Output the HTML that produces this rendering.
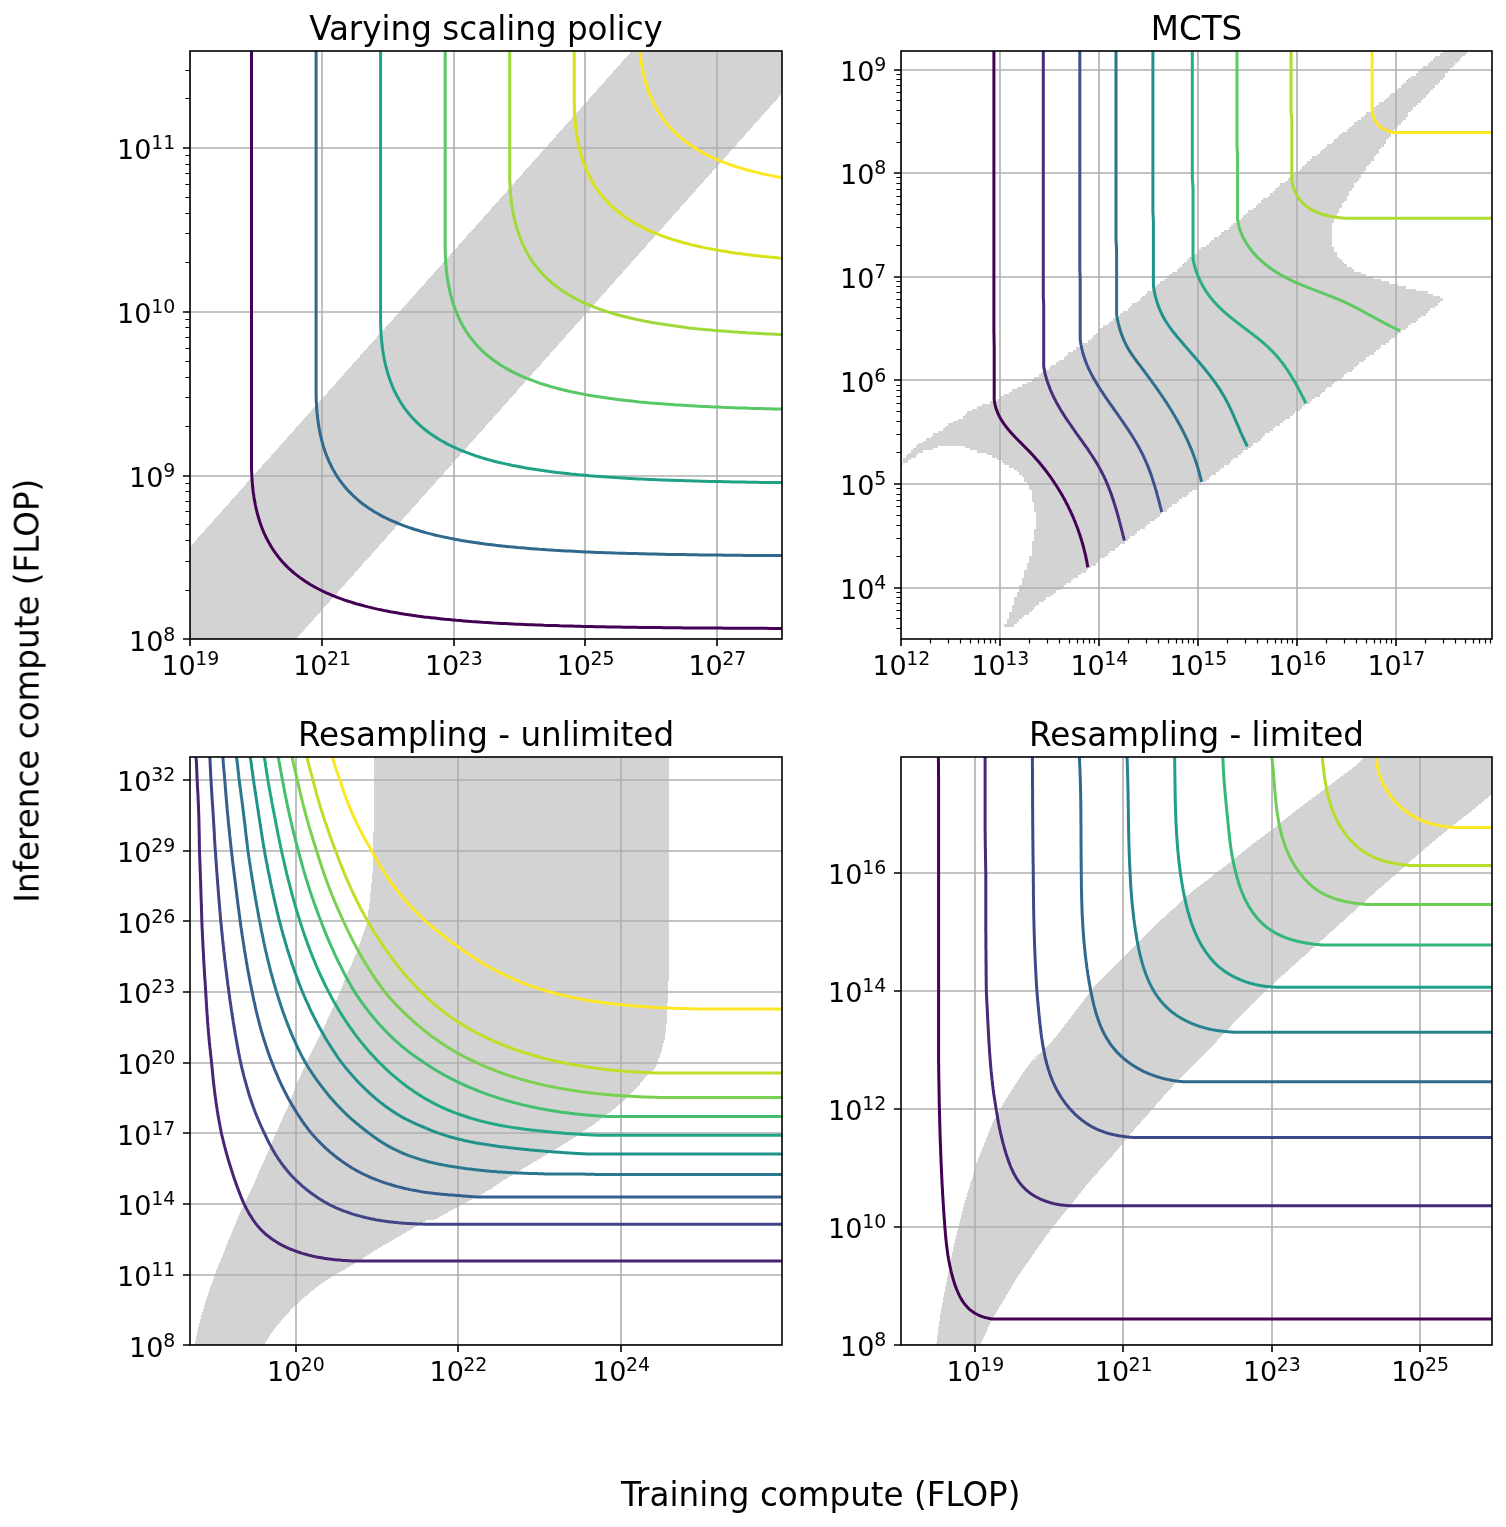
<!DOCTYPE html><html><head><meta charset="utf-8"><title>Compute tradeoff</title><style>html,body{margin:0;padding:0;background:#fff}svg{display:block}</style></head><body><svg width="1506" height="1527" viewBox="0 0 1506 1527" font-family="DejaVu Sans, Liberation Sans, sans-serif" fill="#000"><rect width="1506" height="1527" fill="#fff"/><clipPath id="c1"><rect x="190.00" y="51.00" width="592.00" height="588.00"/></clipPath>
<g clip-path="url(#c1)">
<path d="M185 552.5 L637.1 45 L790 45 L790 84.5 L290.8 645 L185 645 Z" fill="#d3d3d3" stroke="none" shape-rendering="crispEdges"/>
<path d="M190.00 51.00 V639.00 M322.00 51.00 V639.00 M454.00 51.00 V639.00 M585.00 51.00 V639.00 M717.00 51.00 V639.00 M190.00 639.00 H782.00 M190.00 476.00 H782.00 M190.00 312.00 H782.00 M190.00 148.00 H782.00" stroke="#b0b0b0" stroke-width="1.6" fill="none"/>
<path d="M251.5 46L251.5 467.6L251.6 470.2L251.7 472.7L251.8 475.3L251.9 477.8L252.1 480.3L252.3 482.8L252.5 485.3L252.8 487.8L253 490.2L253.3 492.7L253.7 495.1L254 497.5L254.4 499.9L254.9 502.3L255.3 504.7L255.8 507L256.3 509.4L256.9 511.7L257.5 514L258.1 516.3L258.8 518.5L259.5 520.8L260.2 523L261 525.2L261.8 527.4L262.6 529.5L263.5 531.7L264.4 533.8L265.4 535.9L266.4 538L267.5 540L268.5 542L269.7 544.1L270.8 546L272 548L273.3 549.9L274.6 551.8L275.9 553.7L277.3 555.5L278.7 557.4L280.2 559.2L281.7 560.9L283.3 562.7L284.9 564.4L286.5 566.1L288.2 567.8L290 569.4L291.7 571L293.6 572.6L295.4 574.1L297.4 575.6L299.3 577.1L301.3 578.6L303.4 580L305.5 581.4L307.6 582.8L309.8 584.2L312 585.5L314.3 586.8L316.6 588L319 589.3L321.3 590.5L323.8 591.6L326.3 592.8L328.8 593.9L331.3 595L334 596.1L336.6 597.1L339.3 598.1L342 599.1L344.7 600.1L347.5 601L350.4 601.9L353.2 602.8L356.1 603.7L359.1 604.5L362 605.3L365 606.1L368.1 606.9L371.2 607.6L374.3 608.4L377.4 609.1L380.5 609.7L383.7 610.4L387 611L390.2 611.7L393.5 612.3L396.8 612.8L400.1 613.4L403.5 614L406.8 614.5L410.2 615L413.7 615.5L417.1 616L420.6 616.4L424.1 616.9L427.6 617.3L431.1 617.7L434.7 618.1L438.2 618.5L441.8 618.9L445.4 619.3L449.1 619.6L452.7 619.9L456.4 620.3L460.1 620.6L463.7 620.9L467.5 621.2L471.2 621.5L474.9 621.7L478.7 622L482.4 622.3L486.2 622.5L490 622.7L493.8 623L497.6 623.2L501.4 623.4L505.2 623.6L509.1 623.8L512.9 624L516.8 624.2L520.7 624.3L524.5 624.5L528.4 624.7L532.3 624.8L536.2 625L540.1 625.1L544.1 625.3L548 625.4L551.9 625.5L555.9 625.6L559.8 625.8L563.8 625.9L567.7 626L571.7 626.1L575.7 626.2L579.6 626.3L583.6 626.4L587.6 626.5L591.6 626.6L595.6 626.7L599.6 626.7L603.6 626.8L607.6 626.9L611.6 627L615.6 627L619.7 627.1L623.7 627.2L627.7 627.2L631.7 627.3L635.8 627.3L639.8 627.4L643.8 627.4L647.9 627.5L651.9 627.5L656 627.6L660 627.6L664.1 627.7L668.1 627.7L672.2 627.8L680.3 627.8L684.4 627.9L692.5 627.9L696.6 628L704.7 628L708.8 628.1L721 628.1L725.1 628.2L741.4 628.2L745.5 628.3L765.9 628.3L770 628.4L794.6 628.4L798.7 628.5L839.6 628.5L843.7 628.6L913.5 628.6L917.6 628.7L1645.1 628.7" stroke="#440154" stroke-width="3" fill="none" stroke-linejoin="round"/>
<path d="M316.1 46L316.1 395.2L316.2 397.7L316.2 400.3L316.4 402.8L316.5 405.3L316.7 407.8L316.8 410.3L317.1 412.8L317.3 415.3L317.6 417.8L317.9 420.2L318.2 422.6L318.6 425L319 427.4L319.4 429.8L319.9 432.2L320.4 434.6L320.9 436.9L321.4 439.2L322 441.5L322.7 443.8L323.3 446.1L324 448.3L324.7 450.5L325.5 452.7L326.3 454.9L327.2 457.1L328.1 459.2L329 461.3L330 463.4L331 465.5L332 467.6L333.1 469.6L334.2 471.6L335.4 473.6L336.6 475.5L337.8 477.5L339.1 479.4L340.5 481.2L341.9 483.1L343.3 484.9L344.8 486.7L346.3 488.5L347.8 490.2L349.4 491.9L351.1 493.6L352.8 495.3L354.5 496.9L356.3 498.5L358.1 500.1L360 501.7L361.9 503.2L363.9 504.7L365.9 506.1L367.9 507.6L370 509L372.2 510.3L374.3 511.7L376.6 513L378.8 514.3L381.1 515.6L383.5 516.8L385.9 518L388.3 519.2L390.8 520.3L393.3 521.4L395.9 522.5L398.5 523.6L401.1 524.6L403.8 525.7L406.5 526.6L409.3 527.6L412.1 528.5L414.9 529.5L417.8 530.3L420.7 531.2L423.6 532L426.6 532.9L429.6 533.6L432.6 534.4L435.7 535.2L438.8 535.9L441.9 536.6L445.1 537.3L448.3 537.9L451.5 538.6L454.8 539.2L458 539.8L461.3 540.4L464.7 540.9L468 541.5L471.4 542L474.8 542.5L478.2 543L481.7 543.5L485.1 544L488.6 544.4L492.1 544.8L495.7 545.3L499.2 545.7L502.8 546.1L506.4 546.4L510 546.8L513.6 547.1L517.3 547.5L520.9 547.8L524.6 548.1L528.3 548.4L532 548.7L535.7 549L539.5 549.3L543.2 549.5L547 549.8L550.7 550L554.5 550.3L558.3 550.5L562.1 550.7L566 550.9L569.8 551.1L573.6 551.3L577.5 551.5L581.3 551.7L585.2 551.9L589.1 552L593 552.2L596.9 552.4L600.8 552.5L604.7 552.7L608.6 552.8L612.5 552.9L616.5 553.1L620.4 553.2L624.4 553.3L628.3 553.4L632.3 553.5L636.2 553.6L640.2 553.7L644.2 553.8L648.2 553.9L652.2 554L656.1 554.1L660.1 554.2L664.1 554.3L668.1 554.4L672.2 554.4L676.2 554.5L680.2 554.6L684.2 554.6L688.2 554.7L692.3 554.8L696.3 554.8L700.3 554.9L704.4 554.9L708.4 555L712.4 555L716.5 555.1L720.5 555.1L724.6 555.2L728.6 555.2L732.7 555.3L740.8 555.3L744.9 555.4L753 555.4L757 555.5L765.2 555.5L769.3 555.6L781.5 555.6L785.6 555.7L797.8 555.7L801.9 555.8L818.2 555.8L822.3 555.9L846.8 555.9L850.9 556L883.7 556L887.8 556.1L945.2 556.1L949.3 556.2L1109.5 556.2L1113.6 556.3L1709.6 556.3" stroke="#31688e" stroke-width="3" fill="none" stroke-linejoin="round"/>
<path d="M380.6 46L380.6 322.7L380.7 325.2L380.8 327.8L380.9 330.3L381 332.9L381.2 335.4L381.4 337.9L381.6 340.4L381.9 342.8L382.1 345.3L382.4 347.7L382.8 350.2L383.1 352.6L383.5 355L384 357.4L384.4 359.7L384.9 362.1L385.4 364.4L386 366.7L386.6 369L387.2 371.3L387.9 373.6L388.6 375.8L389.3 378.1L390.1 380.3L390.9 382.4L391.7 384.6L392.6 386.8L393.5 388.9L394.5 391L395.5 393L396.6 395.1L397.6 397.1L398.8 399.1L399.9 401.1L401.1 403.1L402.4 405L403.7 406.9L405 408.8L406.4 410.6L407.8 412.4L409.3 414.2L410.8 416L412.4 417.8L414 419.5L415.6 421.2L417.3 422.8L419.1 424.5L420.8 426.1L422.7 427.6L424.5 429.2L426.5 430.7L428.4 432.2L430.4 433.7L432.5 435.1L434.6 436.5L436.7 437.9L438.9 439.2L441.1 440.5L443.4 441.8L445.7 443.1L448.1 444.3L450.4 445.5L452.9 446.7L455.4 447.9L457.9 449L460.4 450.1L463.1 451.1L465.7 452.2L468.4 453.2L471.1 454.2L473.8 455.1L476.6 456.1L479.5 457L482.3 457.9L485.2 458.7L488.2 459.6L491.1 460.4L494.1 461.2L497.2 462L500.3 462.7L503.4 463.4L506.5 464.1L509.6 464.8L512.8 465.5L516.1 466.1L519.3 466.7L522.6 467.3L525.9 467.9L529.2 468.5L532.6 469L535.9 469.6L539.3 470.1L542.8 470.6L546.2 471L549.7 471.5L553.2 471.9L556.7 472.4L560.2 472.8L563.8 473.2L567.3 473.6L570.9 474L574.5 474.3L578.2 474.7L581.8 475L585.5 475.3L589.2 475.7L592.8 476L596.6 476.3L600.3 476.5L604 476.8L607.8 477.1L611.5 477.3L615.3 477.6L619.1 477.8L622.9 478L626.7 478.3L630.5 478.5L634.3 478.7L638.2 478.9L642 479.1L645.9 479.2L649.8 479.4L653.6 479.6L657.5 479.7L661.4 479.9L665.3 480L669.2 480.2L673.2 480.3L677.1 480.5L681 480.6L685 480.7L688.9 480.8L692.9 481L696.8 481.1L700.8 481.2L704.8 481.3L708.7 481.4L712.7 481.5L716.7 481.6L720.7 481.6L724.7 481.7L728.7 481.8L732.7 481.9L736.7 482L740.7 482L744.7 482.1L748.8 482.2L752.8 482.2L756.8 482.3L760.8 482.4L764.9 482.4L768.9 482.5L772.9 482.5L777 482.6L781 482.6L785.1 482.7L789.1 482.7L793.2 482.8L801.3 482.8L805.3 482.9L813.5 482.9L817.5 483L825.7 483L829.7 483.1L837.9 483.1L842 483.2L854.2 483.2L858.3 483.3L874.6 483.3L878.7 483.4L899.1 483.4L903.2 483.5L931.9 483.5L936 483.6L985.1 483.6L989.2 483.7L1083.7 483.7L1087.8 483.8L1774.2 483.8" stroke="#1fa187" stroke-width="3" fill="none" stroke-linejoin="round"/>
<path d="M445.2 46L445.2 250.2L445.3 252.8L445.3 255.3L445.5 257.9L445.6 260.4L445.8 262.9L445.9 265.4L446.2 267.9L446.4 270.4L446.7 272.8L447 275.3L447.3 277.7L447.7 280.1L448.1 282.5L448.5 284.9L449 287.3L449.5 289.6L450 292L450.5 294.3L451.1 296.6L451.8 298.9L452.4 301.1L453.1 303.4L453.8 305.6L454.6 307.8L455.4 310L456.3 312.1L457.2 314.3L458.1 316.4L459.1 318.5L460.1 320.6L461.1 322.6L462.2 324.7L463.3 326.7L464.5 328.6L465.7 330.6L466.9 332.5L468.2 334.4L469.6 336.3L471 338.2L472.4 340L473.9 341.8L475.4 343.6L476.9 345.3L478.5 347L480.2 348.7L481.9 350.4L483.6 352L485.4 353.6L487.2 355.2L489.1 356.7L491 358.2L493 359.7L495 361.2L497 362.6L499.1 364L501.3 365.4L503.4 366.8L505.7 368.1L507.9 369.4L510.2 370.6L512.6 371.9L515 373.1L517.4 374.2L519.9 375.4L522.4 376.5L525 377.6L527.6 378.7L530.2 379.7L532.9 380.7L535.6 381.7L538.4 382.7L541.2 383.6L544 384.5L546.9 385.4L549.8 386.3L552.7 387.1L555.7 387.9L558.7 388.7L561.7 389.5L564.8 390.2L567.9 391L571 391.7L574.2 392.3L577.4 393L580.6 393.6L583.9 394.3L587.1 394.9L590.4 395.4L593.8 396L597.1 396.6L600.5 397.1L603.9 397.6L607.3 398.1L610.8 398.6L614.2 399L617.7 399.5L621.2 399.9L624.8 400.3L628.3 400.7L631.9 401.1L635.5 401.5L639.1 401.9L642.7 402.2L646.4 402.6L650 402.9L653.7 403.2L657.4 403.5L661.1 403.8L664.8 404.1L668.6 404.3L672.3 404.6L676.1 404.9L679.8 405.1L683.6 405.3L687.4 405.6L691.2 405.8L695.1 406L698.9 406.2L702.7 406.4L706.6 406.6L710.4 406.8L714.3 406.9L718.2 407.1L722.1 407.3L726 407.4L729.9 407.6L733.8 407.7L737.7 407.9L741.6 408L745.6 408.1L749.5 408.3L753.5 408.4L757.4 408.5L761.4 408.6L765.3 408.7L769.3 408.8L773.3 408.9L777.3 409L781.3 409.1L785.2 409.2L789.2 409.3L793.2 409.3L797.2 409.4L801.3 409.5L805.3 409.6L809.3 409.6L813.3 409.7L817.3 409.8L821.4 409.8L825.4 409.9L829.4 409.9L833.5 410L837.5 410.1L841.5 410.1L845.6 410.2L853.7 410.2L857.7 410.3L861.8 410.3L865.8 410.4L874 410.4L878 410.5L886.1 410.5L890.2 410.6L898.4 410.6L902.4 410.7L914.7 410.7L918.7 410.8L931 410.8L935.1 410.9L955.5 410.9L959.6 411L984.1 411L988.2 411.1L1029.2 411.1L1033.3 411.2L1098.9 411.2L1103 411.3L1838.7 411.3" stroke="#58c765" stroke-width="3" fill="none" stroke-linejoin="round"/>
<path d="M509.7 46L509.7 177.8L509.8 180.3L509.9 182.9L510 185.4L510.1 187.9L510.3 190.4L510.5 192.9L510.7 195.4L511 197.9L511.2 200.4L511.5 202.8L511.9 205.2L512.2 207.7L512.6 210.1L513.1 212.4L513.5 214.8L514 217.2L514.5 219.5L515.1 221.8L515.7 224.1L516.3 226.4L517 228.7L517.7 230.9L518.4 233.1L519.2 235.3L520 237.5L520.8 239.7L521.7 241.8L522.6 243.9L523.6 246L524.6 248.1L525.7 250.2L526.7 252.2L527.9 254.2L529 256.2L530.2 258.1L531.5 260.1L532.8 262L534.1 263.8L535.5 265.7L536.9 267.5L538.4 269.3L539.9 271.1L541.5 272.8L543.1 274.6L544.7 276.2L546.4 277.9L548.2 279.5L549.9 281.1L551.8 282.7L553.6 284.3L555.6 285.8L557.5 287.3L559.5 288.7L561.6 290.2L563.7 291.6L565.8 292.9L568 294.3L570.2 295.6L572.5 296.9L574.8 298.2L577.2 299.4L579.5 300.6L582 301.8L584.5 302.9L587 304.1L589.5 305.1L592.2 306.2L594.8 307.3L597.5 308.3L600.2 309.3L602.9 310.2L605.7 311.2L608.6 312.1L611.4 313L614.3 313.8L617.3 314.7L620.2 315.5L623.2 316.3L626.3 317L629.4 317.8L632.5 318.5L635.6 319.2L638.7 319.9L641.9 320.5L645.2 321.2L648.4 321.8L651.7 322.4L655 323L658.3 323.5L661.7 324.1L665 324.6L668.4 325.1L671.9 325.6L675.3 326.1L678.8 326.6L682.3 327L685.8 327.4L689.3 327.9L692.9 328.3L696.4 328.7L700 329L703.6 329.4L707.3 329.8L710.9 330.1L714.6 330.4L718.3 330.7L721.9 331L725.7 331.3L729.4 331.6L733.1 331.9L736.9 332.1L740.6 332.4L744.4 332.6L748.2 332.9L752 333.1L755.8 333.3L759.6 333.5L763.4 333.7L767.3 333.9L771.1 334.1L775 334.3L778.9 334.5L782.7 334.7L786.6 334.8L790.5 335L794.4 335.1L798.3 335.3L802.3 335.4L806.2 335.5L810.1 335.7L814.1 335.8L818 335.9L822 336L825.9 336.1L829.9 336.2L833.9 336.3L837.8 336.4L841.8 336.5L845.8 336.6L849.8 336.7L853.8 336.8L857.8 336.9L861.8 337L865.8 337L869.8 337.1L873.8 337.2L877.9 337.2L881.9 337.3L885.9 337.4L889.9 337.4L894 337.5L898 337.5L902 337.6L906.1 337.6L910.1 337.7L914.2 337.7L918.2 337.8L922.3 337.8L926.3 337.9L934.4 337.9L938.5 338L946.6 338L950.7 338.1L958.8 338.1L962.9 338.2L971.1 338.2L975.1 338.3L991.4 338.3L995.5 338.4L1011.9 338.4L1015.9 338.5L1036.4 338.5L1040.5 338.6L1073.3 338.6L1077.3 338.7L1130.7 338.7L1134.8 338.8L1278.5 338.8L1282.6 338.9L1903.3 338.9" stroke="#a0da39" stroke-width="3" fill="none" stroke-linejoin="round"/>
<path d="M574.2 46L574.2 100.1L574.3 102.7L574.3 105.3L574.4 107.9L574.4 110.4L574.6 112.9L574.7 115.5L574.9 118L575 120.5L575.3 123L575.5 125.4L575.8 127.9L576.1 130.3L576.4 132.8L576.8 135.2L577.2 137.6L577.6 140L578.1 142.3L578.6 144.7L579.1 147L579.6 149.4L580.2 151.7L580.9 153.9L581.5 156.2L582.2 158.4L582.9 160.7L583.7 162.9L584.5 165.1L585.4 167.2L586.3 169.4L587.2 171.5L588.2 173.6L589.2 175.6L590.2 177.7L591.3 179.7L592.4 181.7L593.6 183.7L594.8 185.7L596 187.6L597.3 189.5L598.7 191.4L600.1 193.2L601.5 195.1L603 196.9L604.5 198.6L606 200.4L607.6 202.1L609.3 203.8L611 205.4L612.7 207.1L614.5 208.7L616.3 210.3L618.2 211.8L620.1 213.3L622.1 214.8L624.1 216.3L626.1 217.7L628.2 219.1L630.4 220.5L632.5 221.8L634.8 223.1L637 224.4L639.3 225.7L641.7 226.9L644.1 228.1L646.5 229.3L649 230.5L651.5 231.6L654.1 232.7L656.7 233.7L659.3 234.8L662 235.8L664.7 236.8L667.5 237.8L670.3 238.7L673.1 239.6L676 240.5L678.9 241.3L681.8 242.2L684.8 243L687.8 243.8L690.8 244.6L693.9 245.3L697 246L700.1 246.7L703.3 247.4L706.5 248.1L709.7 248.7L713 249.3L716.2 249.9L719.5 250.5L722.9 251.1L726.2 251.6L729.6 252.2L733 252.7L736.4 253.2L739.9 253.6L743.3 254.1L746.8 254.6L750.3 255L753.9 255.4L757.4 255.8L761 256.2L764.6 256.6L768.2 256.9L771.8 257.3L775.5 257.6L779.1 258L782.8 258.3L786.5 258.6L790.2 258.9L793.9 259.1L797.7 259.4L801.4 259.7L805.2 259.9L808.9 260.2L812.7 260.4L816.5 260.6L820.3 260.9L824.2 261.1L828 261.3L831.8 261.5L835.7 261.7L839.5 261.8L843.4 262L847.3 262.2L851.2 262.4L855.1 262.5L859 262.7L862.9 262.8L866.8 262.9L870.7 263.1L874.7 263.2L878.6 263.3L882.6 263.4L886.5 263.6L890.5 263.7L894.4 263.8L898.4 263.9L902.4 264L906.4 264.1L910.4 264.2L914.3 264.3L918.3 264.3L922.3 264.4L926.3 264.5L930.4 264.6L934.4 264.6L938.4 264.7L942.4 264.8L946.4 264.8L950.5 264.9L954.5 265L958.5 265L962.6 265.1L966.6 265.1L970.6 265.2L974.7 265.2L978.7 265.3L982.8 265.3L986.8 265.4L994.9 265.4L999 265.5L1003.1 265.5L1007.1 265.6L1019.3 265.6L1023.4 265.7L1031.5 265.7L1035.6 265.8L1047.8 265.8L1051.9 265.9L1068.2 265.9L1072.3 266L1092.8 266L1096.9 266.1L1125.5 266.1L1129.6 266.2L1170.6 266.2L1174.7 266.3L1265 266.3L1269.1 266.4L1967.8 266.4" stroke="#d8e219" stroke-width="3" fill="none" stroke-linejoin="round"/>
<path d="M638.8 46L638.8 32.8L638.9 35.4L639 37.9L639.1 40.5L639.2 43L639.4 45.5L639.6 48L639.8 50.5L640.1 53L640.3 55.4L640.6 57.9L641 60.3L641.3 62.7L641.7 65.1L642.2 67.5L642.6 69.9L643.1 72.2L643.6 74.6L644.2 76.9L644.8 79.2L645.4 81.5L646.1 83.7L646.8 86L647.5 88.2L648.3 90.4L649.1 92.6L649.9 94.8L650.8 96.9L651.7 99L652.7 101.1L653.7 103.2L654.8 105.2L655.8 107.3L657 109.3L658.1 111.2L659.3 113.2L660.6 115.1L661.9 117L663.2 118.9L664.6 120.8L666 122.6L667.5 124.4L669 126.2L670.6 127.9L672.2 129.6L673.8 131.3L675.5 133L677.3 134.6L679 136.2L680.9 137.8L682.7 139.3L684.7 140.9L686.6 142.3L688.6 143.8L690.7 145.2L692.8 146.6L694.9 148L697.1 149.4L699.3 150.7L701.6 152L703.9 153.2L706.3 154.5L708.6 155.7L711.1 156.9L713.6 158L716.1 159.1L718.6 160.2L721.3 161.3L723.9 162.3L726.6 163.3L729.3 164.3L732 165.3L734.8 166.2L737.7 167.1L740.5 168L743.4 168.9L746.4 169.7L749.3 170.5L752.3 171.3L755.4 172.1L758.5 172.8L761.6 173.6L764.7 174.3L767.8 174.9L771 175.6L774.3 176.3L777.5 176.9L780.8 177.5L784.1 178.1L787.4 178.6L790.8 179.2L794.1 179.7L797.5 180.2L801 180.7L804.4 181.2L807.9 181.6L811.4 182.1L814.9 182.5L818.4 182.9L822 183.3L825.5 183.7L829.1 184.1L832.7 184.5L836.4 184.8L840 185.2L843.7 185.5L847.4 185.8L851 186.1L854.8 186.4L858.5 186.7L862.2 187L866 187.2L869.7 187.5L873.5 187.7L877.3 188L881.1 188.2L884.9 188.4L888.7 188.6L892.5 188.8L896.4 189L900.2 189.2L904.1 189.4L908 189.6L911.8 189.7L915.7 189.9L919.6 190L923.5 190.2L927.4 190.3L931.4 190.5L935.3 190.6L939.2 190.7L943.2 190.9L947.1 191L951.1 191.1L955 191.2L959 191.3L963 191.4L966.9 191.5L970.9 191.6L974.9 191.7L978.9 191.8L982.9 191.9L986.9 192L990.9 192L994.9 192.1L998.9 192.2L1002.9 192.2L1007 192.3L1011 192.4L1015 192.4L1019 192.5L1023.1 192.6L1027.1 192.6L1031.1 192.7L1035.2 192.7L1039.2 192.8L1043.3 192.8L1047.3 192.9L1055.4 192.9L1059.5 193L1063.5 193L1067.6 193.1L1075.7 193.1L1079.8 193.2L1092 193.2L1096.1 193.3L1108.3 193.3L1112.4 193.4L1124.6 193.4L1128.7 193.5L1149.1 193.5L1153.2 193.6L1177.8 193.6L1181.9 193.7L1218.7 193.7L1222.8 193.8L1284.4 193.8L1288.5 193.9L1625.4 193.9L1629.5 194L2032.4 194" stroke="#fde725" stroke-width="3" fill="none" stroke-linejoin="round"/>
</g>
<path d="M190.00 639.00 v7 M322.00 639.00 v7 M454.00 639.00 v7 M585.00 639.00 v7 M717.00 639.00 v7 M190.00 639.00 h-7 M190.00 476.00 h-7 M190.00 312.00 h-7 M190.00 148.00 h-7" stroke="#000" stroke-width="1.6" fill="none"/>
<path d="M190.00 590.50 h-4.6 M190.00 561.50 h-4.6 M190.00 540.50 h-4.6 M190.00 524.50 h-4.6 M190.00 511.50 h-4.6 M190.00 501.50 h-4.6 M190.00 491.50 h-4.6 M190.00 483.50 h-4.6 M190.00 426.50 h-4.6 M190.00 397.50 h-4.6 M190.00 377.50 h-4.6 M190.00 361.50 h-4.6 M190.00 348.50 h-4.6 M190.00 337.50 h-4.6 M190.00 327.50 h-4.6 M190.00 319.50 h-4.6 M190.00 262.50 h-4.6 M190.00 233.50 h-4.6 M190.00 213.50 h-4.6 M190.00 197.50 h-4.6 M190.00 184.50 h-4.6 M190.00 173.50 h-4.6 M190.00 164.50 h-4.6 M190.00 155.50 h-4.6 M190.00 98.50 h-4.6 M190.00 70.50 h-4.6" stroke="#000" stroke-width="1.2" fill="none"/>
<rect x="190.00" y="51.00" width="592.00" height="588.00" fill="none" stroke="#000" stroke-width="1.6"/>
<clipPath id="c2"><rect x="901.00" y="51.00" width="591.00" height="588.00"/></clipPath>
<g clip-path="url(#c2)">
<path d="M1442.75 51.00H1467.38V53.50H1442.75ZM1440.29 53.45H1464.91V55.95H1440.29ZM1435.36 55.90H1462.45V58.40H1435.36ZM1432.90 58.35H1459.99V60.85H1432.90ZM1430.44 60.80H1457.53V63.30H1430.44ZM1427.97 63.25H1455.06V65.75H1427.97ZM1423.05 65.70H1452.60V68.20H1423.05ZM1420.59 68.15H1450.14V70.65H1420.59ZM1418.12 70.60H1447.67V73.10H1418.12ZM1415.66 73.05H1445.21V75.55H1415.66ZM1410.74 75.50H1445.21V78.00H1410.74ZM1408.28 77.95H1442.75V80.45H1408.28ZM1405.81 80.40H1440.29V82.90H1405.81ZM1403.35 82.85H1437.82V85.35H1403.35ZM1400.89 85.30H1435.36V87.80H1400.89ZM1398.42 87.75H1432.90V90.25H1398.42ZM1395.96 90.20H1430.44V92.70H1395.96ZM1391.04 92.65H1427.97V95.15H1391.04ZM1388.58 95.10H1425.51V97.60H1388.58ZM1386.11 97.55H1423.05V100.05H1386.11ZM1383.65 100.00H1420.59V102.50H1383.65ZM1378.72 102.45H1418.12V104.95H1378.72ZM1376.26 104.90H1415.66V107.40H1376.26ZM1373.80 107.35H1413.20V109.85H1373.80ZM1371.34 109.80H1410.74V112.30H1371.34ZM1366.41 112.25H1408.28V114.75H1366.41ZM1363.95 114.70H1408.28V117.20H1363.95ZM1361.49 117.15H1405.81V119.65H1361.49ZM1356.56 119.60H1403.35V122.10H1356.56ZM1354.10 122.05H1400.89V124.55H1354.10ZM1351.64 124.50H1398.42V127.00H1351.64ZM1349.17 126.95H1395.96V129.45H1349.17ZM1346.71 129.40H1393.50V131.90H1346.71ZM1341.79 131.85H1391.04V134.35H1341.79ZM1339.33 134.30H1391.04V136.80H1339.33ZM1336.86 136.75H1388.58V139.25H1336.86ZM1334.40 139.20H1386.11V141.70H1334.40ZM1331.94 141.65H1386.11V144.15H1331.94ZM1327.01 144.10H1383.65V146.60H1327.01ZM1324.55 146.55H1381.19V149.05H1324.55ZM1322.09 149.00H1378.72V151.50H1322.09ZM1319.62 151.45H1378.72V153.95H1319.62ZM1317.16 153.90H1376.26V156.40H1317.16ZM1312.24 156.35H1373.80V158.85H1312.24ZM1309.78 158.80H1373.80V161.30H1309.78ZM1307.31 161.25H1371.34V163.75H1307.31ZM1304.85 163.70H1368.88V166.20H1304.85ZM1302.39 166.15H1366.41V168.65H1302.39ZM1299.92 168.60H1366.41V171.10H1299.92ZM1297.46 171.05H1363.95V173.55H1297.46ZM1292.54 173.50H1361.49V176.00H1292.54ZM1290.08 175.95H1361.49V178.45H1290.08ZM1287.61 178.40H1359.03V180.90H1287.61ZM1285.15 180.85H1356.56V183.35H1285.15ZM1280.22 183.30H1354.10V185.80H1280.22ZM1277.76 185.75H1354.10V188.25H1277.76ZM1275.30 188.20H1351.64V190.70H1275.30ZM1272.84 190.65H1349.17V193.15H1272.84ZM1270.38 193.10H1349.17V195.60H1270.38ZM1267.91 195.55H1346.71V198.05H1267.91ZM1262.99 198.00H1346.71V200.50H1262.99ZM1260.53 200.45H1344.25V202.95H1260.53ZM1258.06 202.90H1341.79V205.40H1258.06ZM1255.60 205.35H1341.79V207.85H1255.60ZM1253.14 207.80H1339.33V210.30H1253.14ZM1248.21 210.25H1339.33V212.75H1248.21ZM1245.75 212.70H1336.86V215.20H1245.75ZM1243.29 215.15H1336.86V217.65H1243.29ZM1240.83 217.60H1334.40V220.10H1240.83ZM1238.36 220.05H1334.40V222.55H1238.36ZM1233.44 222.50H1331.94V225.00H1233.44ZM1230.97 224.95H1331.94V227.45H1230.97ZM1228.51 227.40H1331.94V229.90H1228.51ZM1223.59 229.85H1331.94V232.35H1223.59ZM1221.12 232.30H1331.94V234.80H1221.12ZM1218.66 234.75H1331.94V237.25H1218.66ZM1213.74 237.20H1331.94V239.70H1213.74ZM1211.28 239.65H1331.94V242.15H1211.28ZM1208.81 242.10H1331.94V244.60H1208.81ZM1206.35 244.55H1331.94V247.05H1206.35ZM1201.42 247.00H1334.40V249.50H1201.42ZM1198.96 249.45H1334.40V251.95H1198.96ZM1196.50 251.90H1336.86V254.40H1196.50ZM1194.04 254.35H1336.86V256.85H1194.04ZM1189.11 256.80H1339.33V259.30H1189.11ZM1186.65 259.25H1341.79V261.75H1186.65ZM1184.19 261.70H1344.25V264.20H1184.19ZM1181.72 264.15H1346.71V266.65H1181.72ZM1179.26 266.60H1351.64V269.10H1179.26ZM1176.80 269.05H1354.10V271.55H1176.80ZM1171.88 271.50H1361.49V274.00H1171.88ZM1169.41 273.95H1366.41V276.45H1169.41ZM1166.95 276.40H1373.80V278.90H1166.95ZM1164.49 278.85H1381.19V281.35H1164.49ZM1159.56 281.30H1388.58V283.80H1159.56ZM1157.10 283.75H1398.42V286.25H1157.10ZM1154.64 286.20H1405.81V288.70H1154.64ZM1152.17 288.65H1415.66V291.15H1152.17ZM1147.25 291.10H1427.97V293.60H1147.25ZM1144.79 293.55H1432.90V296.05H1144.79ZM1142.33 296.00H1440.29V298.50H1142.33ZM1139.86 298.45H1442.75V300.95H1139.86ZM1137.40 300.90H1440.29V303.40H1137.40ZM1132.47 303.35H1437.82V305.85H1132.47ZM1130.01 305.80H1435.36V308.30H1130.01ZM1127.55 308.25H1430.44V310.75H1127.55ZM1122.62 310.70H1427.97V313.20H1122.62ZM1120.16 313.15H1425.51V315.65H1120.16ZM1117.70 315.60H1420.59V318.10H1117.70ZM1112.78 318.05H1418.12V320.55H1112.78ZM1110.31 320.50H1415.66V323.00H1110.31ZM1107.85 322.95H1410.74V325.45H1107.85ZM1102.92 325.40H1408.28V327.90H1102.92ZM1100.46 327.85H1405.81V330.35H1100.46ZM1098.00 330.30H1400.89V332.80H1098.00ZM1095.54 332.75H1398.42V335.25H1095.54ZM1093.08 335.20H1395.96V337.70H1093.08ZM1090.61 337.65H1391.04V340.15H1090.61ZM1088.15 340.10H1388.58V342.60H1088.15ZM1083.22 342.55H1386.11V345.05H1083.22ZM1080.76 345.00H1381.19V347.50H1080.76ZM1075.84 347.45H1378.72V349.95H1075.84ZM1073.38 349.90H1376.26V352.40H1073.38ZM1068.45 352.35H1373.80V354.85H1068.45ZM1065.99 354.80H1368.88V357.30H1065.99ZM1063.53 357.25H1366.41V359.75H1063.53ZM1058.60 359.70H1363.95V362.20H1058.60ZM1056.14 362.15H1359.03V364.65H1056.14ZM1051.21 364.60H1356.56V367.10H1051.21ZM1048.75 367.05H1354.10V369.55H1048.75ZM1046.29 369.50H1351.64V372.00H1046.29ZM1041.36 371.95H1346.71V374.45H1041.36ZM1038.90 374.40H1344.25V376.90H1038.90ZM1033.97 376.85H1341.79V379.35H1033.97ZM1031.51 379.30H1336.86V381.80H1031.51ZM1026.59 381.75H1334.40V384.25H1026.59ZM1021.66 384.20H1331.94V386.70H1021.66ZM1016.74 386.65H1327.01V389.15H1016.74ZM1011.81 389.10H1324.55V391.60H1011.81ZM1009.35 391.55H1322.09V394.05H1009.35ZM1004.42 394.00H1319.62V396.50H1004.42ZM999.50 396.45H1314.70V398.95H999.50ZM997.04 398.90H1312.24V401.40H997.04ZM989.65 401.35H1309.78V403.85H989.65ZM982.26 403.80H1304.85V406.30H982.26ZM977.34 406.25H1302.39V408.75H977.34ZM972.41 408.70H1299.92V411.20H972.41ZM967.49 411.15H1295.00V413.65H967.49ZM965.02 413.60H1292.54V416.10H965.02ZM962.56 416.05H1290.08V418.55H962.56ZM957.64 418.50H1285.15V421.00H957.64ZM952.71 420.95H1282.69V423.45H952.71ZM947.79 423.40H1280.22V425.90H947.79ZM945.33 425.85H1275.30V428.35H945.33ZM942.86 428.30H1272.84V430.80H942.86ZM937.94 430.75H1270.38V433.25H937.94ZM933.01 433.20H1265.45V435.70H933.01ZM930.55 435.65H1262.99V438.15H930.55ZM925.62 438.10H1260.53V440.60H925.62ZM923.16 440.55H1258.06V443.05H923.16ZM918.24 443.00H1253.14V445.50H918.24ZM915.77 445.45H937.94V447.95H915.77ZM965.02 445.45H1250.67V447.95H965.02ZM913.31 447.90H933.01V450.40H913.31ZM969.95 447.90H1248.21V450.40H969.95ZM910.85 450.35H923.16V452.85H910.85ZM977.34 450.35H1243.29V452.85H977.34ZM908.39 452.80H918.24V455.30H908.39ZM987.19 452.80H1240.83V455.30H987.19ZM905.92 455.25H915.77V457.75H905.92ZM992.11 455.25H1238.36V457.75H992.11ZM903.46 457.70H910.85V460.20H903.46ZM997.04 457.70H1233.44V460.20H997.04ZM903.46 460.15H908.39V462.65H903.46ZM1001.96 460.15H1230.97V462.65H1001.96ZM901.00 462.60H903.46V465.10H901.00ZM1004.42 462.60H1228.51V465.10H1004.42ZM1009.35 465.05H1223.59V467.55H1009.35ZM1014.27 467.50H1221.12V470.00H1014.27ZM1016.74 469.95H1218.66V472.45H1016.74ZM1019.20 472.40H1216.20V474.90H1019.20ZM1021.66 474.85H1211.28V477.35H1021.66ZM1024.12 477.30H1208.81V479.80H1024.12ZM1024.12 479.75H1206.35V482.25H1024.12ZM1026.59 482.20H1201.42V484.70H1026.59ZM1029.05 484.65H1198.96V487.15H1029.05ZM1029.05 487.10H1196.50V489.60H1029.05ZM1031.51 489.55H1191.58V492.05H1031.51ZM1031.51 492.00H1189.11V494.50H1031.51ZM1031.51 494.45H1186.65V496.95H1031.51ZM1031.51 496.90H1181.72V499.40H1031.51ZM1031.51 499.35H1179.26V501.85H1031.51ZM1033.97 501.80H1176.80V504.30H1033.97ZM1033.97 504.25H1171.88V506.75H1033.97ZM1033.97 506.70H1169.41V509.20H1033.97ZM1033.97 509.15H1166.95V511.65H1033.97ZM1036.44 511.60H1162.03V514.10H1036.44ZM1036.44 514.05H1159.56V516.55H1036.44ZM1036.44 516.50H1157.10V519.00H1036.44ZM1036.44 518.95H1154.64V521.45H1036.44ZM1036.44 521.40H1149.71V523.90H1036.44ZM1036.44 523.85H1147.25V526.35H1036.44ZM1036.44 526.30H1144.79V528.80H1036.44ZM1033.97 528.75H1139.86V531.25H1033.97ZM1033.97 531.20H1137.40V533.70H1033.97ZM1033.97 533.65H1134.94V536.15H1033.97ZM1033.97 536.10H1130.01V538.60H1033.97ZM1033.97 538.55H1127.55V541.05H1033.97ZM1031.51 541.00H1125.09V543.50H1031.51ZM1031.51 543.45H1120.16V545.95H1031.51ZM1031.51 545.90H1117.70V548.40H1031.51ZM1031.51 548.35H1115.24V550.85H1031.51ZM1031.51 550.80H1110.31V553.30H1031.51ZM1031.51 553.25H1107.85V555.75H1031.51ZM1029.05 555.70H1105.39V558.20H1029.05ZM1029.05 558.15H1100.46V560.65H1029.05ZM1029.05 560.60H1098.00V563.10H1029.05ZM1026.59 563.05H1095.54V565.55H1026.59ZM1026.59 565.50H1090.61V568.00H1026.59ZM1026.59 567.95H1088.15V570.45H1026.59ZM1024.12 570.40H1085.69V572.90H1024.12ZM1024.12 572.85H1080.76V575.35H1024.12ZM1024.12 575.30H1078.30V577.80H1024.12ZM1021.66 577.75H1073.38V580.25H1021.66ZM1021.66 580.20H1070.91V582.70H1021.66ZM1021.66 582.65H1065.99V585.15H1021.66ZM1019.20 585.10H1063.53V587.60H1019.20ZM1019.20 587.55H1061.06V590.05H1019.20ZM1019.20 590.00H1056.14V592.50H1019.20ZM1016.74 592.45H1053.67V594.95H1016.74ZM1016.74 594.90H1051.21V597.40H1016.74ZM1014.27 597.35H1046.29V599.85H1014.27ZM1014.27 599.80H1043.83V602.30H1014.27ZM1014.27 602.25H1038.90V604.75H1014.27ZM1011.81 604.70H1036.44V607.20H1011.81ZM1011.81 607.15H1033.97V609.65H1011.81ZM1011.81 609.60H1031.51V612.10H1011.81ZM1009.35 612.05H1029.05V614.55H1009.35ZM1009.35 614.50H1024.12V617.00H1009.35ZM1009.35 616.95H1021.66V619.45H1009.35ZM1006.89 619.40H1019.20V621.90H1006.89ZM1006.89 621.85H1016.74V624.35H1006.89ZM1004.42 624.30H1014.27V626.80H1004.42Z" fill="#d3d3d3" stroke="none" shape-rendering="crispEdges"/>
<path d="M901.00 51.00 V639.00 M1000.00 51.00 V639.00 M1099.00 51.00 V639.00 M1198.00 51.00 V639.00 M1297.00 51.00 V639.00 M1396.00 51.00 V639.00 M901.00 588.00 H1492.00 M901.00 484.00 H1492.00 M901.00 380.00 H1492.00 M901.00 277.00 H1492.00 M901.00 173.00 H1492.00 M901.00 70.00 H1492.00" stroke="#b0b0b0" stroke-width="1.6" fill="none"/>
<path d="M993.9 46L993.9 333.2L994 334.1L994 338.5L994.1 339.4L994.1 344.7L994.2 345.6L994.2 399.6L994.3 400.5L994.4 401.4L994.6 402.2L994.7 403.1L994.9 404L995.1 404.9L995.3 405.7L995.5 406.6L995.8 407.4L996 408.3L996.3 409.1L996.6 409.9L996.8 410.7L997.2 411.5L997.5 412.3L997.8 413.1L998.2 413.9L998.5 414.7L998.9 415.5L999.3 416.2L999.7 417L1000.1 417.7L1000.5 418.5L1001 419.2L1001.4 420L1001.9 420.7L1002.3 421.4L1002.8 422.2L1003.3 422.9L1003.8 423.6L1004.3 424.3L1004.8 425L1005.3 425.7L1005.8 426.4L1006.4 427.1L1006.9 427.8L1007.5 428.5L1008 429.2L1008.6 429.9L1009.2 430.5L1009.8 431.2L1010.3 431.9L1010.9 432.5L1011.5 433.2L1012.1 433.9L1012.7 434.5L1013.4 435.2L1014 435.9L1014.6 436.5L1015.2 437.2L1015.8 437.8L1016.5 438.5L1017.1 439.1L1017.7 439.8L1018.4 440.4L1019 441.1L1019.7 441.7L1020.3 442.4L1021 443L1021.6 443.7L1022.3 444.3L1022.9 445L1023.5 445.6L1024.2 446.3L1024.8 446.9L1025.5 447.6L1026.1 448.2L1026.8 448.9L1027.4 449.5L1028.1 450.2L1028.7 450.8L1029.3 451.5L1030 452.1L1030.6 452.8L1031.2 453.5L1031.8 454.1L1032.5 454.8L1033.1 455.5L1033.7 456.2L1034.3 456.8L1034.9 457.5L1035.5 458.2L1036.1 458.9L1036.7 459.6L1037.3 460.2L1037.9 460.9L1038.5 461.6L1039.1 462.3L1039.7 463L1040.2 463.7L1040.8 464.4L1041.4 465.1L1042 465.8L1042.5 466.5L1043.1 467.2L1043.7 467.9L1044.2 468.6L1044.8 469.3L1045.3 470L1045.9 470.8L1046.4 471.5L1047 472.2L1047.5 472.9L1048 473.6L1048.6 474.4L1049.1 475.1L1049.6 475.8L1050.2 476.5L1050.7 477.3L1051.2 478L1051.7 478.8L1052.2 479.5L1052.7 480.2L1053.2 481L1053.8 481.7L1054.3 482.5L1054.7 483.2L1055.2 484L1055.7 484.7L1056.2 485.5L1056.7 486.2L1057.2 487L1057.7 487.7L1058.1 488.5L1058.6 489.3L1059.1 490L1059.5 490.8L1060 491.5L1060.5 492.3L1060.9 493.1L1061.4 493.9L1061.8 494.6L1062.3 495.4L1062.7 496.2L1063.1 497L1063.6 497.7L1064 498.5L1064.4 499.3L1064.9 500.1L1065.3 500.9L1065.7 501.7L1066.1 502.5L1066.5 503.3L1066.9 504.1L1067.4 504.9L1067.8 505.7L1068.2 506.5L1068.6 507.3L1068.9 508.1L1069.3 508.9L1069.7 509.7L1070.1 510.5L1070.5 511.3L1070.9 512.1L1071.2 512.9L1071.6 513.7L1072 514.6L1072.3 515.4L1072.7 516.2L1073.1 517L1073.4 517.9L1073.8 518.7L1074.1 519.5L1074.4 520.3L1074.8 521.2L1075.1 522L1075.5 522.8L1075.8 523.7L1076.1 524.5L1076.4 525.3L1076.8 526.2L1077.1 527L1077.4 527.9L1077.7 528.7L1078 529.6L1078.3 530.4L1078.6 531.3L1078.9 532.1L1079.2 533L1079.5 533.8L1079.8 534.7L1080 535.5L1080.3 536.4L1080.6 537.3L1080.9 538.1L1081.1 539L1081.4 539.8L1081.7 540.7L1081.9 541.6L1082.2 542.5L1082.4 543.3L1082.7 544.2L1082.9 545.1L1083.2 545.9L1083.4 546.8L1083.6 547.7L1083.9 548.6L1084.1 549.5L1084.3 550.4L1084.5 551.2L1084.7 552.1L1084.9 553L1085.2 553.9L1085.4 554.8L1085.6 555.7L1085.8 556.6L1086 557.5L1086.1 558.4L1086.3 559.3L1086.5 560.2L1086.7 561.1L1086.9 562L1087 562.9L1087.2 563.8L1087.4 564.7L1087.5 565.6L1087.7 566.5L1087.9 567.4" stroke="#440154" stroke-width="3" fill="none" stroke-linejoin="round"/>
<path d="M1043.3 46L1043.3 298L1043.4 298.9L1043.5 299.7L1043.5 301.4L1043.6 302.3L1043.6 303.1L1043.7 304L1043.7 365.8L1043.8 366.7L1043.9 367.5L1044 368.4L1044.2 369.2L1044.4 370.1L1044.5 370.9L1044.7 371.8L1044.9 372.6L1045.1 373.5L1045.3 374.3L1045.5 375.1L1045.7 376L1045.9 376.8L1046.2 377.6L1046.4 378.5L1046.6 379.3L1046.9 380.1L1047.2 380.9L1047.4 381.7L1047.7 382.6L1048 383.4L1048.3 384.2L1048.6 385L1048.9 385.8L1049.2 386.6L1049.5 387.4L1049.8 388.2L1050.1 389L1050.4 389.8L1050.8 390.6L1051.1 391.4L1051.5 392.2L1051.8 393L1052.2 393.8L1052.5 394.6L1052.9 395.4L1053.3 396.1L1053.6 396.9L1054 397.7L1054.4 398.5L1054.8 399.3L1055.2 400L1055.6 400.8L1056 401.6L1056.4 402.4L1056.8 403.1L1057.3 403.9L1057.7 404.6L1058.1 405.4L1058.5 406.2L1059 406.9L1059.4 407.7L1059.9 408.4L1060.3 409.2L1060.8 410L1061.2 410.7L1061.7 411.5L1062.1 412.2L1062.6 412.9L1063.1 413.7L1063.5 414.4L1064 415.2L1064.5 415.9L1065 416.7L1065.4 417.4L1065.9 418.1L1066.4 418.9L1066.9 419.6L1067.4 420.3L1067.9 421.1L1068.4 421.8L1068.9 422.5L1069.4 423.2L1069.9 424L1070.4 424.7L1070.9 425.4L1071.4 426.1L1071.9 426.9L1072.4 427.6L1072.9 428.3L1073.4 429L1073.9 429.7L1074.4 430.5L1074.9 431.2L1075.4 431.9L1075.9 432.6L1076.4 433.3L1077 434.1L1077.5 434.8L1078 435.5L1078.5 436.2L1079 436.9L1079.5 437.6L1080 438.4L1080.6 439.1L1081.1 439.8L1081.6 440.5L1082.1 441.2L1082.6 441.9L1083.1 442.7L1083.6 443.4L1084.1 444.1L1084.6 444.8L1085.1 445.5L1085.7 446.3L1086.2 447L1086.7 447.7L1087.2 448.4L1087.7 449.2L1088.2 449.9L1088.7 450.6L1089.1 451.3L1089.6 452.1L1090.1 452.8L1090.6 453.5L1091.1 454.3L1091.6 455L1092.1 455.7L1092.5 456.5L1093 457.2L1093.5 457.9L1094 458.7L1094.4 459.4L1094.9 460.2L1095.4 460.9L1095.8 461.6L1096.3 462.4L1096.7 463.1L1097.2 463.9L1097.6 464.7L1098.1 465.4L1098.5 466.2L1098.9 466.9L1099.3 467.7L1099.8 468.5L1100.2 469.2L1100.6 470L1101 470.8L1101.4 471.5L1101.8 472.3L1102.2 473.1L1102.6 473.9L1103 474.7L1103.4 475.4L1103.8 476.2L1104.2 477L1104.5 477.8L1104.9 478.6L1105.3 479.4L1105.6 480.2L1106 481L1106.3 481.8L1106.7 482.6L1107 483.4L1107.4 484.2L1107.7 485L1108 485.9L1108.4 486.7L1108.7 487.5L1109 488.3L1109.3 489.1L1109.6 489.9L1110 490.8L1110.3 491.6L1110.6 492.4L1110.9 493.2L1111.2 494.1L1111.5 494.9L1111.8 495.7L1112 496.6L1112.3 497.4L1112.6 498.2L1112.9 499.1L1113.2 499.9L1113.5 500.7L1113.7 501.6L1114 502.4L1114.3 503.3L1114.5 504.1L1114.8 505L1115.1 505.8L1115.3 506.6L1115.6 507.5L1115.8 508.3L1116.1 509.2L1116.3 510L1116.6 510.9L1116.8 511.7L1117.1 512.6L1117.3 513.4L1117.6 514.3L1117.8 515.1L1118 516L1118.3 516.8L1118.5 517.7L1118.7 518.5L1119 519.4L1119.2 520.2L1119.4 521.1L1119.6 521.9L1119.9 522.8L1120.1 523.6L1120.3 524.5L1120.5 525.3L1120.8 526.2L1121 527L1121.2 527.9L1121.4 528.7L1121.6 529.6L1121.8 530.4L1122.1 531.3L1122.3 532.1L1122.5 532.9L1122.7 533.8L1122.9 534.6L1123.1 535.5L1123.3 536.3L1123.6 537.2L1123.8 538L1124 538.9L1124.2 539.7L1124.4 540.5" stroke="#472d7b" stroke-width="3" fill="none" stroke-linejoin="round"/>
<path d="M1079.8 46L1079.8 270.1L1079.9 270.9L1079.9 271.8L1080 272.6L1080 274.3L1080.1 275.2L1080.1 276.9L1080.2 277.7L1080.2 338.8L1080.3 339.7L1080.4 340.6L1080.5 341.4L1080.6 342.3L1080.8 343.1L1080.9 344L1081 344.8L1081.2 345.7L1081.4 346.5L1081.5 347.4L1081.7 348.2L1081.9 349.1L1082.1 349.9L1082.3 350.7L1082.5 351.6L1082.7 352.4L1082.9 353.2L1083.2 354.1L1083.4 354.9L1083.7 355.7L1083.9 356.5L1084.2 357.3L1084.5 358.1L1084.8 359L1085 359.8L1085.3 360.6L1085.6 361.4L1085.9 362.2L1086.3 363L1086.6 363.8L1086.9 364.6L1087.2 365.3L1087.6 366.1L1087.9 366.9L1088.3 367.7L1088.6 368.5L1089 369.3L1089.4 370L1089.7 370.8L1090.1 371.6L1090.5 372.4L1090.9 373.1L1091.3 373.9L1091.7 374.7L1092.1 375.4L1092.5 376.2L1092.9 377L1093.4 377.7L1093.8 378.5L1094.2 379.3L1094.6 380L1095.1 380.8L1095.5 381.5L1096 382.3L1096.4 383L1096.9 383.8L1097.3 384.5L1097.8 385.3L1098.2 386L1098.7 386.8L1099.2 387.5L1099.7 388.2L1100.1 389L1100.6 389.7L1101.1 390.5L1101.6 391.2L1102.1 391.9L1102.5 392.7L1103 393.4L1103.5 394.1L1104 394.9L1104.5 395.6L1105 396.3L1105.5 397.1L1106 397.8L1106.5 398.5L1107 399.2L1107.5 400L1108 400.7L1108.5 401.4L1109 402.2L1109.5 402.9L1110 403.6L1110.5 404.3L1111 405L1111.5 405.8L1112.1 406.5L1112.6 407.2L1113.1 407.9L1113.6 408.7L1114.1 409.4L1114.6 410.1L1115.1 410.8L1115.6 411.5L1116.1 412.3L1116.6 413L1117.2 413.7L1117.7 414.4L1118.2 415.2L1118.7 415.9L1119.2 416.6L1119.7 417.3L1120.2 418L1120.7 418.8L1121.2 419.5L1121.7 420.2L1122.2 420.9L1122.7 421.7L1123.2 422.4L1123.7 423.1L1124.2 423.8L1124.7 424.6L1125.2 425.3L1125.7 426L1126.2 426.7L1126.7 427.5L1127.2 428.2L1127.7 428.9L1128.2 429.7L1128.6 430.4L1129.1 431.1L1129.6 431.9L1130.1 432.6L1130.6 433.3L1131 434.1L1131.5 434.8L1132 435.6L1132.4 436.3L1132.9 437.1L1133.4 437.8L1133.8 438.5L1134.3 439.3L1134.7 440L1135.2 440.8L1135.6 441.5L1136.1 442.3L1136.5 443.1L1137 443.8L1137.4 444.6L1137.8 445.3L1138.2 446.1L1138.7 446.9L1139.1 447.6L1139.5 448.4L1139.9 449.2L1140.3 449.9L1140.7 450.7L1141.1 451.5L1141.5 452.3L1141.9 453L1142.3 453.8L1142.7 454.6L1143.1 455.4L1143.5 456.2L1143.8 457L1144.2 457.8L1144.6 458.6L1144.9 459.3L1145.3 460.1L1145.6 460.9L1146 461.8L1146.3 462.6L1146.7 463.4L1147 464.2L1147.3 465L1147.7 465.8L1148 466.6L1148.3 467.4L1148.6 468.2L1149 469.1L1149.3 469.9L1149.6 470.7L1149.9 471.5L1150.2 472.4L1150.5 473.2L1150.8 474L1151.1 474.8L1151.4 475.7L1151.6 476.5L1151.9 477.3L1152.2 478.2L1152.5 479L1152.8 479.8L1153 480.7L1153.3 481.5L1153.6 482.4L1153.8 483.2L1154.1 484L1154.4 484.9L1154.6 485.7L1154.9 486.6L1155.1 487.4L1155.4 488.3L1155.6 489.1L1155.9 490L1156.1 490.8L1156.4 491.7L1156.6 492.5L1156.8 493.4L1157.1 494.2L1157.3 495.1L1157.5 495.9L1157.8 496.8L1158 497.6L1158.2 498.5L1158.5 499.3L1158.7 500.2L1158.9 501L1159.1 501.9L1159.4 502.7L1159.6 503.6L1159.8 504.4L1160 505.3L1160.2 506.1L1160.5 507L1160.7 507.8L1160.9 508.7L1161.1 509.5L1161.3 510.4L1161.5 511.3L1161.7 512.1" stroke="#3b528b" stroke-width="3" fill="none" stroke-linejoin="round"/>
<path d="M1116 46L1116 240L1116.1 240.9L1116.1 241.8L1116.2 242.6L1116.2 243.5L1116.3 244.3L1116.3 245.2L1116.4 246.1L1116.4 247L1116.5 247.8L1116.5 252.2L1116.6 253.1L1116.6 314.4L1116.8 315.3L1116.9 316.1L1117 317L1117.2 317.9L1117.3 318.8L1117.5 319.6L1117.7 320.5L1117.9 321.4L1118 322.2L1118.2 323.1L1118.4 323.9L1118.7 324.8L1118.9 325.6L1119.1 326.5L1119.3 327.3L1119.6 328.2L1119.8 329L1120.1 329.9L1120.3 330.7L1120.6 331.6L1120.9 332.4L1121.2 333.2L1121.4 334L1121.7 334.9L1122 335.7L1122.4 336.5L1122.7 337.3L1123 338.1L1123.4 338.9L1123.7 339.7L1124.1 340.5L1124.4 341.3L1124.8 342.1L1125.2 342.9L1125.6 343.7L1125.9 344.5L1126.3 345.3L1126.8 346.1L1127.2 346.8L1127.6 347.6L1128 348.4L1128.5 349.1L1128.9 349.9L1129.4 350.6L1129.8 351.4L1130.3 352.1L1130.8 352.9L1131.3 353.6L1131.8 354.3L1132.3 355.1L1132.8 355.8L1133.3 356.5L1133.8 357.2L1134.3 358L1134.8 358.7L1135.3 359.4L1135.9 360.1L1136.4 360.8L1136.9 361.6L1137.5 362.3L1138 363L1138.5 363.7L1139.1 364.4L1139.6 365.1L1140.2 365.8L1140.7 366.5L1141.2 367.3L1141.8 368L1142.3 368.7L1142.9 369.4L1143.4 370.1L1143.9 370.8L1144.5 371.5L1145 372.3L1145.5 373L1146.1 373.7L1146.6 374.4L1147.2 375.1L1147.7 375.8L1148.2 376.6L1148.7 377.3L1149.3 378L1149.8 378.7L1150.3 379.4L1150.9 380.2L1151.4 380.9L1151.9 381.6L1152.4 382.3L1153 383.1L1153.5 383.8L1154 384.5L1154.5 385.2L1155 386L1155.6 386.7L1156.1 387.4L1156.6 388.2L1157.1 388.9L1157.6 389.6L1158.1 390.3L1158.6 391.1L1159.2 391.8L1159.7 392.6L1160.2 393.3L1160.7 394L1161.2 394.8L1161.7 395.5L1162.2 396.2L1162.7 397L1163.2 397.7L1163.7 398.5L1164.2 399.2L1164.6 399.9L1165.1 400.7L1165.6 401.4L1166.1 402.2L1166.6 402.9L1167.1 403.7L1167.6 404.4L1168 405.2L1168.5 405.9L1169 406.7L1169.5 407.4L1169.9 408.2L1170.4 409L1170.9 409.7L1171.4 410.5L1171.8 411.2L1172.3 412L1172.7 412.8L1173.2 413.5L1173.7 414.3L1174.1 415L1174.6 415.8L1175 416.6L1175.5 417.3L1175.9 418.1L1176.3 418.9L1176.8 419.7L1177.2 420.4L1177.7 421.2L1178.1 422L1178.5 422.8L1179 423.5L1179.4 424.3L1179.8 425.1L1180.2 425.9L1180.6 426.7L1181.1 427.4L1181.5 428.2L1181.9 429L1182.3 429.8L1182.7 430.6L1183.1 431.4L1183.5 432.2L1183.9 433L1184.3 433.8L1184.7 434.6L1185.1 435.4L1185.5 436.2L1185.8 437L1186.2 437.8L1186.6 438.6L1187 439.4L1187.4 440.2L1187.7 441L1188.1 441.8L1188.5 442.6L1188.8 443.4L1189.2 444.3L1189.5 445.1L1189.9 445.9L1190.2 446.7L1190.6 447.5L1190.9 448.4L1191.2 449.2L1191.6 450L1191.9 450.8L1192.2 451.7L1192.6 452.5L1192.9 453.3L1193.2 454.2L1193.5 455L1193.8 455.8L1194.1 456.7L1194.4 457.5L1194.7 458.4L1195 459.2L1195.3 460L1195.6 460.9L1195.9 461.7L1196.2 462.6L1196.5 463.4L1196.8 464.3L1197 465.2L1197.3 466L1197.6 466.9L1197.8 467.7L1198.1 468.6L1198.3 469.5L1198.6 470.3L1198.8 471.2L1199.1 472.1L1199.3 472.9L1199.5 473.8L1199.8 474.7L1200 475.6L1200.2 476.5L1200.4 477.3L1200.7 478.2L1200.9 479.1L1201.1 480L1201.3 480.9L1201.5 481.8" stroke="#2c728e" stroke-width="3" fill="none" stroke-linejoin="round"/>
<path d="M1152.9 46L1152.9 212.6L1153 213.5L1153 214.3L1153.1 215.2L1153.2 216.1L1153.2 217.8L1153.3 218.7L1153.3 220.4L1153.4 221.3L1153.4 285.4L1153.5 286.3L1153.6 287.2L1153.8 288.1L1153.9 288.9L1154 289.8L1154.2 290.7L1154.4 291.5L1154.5 292.4L1154.7 293.2L1154.9 294.1L1155.1 294.9L1155.3 295.8L1155.5 296.6L1155.7 297.5L1155.9 298.3L1156.2 299.1L1156.4 300L1156.7 300.8L1156.9 301.6L1157.2 302.5L1157.4 303.3L1157.7 304.1L1158 304.9L1158.3 305.7L1158.6 306.6L1158.9 307.4L1159.2 308.2L1159.5 309L1159.9 309.8L1160.2 310.6L1160.6 311.4L1160.9 312.1L1161.3 312.9L1161.7 313.7L1162 314.5L1162.4 315.3L1162.8 316L1163.2 316.8L1163.6 317.6L1164.1 318.3L1164.5 319.1L1164.9 319.8L1165.4 320.6L1165.8 321.3L1166.3 322L1166.8 322.8L1167.2 323.5L1167.7 324.2L1168.2 325L1168.7 325.7L1169.2 326.4L1169.7 327.1L1170.2 327.8L1170.7 328.5L1171.3 329.2L1171.8 330L1172.3 330.7L1172.9 331.4L1173.4 332L1173.9 332.7L1174.5 333.4L1175 334.1L1175.6 334.8L1176.2 335.5L1176.7 336.2L1177.3 336.9L1177.9 337.6L1178.4 338.2L1179 338.9L1179.6 339.6L1180.2 340.3L1180.7 341L1181.3 341.6L1181.9 342.3L1182.5 343L1183.1 343.7L1183.6 344.3L1184.2 345L1184.8 345.7L1185.4 346.4L1186 347L1186.5 347.7L1187.1 348.4L1187.7 349L1188.3 349.7L1188.9 350.4L1189.5 351.1L1190.1 351.7L1190.6 352.4L1191.2 353.1L1191.8 353.7L1192.4 354.4L1193 355.1L1193.6 355.8L1194.1 356.4L1194.7 357.1L1195.3 357.8L1195.9 358.4L1196.5 359.1L1197 359.8L1197.6 360.5L1198.2 361.1L1198.8 361.8L1199.3 362.5L1199.9 363.2L1200.5 363.8L1201.1 364.5L1201.6 365.2L1202.2 365.9L1202.8 366.6L1203.3 367.2L1203.9 367.9L1204.4 368.6L1205 369.3L1205.6 370L1206.1 370.7L1206.7 371.4L1207.2 372.1L1207.8 372.7L1208.3 373.4L1208.9 374.1L1209.4 374.8L1209.9 375.5L1210.5 376.2L1211 376.9L1211.6 377.6L1212.1 378.3L1212.6 379L1213.1 379.7L1213.7 380.5L1214.2 381.2L1214.7 381.9L1215.2 382.6L1215.7 383.3L1216.2 384L1216.7 384.8L1217.2 385.5L1217.7 386.2L1218.2 386.9L1218.7 387.7L1219.2 388.4L1219.6 389.1L1220.1 389.9L1220.6 390.6L1221.1 391.4L1221.5 392.1L1222 392.9L1222.4 393.6L1222.9 394.4L1223.3 395.1L1223.8 395.9L1224.2 396.7L1224.7 397.4L1225.1 398.2L1225.5 399L1225.9 399.7L1226.4 400.5L1226.8 401.3L1227.2 402.1L1227.6 402.9L1228 403.7L1228.4 404.4L1228.8 405.2L1229.2 406L1229.5 406.8L1229.9 407.6L1230.3 408.4L1230.7 409.2L1231.1 410L1231.4 410.8L1231.8 411.7L1232.2 412.5L1232.5 413.3L1232.9 414.1L1233.3 414.9L1233.6 415.7L1234 416.5L1234.3 417.3L1234.7 418.2L1235 419L1235.4 419.8L1235.7 420.6L1236.1 421.4L1236.4 422.3L1236.8 423.1L1237.2 423.9L1237.5 424.7L1237.9 425.5L1238.2 426.4L1238.6 427.2L1238.9 428L1239.3 428.8L1239.6 429.6L1240 430.4L1240.3 431.3L1240.7 432.1L1241 432.9L1241.4 433.7L1241.8 434.5L1242.1 435.3L1242.5 436.1L1242.8 436.9L1243.2 437.7L1243.6 438.5L1244 439.3L1244.3 440.1L1244.7 440.9L1245.1 441.7L1245.5 442.5L1245.9 443.3L1246.3 444.1L1246.7 444.9L1247 445.7L1247.5 446.4" stroke="#21918c" stroke-width="3" fill="none" stroke-linejoin="round"/>
<path d="M1192.3 46L1192.3 178.3L1192.4 179.2L1192.4 180.1L1192.5 180.9L1192.6 181.8L1192.7 182.7L1192.7 183.6L1192.8 184.5L1192.8 185.3L1192.9 186.2L1192.9 187.1L1193 188L1193 259.1L1193.2 259.9L1193.4 260.8L1193.6 261.7L1193.8 262.6L1194 263.4L1194.2 264.3L1194.4 265.2L1194.6 266L1194.9 266.9L1195.1 267.8L1195.4 268.6L1195.7 269.5L1195.9 270.3L1196.2 271.2L1196.5 272L1196.8 272.8L1197.1 273.7L1197.4 274.5L1197.8 275.3L1198.1 276.2L1198.4 277L1198.8 277.8L1199.2 278.6L1199.5 279.4L1199.9 280.2L1200.3 281.1L1200.7 281.9L1201.1 282.7L1201.5 283.4L1201.9 284.2L1202.3 285L1202.8 285.8L1203.2 286.6L1203.6 287.3L1204.1 288.1L1204.6 288.9L1205 289.6L1205.5 290.4L1206 291.1L1206.5 291.9L1207 292.6L1207.5 293.4L1208 294.1L1208.5 294.8L1209 295.5L1209.6 296.2L1210.1 296.9L1210.7 297.7L1211.2 298.3L1211.8 299L1212.3 299.7L1212.9 300.4L1213.5 301.1L1214.1 301.8L1214.7 302.4L1215.3 303.1L1215.9 303.7L1216.5 304.4L1217.1 305L1217.7 305.7L1218.4 306.3L1219 306.9L1219.6 307.6L1220.3 308.2L1220.9 308.8L1221.6 309.4L1222.3 310.1L1222.9 310.7L1223.6 311.3L1224.3 311.9L1224.9 312.5L1225.6 313.1L1226.3 313.7L1227 314.3L1227.7 314.8L1228.4 315.4L1229.1 316L1229.8 316.6L1230.5 317.2L1231.2 317.7L1231.9 318.3L1232.6 318.9L1233.3 319.5L1234 320L1234.8 320.6L1235.5 321.2L1236.2 321.7L1236.9 322.3L1237.6 322.8L1238.4 323.4L1239.1 324L1239.8 324.5L1240.6 325.1L1241.3 325.6L1242 326.2L1242.8 326.7L1243.5 327.3L1244.2 327.9L1245 328.4L1245.7 329L1246.4 329.5L1247.2 330.1L1247.9 330.6L1248.6 331.2L1249.4 331.7L1250.1 332.3L1250.8 332.9L1251.6 333.4L1252.3 334L1253 334.5L1253.7 335.1L1254.5 335.7L1255.2 336.2L1255.9 336.8L1256.6 337.4L1257.3 337.9L1258.1 338.5L1258.8 339.1L1259.5 339.7L1260.2 340.3L1260.9 340.8L1261.6 341.4L1262.3 342L1263 342.6L1263.7 343.2L1264.4 343.8L1265 344.4L1265.7 345L1266.4 345.6L1267.1 346.2L1267.7 346.8L1268.4 347.4L1269 348.1L1269.7 348.7L1270.3 349.3L1271 349.9L1271.6 350.6L1272.3 351.2L1272.9 351.9L1273.5 352.5L1274.1 353.2L1274.7 353.8L1275.4 354.5L1276 355.2L1276.5 355.8L1277.1 356.5L1277.7 357.2L1278.3 357.9L1278.9 358.6L1279.4 359.3L1280 360L1280.6 360.7L1281.1 361.4L1281.7 362.1L1282.2 362.8L1282.8 363.5L1283.3 364.2L1283.8 365L1284.4 365.7L1284.9 366.4L1285.4 367.2L1285.9 367.9L1286.4 368.6L1287 369.4L1287.5 370.1L1288 370.9L1288.5 371.6L1289 372.4L1289.4 373.1L1289.9 373.9L1290.4 374.7L1290.9 375.4L1291.4 376.2L1291.8 377L1292.3 377.8L1292.8 378.5L1293.2 379.3L1293.7 380.1L1294.1 380.9L1294.6 381.7L1295.1 382.4L1295.5 383.2L1295.9 384L1296.4 384.8L1296.8 385.6L1297.3 386.4L1297.7 387.2L1298.1 388L1298.6 388.8L1299 389.6L1299.4 390.4L1299.8 391.2L1300.3 392L1300.7 392.8L1301.1 393.7L1301.5 394.5L1301.9 395.3L1302.3 396.1L1302.7 396.9L1303.2 397.7L1303.6 398.5L1304 399.3L1304.4 400.2L1304.8 401L1305.2 401.8L1305.6 402.6L1306 403.4" stroke="#28ae80" stroke-width="3" fill="none" stroke-linejoin="round"/>
<path d="M1237 46L1237 146L1237.1 146.9L1237.1 147.9L1237.2 148.8L1237.2 149.7L1237.3 150.6L1237.3 151.5L1237.4 152.4L1237.4 153.3L1237.5 154.3L1237.5 219L1237.6 219.9L1237.8 220.8L1237.9 221.8L1238.1 222.7L1238.3 223.6L1238.5 224.5L1238.7 225.4L1239 226.3L1239.2 227.2L1239.5 228.1L1239.7 228.9L1240 229.8L1240.3 230.7L1240.6 231.5L1240.9 232.4L1241.3 233.2L1241.6 234.1L1242 234.9L1242.4 235.7L1242.7 236.6L1243.1 237.4L1243.5 238.2L1244 239L1244.4 239.8L1244.8 240.6L1245.3 241.4L1245.7 242.2L1246.2 243L1246.7 243.8L1247.2 244.5L1247.7 245.3L1248.2 246L1248.7 246.8L1249.3 247.5L1249.8 248.3L1250.4 249L1250.9 249.8L1251.5 250.5L1252.1 251.2L1252.7 251.9L1253.3 252.6L1253.9 253.3L1254.5 254L1255.1 254.7L1255.7 255.4L1256.4 256L1257 256.7L1257.7 257.4L1258.3 258L1259 258.7L1259.7 259.3L1260.4 260L1261.1 260.6L1261.8 261.2L1262.5 261.9L1263.2 262.5L1263.9 263.1L1264.6 263.7L1265.3 264.3L1266.1 264.9L1266.8 265.5L1267.6 266L1268.3 266.6L1269.1 267.2L1269.8 267.7L1270.6 268.3L1271.4 268.8L1272.2 269.4L1272.9 269.9L1273.7 270.4L1274.5 271L1275.3 271.5L1276.1 272L1276.9 272.5L1277.7 273L1278.5 273.5L1279.3 274L1280.1 274.5L1281 274.9L1281.8 275.4L1282.6 275.9L1283.4 276.3L1284.3 276.8L1285.1 277.2L1285.9 277.6L1286.8 278.1L1287.6 278.5L1288.5 278.9L1289.3 279.3L1290.1 279.8L1291 280.2L1291.8 280.6L1292.7 281L1293.6 281.4L1294.4 281.8L1295.3 282.2L1296.1 282.5L1297 282.9L1297.9 283.3L1298.7 283.7L1299.6 284.1L1300.5 284.4L1301.4 284.8L1302.2 285.2L1303.1 285.5L1304 285.9L1304.9 286.2L1305.7 286.6L1306.6 286.9L1307.5 287.3L1308.4 287.6L1309.3 288L1310.1 288.3L1311 288.7L1311.9 289L1312.8 289.4L1313.7 289.7L1314.6 290L1315.4 290.4L1316.3 290.7L1317.2 291L1318.1 291.4L1319 291.7L1319.9 292.1L1320.8 292.4L1321.7 292.7L1322.5 293.1L1323.4 293.4L1324.3 293.7L1325.2 294.1L1326.1 294.4L1327 294.8L1327.8 295.1L1328.7 295.4L1329.6 295.8L1330.5 296.1L1331.4 296.5L1332.2 296.8L1333.1 297.2L1334 297.5L1334.9 297.9L1335.7 298.3L1336.6 298.6L1337.5 299L1338.4 299.3L1339.2 299.7L1340.1 300.1L1341 300.4L1341.8 300.8L1342.7 301.2L1343.5 301.6L1344.4 302L1345.3 302.4L1346.1 302.8L1347 303.2L1347.8 303.6L1348.6 304L1349.5 304.4L1350.3 304.8L1351.2 305.2L1352 305.6L1352.9 306L1353.7 306.5L1354.5 306.9L1355.4 307.3L1356.2 307.8L1357 308.2L1357.9 308.6L1358.7 309.1L1359.5 309.5L1360.3 309.9L1361.2 310.4L1362 310.8L1362.8 311.3L1363.6 311.7L1364.5 312.2L1365.3 312.6L1366.1 313.1L1366.9 313.5L1367.8 314L1368.6 314.4L1369.4 314.9L1370.2 315.3L1371 315.8L1371.9 316.2L1372.7 316.7L1373.5 317.1L1374.3 317.6L1375.2 318.1L1376 318.5L1376.8 319L1377.6 319.4L1378.5 319.9L1379.3 320.3L1380.1 320.8L1380.9 321.2L1381.8 321.6L1382.6 322.1L1383.4 322.5L1384.3 323L1385.1 323.4L1385.9 323.8L1386.8 324.3L1387.6 324.7L1388.4 325.1L1389.3 325.6L1390.1 326L1391 326.4L1391.8 326.8L1392.7 327.3L1393.5 327.7L1394.4 328.1L1395.2 328.5L1396.1 328.9L1396.9 329.3L1397.8 329.7L1398.7 330.1L1399.5 330.5L1400.4 330.9" stroke="#5ec962" stroke-width="3" fill="none" stroke-linejoin="round"/>
<path d="M1291.1 46L1291.1 112.7L1291.2 113.3L1291.3 114L1291.4 114.6L1291.4 115.3L1291.5 115.9L1291.5 116.6L1291.6 117.3L1291.6 118.6L1291.7 119.2L1291.7 121.2L1291.8 121.9L1291.8 181.1L1292 181.8L1292.1 182.4L1292.3 183.1L1292.4 183.7L1292.6 184.4L1292.8 185L1292.9 185.7L1293.1 186.3L1293.3 187L1293.5 187.6L1293.8 188.2L1294 188.8L1294.2 189.5L1294.5 190.1L1294.7 190.7L1295 191.3L1295.2 191.9L1295.5 192.5L1295.8 193.1L1296.1 193.7L1296.4 194.2L1296.7 194.8L1297 195.4L1297.3 195.9L1297.7 196.5L1298 197L1298.4 197.6L1298.7 198.1L1299.1 198.6L1299.5 199.2L1299.9 199.7L1300.3 200.2L1300.7 200.7L1301.1 201.2L1301.5 201.7L1301.9 202.1L1302.4 202.6L1302.8 203.1L1303.3 203.5L1303.7 204L1304.2 204.4L1304.7 204.8L1305.2 205.3L1305.7 205.7L1306.2 206.1L1306.7 206.5L1307.2 206.8L1307.7 207.2L1308.2 207.6L1308.8 208L1309.3 208.3L1309.8 208.7L1310.4 209L1311 209.3L1311.5 209.7L1312.1 210L1312.7 210.3L1313.3 210.6L1313.8 210.9L1314.4 211.2L1315 211.5L1315.6 211.7L1316.3 212L1316.9 212.3L1317.5 212.5L1318.1 212.8L1318.7 213L1319.4 213.3L1320 213.5L1320.6 213.7L1321.3 213.9L1321.9 214.1L1322.6 214.3L1323.2 214.5L1323.9 214.7L1324.6 214.9L1325.2 215.1L1325.9 215.3L1326.6 215.5L1327.2 215.6L1327.9 215.8L1328.6 215.9L1329.3 216.1L1330 216.2L1330.6 216.4L1331.3 216.5L1332 216.6L1332.7 216.8L1333.4 216.9L1334.1 217L1334.8 217.1L1335.5 217.2L1336.2 217.3L1336.9 217.4L1337.6 217.5L1338.3 217.6L1339 217.7L1339.6 217.7L1340.3 217.8L1341 217.9L1341.7 218L1342.4 218L1343.1 218.1L1343.8 218.1L1344.5 218.2L1345.2 218.3L1497 218.3" stroke="#addc30" stroke-width="3" fill="none" stroke-linejoin="round"/>
<path d="M1371.5 46L1371.5 46.2L1371.6 46.7L1371.6 47.2L1371.7 47.7L1371.7 48.2L1371.8 48.7L1371.8 49.7L1371.9 50.2L1371.9 51.6L1372 52.1L1372 55.1L1372.1 55.6L1372.1 111.1L1372.2 111.6L1372.3 112.1L1372.4 112.6L1372.5 113.1L1372.6 113.6L1372.7 114L1372.9 114.5L1373 115L1373.1 115.5L1373.3 115.9L1373.4 116.4L1373.6 116.8L1373.7 117.3L1373.9 117.7L1374.1 118.2L1374.3 118.6L1374.5 119L1374.7 119.5L1374.9 119.9L1375.1 120.3L1375.3 120.7L1375.5 121.1L1375.7 121.5L1376 121.9L1376.2 122.3L1376.5 122.7L1376.7 123.1L1377 123.4L1377.3 123.8L1377.6 124.1L1377.9 124.5L1378.2 124.8L1378.5 125.1L1378.8 125.5L1379.2 125.8L1379.5 126.1L1379.9 126.4L1380.2 126.7L1380.6 127L1380.9 127.2L1381.3 127.5L1381.7 127.8L1382.1 128L1382.5 128.3L1382.9 128.5L1383.3 128.8L1383.7 129L1384.1 129.2L1384.5 129.4L1385 129.6L1385.4 129.8L1385.8 130L1386.3 130.2L1386.7 130.4L1387.2 130.6L1387.6 130.8L1388.1 130.9L1388.6 131.1L1389 131.3L1389.5 131.4L1390 131.5L1390.4 131.7L1390.9 131.8L1391.4 131.9L1391.9 132.1L1392.4 132.2L1392.9 132.3L1393.4 132.4L1497 132.4" stroke="#fde725" stroke-width="3" fill="none" stroke-linejoin="round"/>
</g>
<path d="M901.00 639.00 v7 M1000.00 639.00 v7 M1099.00 639.00 v7 M1198.00 639.00 v7 M1297.00 639.00 v7 M1396.00 639.00 v7 M901.00 588.00 h-7 M901.00 484.00 h-7 M901.00 380.00 h-7 M901.00 277.00 h-7 M901.00 173.00 h-7 M901.00 70.00 h-7" stroke="#000" stroke-width="1.6" fill="none"/>
<path d="M930.50 639.00 v4.6 M948.50 639.00 v4.6 M960.50 639.00 v4.6 M970.50 639.00 v4.6 M978.50 639.00 v4.6 M984.50 639.00 v4.6 M990.50 639.00 v4.6 M995.50 639.00 v4.6 M1029.50 639.00 v4.6 M1047.50 639.00 v4.6 M1059.50 639.00 v4.6 M1069.50 639.00 v4.6 M1077.50 639.00 v4.6 M1083.50 639.00 v4.6 M1089.50 639.00 v4.6 M1094.50 639.00 v4.6 M1128.50 639.00 v4.6 M1146.50 639.00 v4.6 M1158.50 639.00 v4.6 M1168.50 639.00 v4.6 M1176.50 639.00 v4.6 M1182.50 639.00 v4.6 M1188.50 639.00 v4.6 M1193.50 639.00 v4.6 M1227.50 639.00 v4.6 M1245.50 639.00 v4.6 M1257.50 639.00 v4.6 M1267.50 639.00 v4.6 M1275.50 639.00 v4.6 M1281.50 639.00 v4.6 M1287.50 639.00 v4.6 M1292.50 639.00 v4.6 M1326.50 639.00 v4.6 M1344.50 639.00 v4.6 M1356.50 639.00 v4.6 M1366.50 639.00 v4.6 M1374.50 639.00 v4.6 M1380.50 639.00 v4.6 M1386.50 639.00 v4.6 M1391.50 639.00 v4.6 M1425.50 639.00 v4.6 M1443.50 639.00 v4.6 M1455.50 639.00 v4.6 M1465.50 639.00 v4.6 M1473.50 639.00 v4.6 M1479.50 639.00 v4.6 M1485.50 639.00 v4.6 M1490.50 639.00 v4.6 M901.00 628.50 h-4.6 M901.00 618.50 h-4.6 M901.00 610.50 h-4.6 M901.00 603.50 h-4.6 M901.00 597.50 h-4.6 M901.00 592.50 h-4.6 M901.00 556.50 h-4.6 M901.00 538.50 h-4.6 M901.00 525.50 h-4.6 M901.00 515.50 h-4.6 M901.00 506.50 h-4.6 M901.00 500.50 h-4.6 M901.00 494.50 h-4.6 M901.00 488.50 h-4.6 M901.00 452.50 h-4.6 M901.00 434.50 h-4.6 M901.00 421.50 h-4.6 M901.00 411.50 h-4.6 M901.00 403.50 h-4.6 M901.00 396.50 h-4.6 M901.00 390.50 h-4.6 M901.00 385.50 h-4.6 M901.00 349.50 h-4.6 M901.00 330.50 h-4.6 M901.00 318.50 h-4.6 M901.00 307.50 h-4.6 M901.00 299.50 h-4.6 M901.00 292.50 h-4.6 M901.00 286.50 h-4.6 M901.00 281.50 h-4.6 M901.00 245.50 h-4.6 M901.00 227.50 h-4.6 M901.00 214.50 h-4.6 M901.00 204.50 h-4.6 M901.00 196.50 h-4.6 M901.00 189.50 h-4.6 M901.00 183.50 h-4.6 M901.00 177.50 h-4.6 M901.00 142.50 h-4.6 M901.00 123.50 h-4.6 M901.00 110.50 h-4.6 M901.00 100.50 h-4.6 M901.00 92.50 h-4.6 M901.00 85.50 h-4.6 M901.00 79.50 h-4.6 M901.00 74.50 h-4.6" stroke="#000" stroke-width="1.2" fill="none"/>
<rect x="901.00" y="51.00" width="591.00" height="588.00" fill="none" stroke="#000" stroke-width="1.6"/>
<clipPath id="c3"><rect x="190.00" y="757.00" width="592.00" height="588.00"/></clipPath>
<g clip-path="url(#c3)">
<path d="M373.5 750.0 L373.5 832.0 L372.5 873.5 L369.4 904.4 L366.3 925.0 L361.1 940.0 L356.9 951.7 L351.6 964.4 L346.2 976.1 L340.9 989.9 L335.6 1001.6 L330.3 1013.3 L325.0 1025.0 L319.7 1035.6 L314.4 1046.2 L309.1 1056.9 L303.7 1068.6 L298.4 1080.2 L293.1 1093.0 L291.2 1099.6 L285.9 1111.2 L280.6 1122.9 L275.3 1134.6 L270.0 1147.4 L264.7 1159.1 L259.4 1170.7 L254.1 1183.5 L248.7 1195.0 L243.4 1205.6 L238.1 1217.3 L232.8 1230.1 L227.5 1242.8 L222.2 1256.6 L216.9 1269.4 L212.6 1281.1 L208.4 1293.8 L204.1 1306.6 L200.9 1317.2 L198.3 1327.8 L196.2 1337.4 L194.9 1344.5 L194.5 1352.0 L260.0 1352.0 L264.7 1343.7 L270.0 1335.2 L275.3 1327.8 L280.6 1321.4 L285.9 1315.6 L291.2 1309.7 L296.6 1304.4 L301.9 1299.6 L307.2 1294.9 L312.5 1290.6 L317.8 1286.4 L323.1 1282.7 L328.4 1278.9 L333.7 1275.7 L339.0 1272.6 L345.0 1269.4 L355.0 1263.3 L377.6 1248.9 L402.3 1234.5 L427.0 1220.1 L434.1 1220.0 L457.5 1207.1 L490.0 1189.6 L500.6 1182.2 L511.2 1175.8 L521.9 1169.4 L532.5 1163.1 L543.1 1156.7 L553.7 1150.3 L564.4 1143.9 L575.0 1137.0 L585.6 1130.1 L596.2 1122.7 L606.9 1114.7 L617.5 1106.2 L628.1 1096.7 L638.7 1085.5 L650.0 1071.7 L655.0 1068.8 L661.1 1052.4 L664.2 1040.0 L663.2 1048.5 L666.3 1027.9 L667.3 1007.3 L668.3 986.7 L669.0 966.1 L669.0 750.0 Z" fill="#d3d3d3" stroke="none" shape-rendering="crispEdges"/>
<path d="M296.00 757.00 V1345.00 M458.00 757.00 V1345.00 M621.00 757.00 V1345.00 M190.00 1345.00 H782.00 M190.00 1275.00 H782.00 M190.00 1204.00 H782.00 M190.00 1133.00 H782.00 M190.00 1063.00 H782.00 M190.00 992.00 H782.00 M190.00 921.00 H782.00 M190.00 851.00 H782.00 M190.00 780.00 H782.00" stroke="#b0b0b0" stroke-width="1.6" fill="none"/>
<path d="M195.5 751L196 757.4L196.2 759.1L196.3 760.7L196.4 762.4L196.5 764L196.6 765.7L196.6 767.3L196.7 769L196.8 770.7L196.8 772.3L196.9 774L197 775.6L197 777.3L197.1 779L197.2 780.6L197.3 782.3L197.3 783.9L197.4 785.6L197.5 787.2L197.6 788.9L197.7 790.6L197.8 792.2L197.9 793.9L198 795.5L198.1 797.2L198.1 798.9L198.2 800.5L198.3 802.2L198.4 803.8L198.4 805.5L198.5 807.2L198.5 808.8L198.6 810.5L198.7 812.2L198.7 813.8L198.8 815.5L198.8 817.1L198.9 818.8L198.9 820.5L199 822.1L199 825.5L199.1 827.1L199.1 830.5L199.2 832.2L199.2 835.5L199.3 837.2L199.3 843.9L199.4 845.5L199.4 848.9L199.5 850.5L199.5 852.2L199.6 853.9L199.6 855.6L199.7 857.2L199.8 858.9L199.8 860.6L199.9 862.3L200 863.9L200 865.6L200.1 867.3L200.1 869L200.2 870.6L200.3 872.3L200.3 874L200.4 875.7L200.4 877.3L200.5 879L200.6 880.7L200.6 882.4L200.7 884.1L200.7 885.7L200.8 887.4L200.8 889.1L200.9 890.8L200.9 892.5L201 894.1L201 895.8L201.1 897.5L201.1 899.2L201.2 900.9L201.3 902.5L201.3 904.2L201.4 905.9L201.4 907.6L201.5 909.3L201.5 911L201.6 912.6L201.6 914.3L201.7 916L201.7 917.7L201.8 919.4L201.8 921L201.9 922.7L202 924.4L202 926.1L202.1 927.8L202.2 929.5L202.3 931.1L202.4 932.8L202.4 934.5L202.5 936.2L202.6 937.9L202.7 939.6L202.8 941.2L202.8 942.9L202.9 944.6L203 946.3L203.1 948L203.2 949.6L203.3 951.3L203.4 953L203.5 954.7L203.5 956.4L203.6 958.1L203.7 959.7L203.8 961.4L203.9 963.1L204 964.8L204.1 966.4L204.2 968.1L204.3 969.8L204.4 971.5L204.5 973.2L204.6 974.8L204.7 976.5L204.8 978.2L205 979.9L205.1 981.6L205.2 983.2L205.3 984.9L205.4 986.6L205.5 988.3L205.6 989.9L205.7 991.6L205.8 993.3L205.9 995L206 996.6L206.1 998.3L206.2 1000L206.3 1001.6L206.4 1003.3L206.5 1005L206.6 1006.7L206.7 1008.3L206.8 1010L206.9 1011.7L207 1013.4L207.2 1015L207.3 1016.7L207.4 1018.4L207.5 1020L207.6 1021.7L207.8 1023.4L207.9 1025L208 1026.7L208.2 1028.4L208.3 1030L208.4 1031.7L208.6 1033.4L208.7 1035L208.9 1036.7L209 1038.3L209.2 1040L209.3 1041.7L209.5 1043.3L209.7 1045L209.8 1046.7L210 1048.3L210.2 1050L210.4 1051.6L210.5 1053.3L210.7 1054.9L210.9 1056.6L211.1 1058.3L211.3 1059.9L211.4 1061.6L211.6 1063.2L211.8 1064.9L211.9 1066.5L212.1 1068.2L212.3 1069.9L212.4 1071.5L212.6 1073.2L212.7 1074.8L212.9 1076.5L213.1 1078.1L213.2 1079.8L213.4 1081.4L213.6 1083.1L213.8 1084.8L214 1086.4L214.2 1088.1L214.4 1089.7L214.6 1091.4L214.8 1093L215 1094.7L215.2 1096.3L215.5 1098L215.7 1099.6L215.9 1101.3L216.1 1102.9L216.4 1104.6L216.6 1106.2L216.9 1107.9L217.1 1109.5L217.4 1111.2L217.7 1112.8L217.9 1114.5L218.2 1116.1L218.5 1117.7L218.8 1119.4L219.1 1121L219.4 1122.7L219.7 1124.3L220 1126L220.3 1127.6L220.6 1129.2L220.9 1130.9L221.3 1132.5L221.6 1134.1L222 1135.8L222.4 1137.4L222.8 1139L223.2 1140.6L223.6 1142.3L224 1143.9L224.4 1145.5L224.8 1147.1L225.3 1148.7L225.7 1150.4L226.1 1152L226.6 1153.6L227 1155.2L227.5 1156.8L227.9 1158.4L228.4 1160.1L228.9 1161.7L229.4 1163.3L229.9 1164.9L230.4 1166.5L230.9 1168.1L231.4 1169.7L231.9 1171.3L232.4 1172.9L232.9 1174.5L233.5 1176.1L234 1177.7L234.5 1179.3L235.1 1180.9L235.7 1182.5L236.2 1184.1L236.8 1185.7L237.4 1187.3L238 1188.9L238.6 1190.5L239.2 1192.1L239.8 1193.7L240.4 1195.2L241 1196.8L241.7 1198.4L242.3 1200L243 1201.5L243.7 1203.1L244.4 1204.6L245.2 1206.1L245.9 1207.6L246.7 1209.1L247.5 1210.6L248.3 1212.1L249.1 1213.6L250 1215L250.9 1216.4L251.8 1217.8L252.7 1219.2L253.6 1220.6L254.6 1221.9L255.6 1223.3L256.6 1224.6L257.6 1225.9L258.7 1227.1L259.8 1228.4L260.9 1229.6L262.1 1230.8L263.3 1231.9L264.5 1233.1L265.7 1234.2L267 1235.2L268.3 1236.3L269.6 1237.3L270.9 1238.3L272.3 1239.3L273.7 1240.2L275.1 1241.1L276.5 1242L278 1242.9L279.4 1243.7L280.9 1244.6L282.4 1245.3L283.9 1246.1L285.5 1246.9L287 1247.6L288.6 1248.3L290.1 1249L291.7 1249.6L293.3 1250.2L294.9 1250.8L296.5 1251.4L298.2 1252L299.8 1252.5L301.4 1253.1L303.1 1253.6L304.7 1254L306.4 1254.5L308 1255L309.7 1255.4L311.3 1255.8L313 1256.2L314.7 1256.5L316.3 1256.9L318 1257.2L319.7 1257.5L321.3 1257.8L323 1258.1L324.7 1258.4L326.3 1258.6L328 1258.9L329.7 1259.1L331.4 1259.3L333.1 1259.5L334.7 1259.7L336.4 1259.8L338.1 1260L339.8 1260.1L341.5 1260.3L343.1 1260.4L344.8 1260.5L346.5 1260.6L348.2 1260.7L349.9 1260.8L351.6 1260.9L787 1260.9" stroke="#482475" stroke-width="3" fill="none" stroke-linejoin="round"/>
<path d="M209.4 751L209.8 756.8L209.9 758.5L210 760.1L210.1 761.8L210.2 763.5L210.2 765.2L210.3 766.9L210.4 768.6L210.5 770.3L210.6 771.9L210.6 773.6L210.7 775.3L210.8 777L210.9 778.7L211 780.3L211.1 782L211.2 783.7L211.3 785.3L211.4 787L211.5 788.7L211.6 790.3L211.7 792L211.8 793.7L211.9 795.3L212 797L212.1 798.6L212.2 800.3L212.3 801.9L212.4 803.6L212.6 805.3L212.7 806.9L212.8 808.6L212.9 810.2L213 811.9L213.1 813.5L213.2 815.2L213.3 816.8L213.4 818.4L213.5 820.1L213.6 821.7L213.7 823.4L213.8 825L213.9 826.7L214 828.3L214.1 829.9L214.2 831.6L214.3 833.2L214.4 834.9L214.4 836.5L214.5 838.1L214.6 839.8L214.7 841.4L214.8 843L214.9 844.7L215 846.3L215.1 847.9L215.2 849.6L215.4 851.2L215.5 852.8L215.6 854.4L215.7 856.1L215.8 857.7L215.9 859.3L216 861L216.2 862.6L216.3 864.2L216.4 865.8L216.5 867.5L216.6 869.1L216.7 870.7L216.9 872.3L217 873.9L217.1 875.6L217.2 877.2L217.4 878.8L217.5 880.4L217.6 882.1L217.7 883.7L217.8 885.3L218 886.9L218.1 888.5L218.2 890.2L218.4 891.8L218.5 893.4L218.6 895L218.7 896.6L218.9 898.2L219 899.9L219.1 901.5L219.3 903.1L219.4 904.7L219.5 906.3L219.7 907.9L219.8 909.6L219.9 911.2L220.1 912.8L220.2 914.4L220.4 916L220.5 917.6L220.6 919.3L220.8 920.9L220.9 922.5L221.1 924.1L221.3 925.7L221.4 927.3L221.6 929L221.7 930.6L221.9 932.2L222 933.8L222.2 935.4L222.4 937L222.5 938.7L222.7 940.3L222.9 941.9L223 943.5L223.2 945.1L223.4 946.7L223.6 948.4L223.7 950L223.9 951.6L224.1 953.2L224.3 954.8L224.5 956.5L224.6 958.1L224.8 959.7L225 961.3L225.2 962.9L225.4 964.6L225.6 966.2L225.8 967.8L226 969.4L226.2 971L226.4 972.7L226.6 974.3L226.8 975.9L227 977.5L227.2 979.2L227.4 980.8L227.6 982.4L227.8 984L228 985.7L228.3 987.3L228.5 988.9L228.7 990.6L228.9 992.2L229.1 993.8L229.4 995.4L229.6 997.1L229.8 998.7L230 1000.3L230.3 1002L230.5 1003.6L230.8 1005.3L231 1006.9L231.2 1008.5L231.5 1010.2L231.7 1011.8L232 1013.4L232.2 1015.1L232.5 1016.7L232.7 1018.4L233 1020L233.2 1021.7L233.5 1023.3L233.8 1025L234 1026.6L234.3 1028.2L234.6 1029.9L234.9 1031.5L235.1 1033.2L235.4 1034.9L235.7 1036.5L236 1038.2L236.3 1039.8L236.6 1041.5L236.9 1043.1L237.2 1044.8L237.5 1046.4L237.8 1048.1L238.1 1049.8L238.4 1051.4L238.7 1053.1L239.1 1054.7L239.4 1056.4L239.7 1058L240.1 1059.7L240.4 1061.4L240.8 1063L241.1 1064.7L241.5 1066.3L241.9 1068L242.3 1069.6L242.7 1071.2L243.1 1072.9L243.5 1074.5L243.9 1076.1L244.4 1077.8L244.8 1079.4L245.2 1081L245.7 1082.6L246.1 1084.3L246.6 1085.9L247 1087.5L247.5 1089.1L248 1090.7L248.5 1092.3L248.9 1093.9L249.4 1095.5L249.9 1097.1L250.5 1098.7L251 1100.2L251.5 1101.8L252 1103.4L252.6 1104.9L253.1 1106.5L253.7 1108L254.3 1109.6L254.8 1111.1L255.4 1112.7L256 1114.2L256.6 1115.7L257.2 1117.2L257.9 1118.7L258.5 1120.2L259.1 1121.7L259.8 1123.2L260.4 1124.7L261.1 1126.2L261.8 1127.6L262.5 1129.1L263.1 1130.6L263.8 1132L264.5 1133.5L265.2 1134.9L265.9 1136.4L266.5 1137.8L267.2 1139.2L267.9 1140.7L268.6 1142.1L269.4 1143.5L270.1 1144.9L270.9 1146.3L271.6 1147.7L272.4 1149.1L273.2 1150.5L274 1151.9L274.8 1153.2L275.6 1154.6L276.5 1155.9L277.3 1157.2L278.2 1158.6L279.1 1159.9L280 1161.2L280.9 1162.5L281.8 1163.8L282.8 1165L283.7 1166.3L284.7 1167.5L285.7 1168.8L286.7 1170L287.7 1171.2L288.7 1172.5L289.8 1173.7L290.8 1174.8L291.9 1176L293 1177.2L294.1 1178.3L295.3 1179.5L296.4 1180.6L297.6 1181.7L298.8 1182.8L300 1183.9L301.2 1185L302.4 1186.1L303.6 1187.1L304.9 1188.2L306.1 1189.2L307.4 1190.2L308.7 1191.2L310 1192.2L311.4 1193.2L312.7 1194.2L314 1195.1L315.4 1196.1L316.8 1197L318.1 1197.9L319.5 1198.8L320.9 1199.7L322.4 1200.6L323.8 1201.5L325.2 1202.3L326.7 1203.1L328.1 1203.9L329.6 1204.7L331.1 1205.5L332.6 1206.2L334.1 1206.9L335.6 1207.6L337.2 1208.3L338.7 1208.9L340.3 1209.6L341.8 1210.2L343.4 1210.8L345 1211.4L346.6 1211.9L348.2 1212.5L349.7 1213L351.3 1213.6L352.9 1214.1L354.5 1214.6L356.1 1215L357.7 1215.5L359.4 1215.9L361 1216.4L362.6 1216.8L364.2 1217.2L365.8 1217.6L367.5 1218L369.1 1218.3L370.7 1218.7L372.4 1219L374 1219.3L375.6 1219.7L377.3 1220L378.9 1220.2L380.6 1220.5L382.2 1220.8L383.9 1221L385.5 1221.3L387.1 1221.5L388.8 1221.7L390.4 1221.9L392.1 1222.1L393.7 1222.3L395.4 1222.5L397 1222.6L398.7 1222.8L400.3 1222.9L402 1223.1L403.6 1223.2L405.3 1223.3L406.9 1223.4L408.6 1223.5L410.2 1223.6L411.9 1223.7L413.5 1223.8L415.2 1223.8L416.8 1223.9L418.5 1224L420.2 1224L421.8 1224.1L423.5 1224.2L787 1224.2" stroke="#414487" stroke-width="3" fill="none" stroke-linejoin="round"/>
<path d="M222.4 751L222.9 757.2L223 758.8L223.1 760.4L223.2 762.1L223.4 763.7L223.5 765.3L223.6 767L223.8 768.6L223.9 770.2L224.1 771.9L224.2 773.5L224.4 775.1L224.5 776.7L224.6 778.4L224.8 780L224.9 781.6L225 783.3L225.2 784.9L225.3 786.5L225.4 788.1L225.5 789.8L225.7 791.4L225.8 793L225.9 794.6L226.1 796.3L226.2 797.9L226.3 799.5L226.5 801.1L226.6 802.8L226.8 804.4L226.9 806L227.1 807.6L227.2 809.3L227.3 810.9L227.5 812.5L227.6 814.1L227.8 815.8L228 817.4L228.1 819L228.3 820.6L228.4 822.2L228.6 823.9L228.7 825.5L228.9 827.1L229.1 828.7L229.2 830.3L229.4 832L229.6 833.6L229.7 835.2L229.9 836.8L230.1 838.4L230.2 840L230.4 841.7L230.6 843.3L230.8 844.9L230.9 846.5L231.1 848.1L231.3 849.7L231.5 851.4L231.7 853L231.9 854.6L232.1 856.2L232.2 857.8L232.4 859.4L232.6 861.1L232.8 862.7L233 864.3L233.2 865.9L233.4 867.5L233.6 869.1L233.8 870.7L234 872.4L234.2 874L234.4 875.6L234.6 877.2L234.8 878.8L235 880.4L235.2 882L235.4 883.7L235.6 885.3L235.8 886.9L236 888.5L236.2 890.1L236.4 891.7L236.6 893.3L236.8 894.9L237 896.6L237.2 898.2L237.4 899.8L237.6 901.4L237.8 903L238 904.6L238.2 906.2L238.4 907.9L238.7 909.5L238.9 911.1L239.1 912.7L239.3 914.3L239.5 915.9L239.7 917.6L239.9 919.2L240.1 920.8L240.3 922.4L240.6 924L240.8 925.6L241 927.2L241.3 928.8L241.5 930.5L241.7 932.1L242 933.7L242.2 935.3L242.5 936.9L242.7 938.5L243 940.1L243.2 941.7L243.5 943.3L243.7 945L244 946.6L244.2 948.2L244.5 949.8L244.7 951.4L245 953L245.3 954.6L245.5 956.2L245.8 957.8L246.1 959.4L246.3 961L246.6 962.7L246.9 964.3L247.2 965.9L247.4 967.5L247.7 969.1L248 970.7L248.3 972.3L248.6 973.9L248.9 975.5L249.2 977.1L249.5 978.7L249.8 980.3L250.1 981.9L250.4 983.5L250.8 985.1L251.1 986.7L251.4 988.3L251.7 989.9L252.1 991.5L252.4 993.1L252.7 994.7L253 996.3L253.4 997.9L253.7 999.5L254 1001.1L254.4 1002.6L254.7 1004.2L255.1 1005.8L255.4 1007.4L255.8 1009L256.1 1010.6L256.5 1012.2L256.9 1013.8L257.3 1015.4L257.7 1016.9L258.1 1018.5L258.5 1020.1L258.9 1021.7L259.3 1023.3L259.7 1024.9L260.1 1026.4L260.6 1028L261 1029.6L261.4 1031.2L261.9 1032.7L262.4 1034.3L262.8 1035.9L263.3 1037.4L263.8 1039L264.3 1040.6L264.8 1042.1L265.3 1043.7L265.8 1045.3L266.3 1046.8L266.8 1048.4L267.4 1049.9L267.9 1051.5L268.4 1053.1L269 1054.6L269.6 1056.2L270.1 1057.7L270.7 1059.3L271.3 1060.8L271.9 1062.4L272.5 1063.9L273.1 1065.4L273.7 1067L274.3 1068.5L275 1070.1L275.6 1071.6L276.3 1073.1L276.9 1074.7L277.6 1076.2L278.2 1077.7L278.9 1079.3L279.6 1080.8L280.3 1082.3L281 1083.8L281.7 1085.3L282.4 1086.8L283.2 1088.3L283.9 1089.8L284.6 1091.3L285.4 1092.8L286.2 1094.3L286.9 1095.7L287.7 1097.2L288.5 1098.7L289.3 1100.1L290.1 1101.6L291 1103L291.8 1104.5L292.6 1105.9L293.5 1107.3L294.3 1108.8L295.2 1110.2L296.1 1111.6L296.9 1113L297.8 1114.4L298.7 1115.8L299.7 1117.2L300.6 1118.5L301.5 1119.9L302.4 1121.3L303.4 1122.6L304.3 1124L305.3 1125.3L306.3 1126.6L307.3 1127.9L308.3 1129.3L309.3 1130.6L310.3 1131.8L311.3 1133.1L312.4 1134.4L313.5 1135.6L314.5 1136.8L315.6 1138L316.8 1139.2L317.9 1140.4L319 1141.6L320.2 1142.7L321.3 1143.9L322.5 1145L323.6 1146.2L324.8 1147.3L326 1148.4L327.2 1149.5L328.4 1150.5L329.6 1151.6L330.8 1152.6L332.1 1153.7L333.3 1154.7L334.6 1155.7L335.8 1156.7L337.1 1157.7L338.4 1158.7L339.7 1159.6L340.9 1160.6L342.2 1161.5L343.6 1162.4L344.9 1163.3L346.2 1164.2L347.5 1165.1L348.9 1166L350.2 1166.8L351.6 1167.7L353 1168.5L354.4 1169.3L355.7 1170.1L357.1 1170.8L358.5 1171.6L359.9 1172.3L361.4 1173.1L362.8 1173.8L364.2 1174.5L365.7 1175.2L367.1 1175.8L368.6 1176.5L370 1177.1L371.5 1177.8L373 1178.4L374.5 1179L376 1179.6L377.5 1180.2L379 1180.7L380.5 1181.3L382 1181.8L383.5 1182.4L385 1182.9L386.6 1183.4L388.1 1183.9L389.6 1184.3L391.2 1184.8L392.7 1185.3L394.3 1185.7L395.9 1186.2L397.4 1186.6L399 1187L400.6 1187.4L402.2 1187.8L403.7 1188.2L405.3 1188.5L406.9 1188.9L408.5 1189.2L410.1 1189.6L411.7 1189.9L413.3 1190.2L415 1190.5L416.6 1190.8L418.2 1191.1L419.8 1191.4L421.5 1191.7L423.1 1191.9L424.7 1192.2L426.3 1192.4L428 1192.6L429.6 1192.9L431.3 1193.1L432.9 1193.3L434.6 1193.5L436.2 1193.7L437.9 1193.8L439.5 1194L441.2 1194.2L442.8 1194.3L444.5 1194.5L446.1 1194.6L447.8 1194.8L449.5 1194.9L451.1 1195L452.8 1195.1L454.5 1195.2L456.1 1195.4L457.8 1195.5L459.4 1195.6L461.1 1195.8L462.8 1195.9L464.4 1196L466.1 1196.2L467.8 1196.3L469.4 1196.5L471.1 1196.6L472.7 1196.7L474.4 1196.8L476.1 1197L477.7 1197.1L787 1197.1" stroke="#355f8d" stroke-width="3" fill="none" stroke-linejoin="round"/>
<path d="M235.5 751L236.5 757.6L236.8 759.2L237 760.8L237.2 762.4L237.4 764L237.6 765.6L237.8 767.2L237.9 768.8L238.1 770.4L238.3 772L238.5 773.7L238.7 775.3L238.8 776.9L239 778.5L239.2 780.1L239.4 781.7L239.6 783.3L239.8 785L240 786.6L240.3 788.2L240.5 789.8L240.7 791.4L240.9 793L241.1 794.7L241.3 796.3L241.6 797.9L241.8 799.5L242 801.2L242.2 802.8L242.4 804.4L242.6 806L242.8 807.7L243 809.3L243.2 810.9L243.4 812.6L243.6 814.2L243.8 815.8L244 817.5L244.2 819.1L244.4 820.7L244.6 822.4L244.8 824L245 825.7L245.2 827.3L245.4 829L245.5 830.6L245.7 832.2L245.9 833.9L246.1 835.5L246.3 837.2L246.5 838.8L246.7 840.5L246.9 842.1L247.1 843.8L247.3 845.4L247.5 847.1L247.7 848.7L247.9 850.4L248.1 852L248.4 853.7L248.6 855.3L248.8 857L249.1 858.6L249.3 860.3L249.6 861.9L249.8 863.6L250.1 865.2L250.4 866.9L250.6 868.5L250.9 870.1L251.1 871.8L251.4 873.4L251.6 875.1L251.9 876.7L252.2 878.4L252.4 880L252.7 881.7L253 883.3L253.2 885L253.5 886.6L253.8 888.3L254 889.9L254.3 891.6L254.6 893.2L254.9 894.9L255.2 896.5L255.4 898.2L255.7 899.8L256 901.4L256.3 903.1L256.6 904.7L256.9 906.4L257.2 908L257.5 909.7L257.8 911.3L258.1 912.9L258.4 914.6L258.7 916.2L259 917.9L259.3 919.5L259.7 921.1L260 922.8L260.3 924.4L260.6 926.1L260.9 927.7L261.2 929.3L261.5 931L261.9 932.6L262.2 934.2L262.5 935.9L262.9 937.5L263.2 939.1L263.5 940.8L263.9 942.4L264.2 944L264.6 945.6L264.9 947.3L265.3 948.9L265.6 950.5L266 952.1L266.4 953.7L266.8 955.4L267.1 957L267.5 958.6L267.9 960.2L268.3 961.8L268.7 963.4L269.1 965L269.5 966.6L269.9 968.3L270.3 969.9L270.7 971.5L271.2 973.1L271.6 974.7L272 976.3L272.5 977.9L272.9 979.5L273.4 981L273.8 982.6L274.3 984.2L274.7 985.8L275.2 987.4L275.7 989L276.1 990.6L276.6 992.2L277.1 993.7L277.6 995.3L278.1 996.9L278.6 998.5L279.1 1000L279.6 1001.6L280.1 1003.2L280.6 1004.7L281.1 1006.3L281.7 1007.9L282.2 1009.4L282.7 1011L283.3 1012.6L283.8 1014.1L284.4 1015.7L285 1017.2L285.5 1018.8L286.1 1020.3L286.7 1021.8L287.3 1023.4L287.9 1024.9L288.5 1026.5L289.1 1028L289.7 1029.5L290.4 1031L291 1032.6L291.6 1034.1L292.3 1035.6L292.9 1037.1L293.6 1038.6L294.3 1040.2L295 1041.7L295.6 1043.2L296.3 1044.7L297 1046.2L297.7 1047.7L298.4 1049.2L299.2 1050.7L299.9 1052.2L300.6 1053.6L301.4 1055.1L302.1 1056.6L302.9 1058.1L303.7 1059.5L304.5 1061L305.3 1062.4L306.2 1063.9L307 1065.3L307.9 1066.7L308.8 1068.2L309.7 1069.6L310.6 1070.9L311.5 1072.3L312.4 1073.7L313.4 1075.1L314.3 1076.5L315.3 1077.8L316.2 1079.2L317.2 1080.6L318.2 1081.9L319.2 1083.2L320.2 1084.6L321.2 1085.9L322.2 1087.2L323.2 1088.5L324.2 1089.8L325.3 1091.1L326.3 1092.4L327.3 1093.7L328.4 1095L329.4 1096.3L330.5 1097.5L331.6 1098.8L332.7 1100L333.8 1101.2L334.9 1102.5L336 1103.7L337.1 1104.9L338.2 1106.1L339.3 1107.3L340.5 1108.4L341.6 1109.6L342.8 1110.8L343.9 1111.9L345.1 1113L346.2 1114.2L347.4 1115.3L348.6 1116.4L349.8 1117.5L351 1118.6L352.2 1119.6L353.4 1120.7L354.6 1121.7L355.9 1122.8L357.1 1123.8L358.4 1124.8L359.6 1125.8L360.8 1126.8L362.1 1127.8L363.3 1128.8L364.6 1129.8L365.8 1130.7L367.1 1131.7L368.3 1132.7L369.6 1133.6L370.9 1134.6L372.1 1135.5L373.4 1136.5L374.7 1137.4L376 1138.3L377.3 1139.2L378.6 1140.1L379.9 1140.9L381.2 1141.8L382.5 1142.6L383.9 1143.5L385.2 1144.3L386.6 1145.1L388 1145.9L389.3 1146.6L390.7 1147.4L392.1 1148.1L393.5 1148.8L394.9 1149.5L396.3 1150.2L397.8 1150.9L399.2 1151.6L400.6 1152.2L402.1 1152.9L403.6 1153.5L405 1154.1L406.5 1154.7L408 1155.3L409.5 1155.8L411 1156.4L412.5 1156.9L414 1157.4L415.6 1157.9L417.1 1158.4L418.6 1158.9L420.2 1159.4L421.7 1159.9L423.3 1160.3L424.9 1160.7L426.4 1161.2L428 1161.6L429.6 1162L431.2 1162.4L432.8 1162.8L434.4 1163.1L436 1163.5L437.6 1163.8L439.2 1164.2L440.8 1164.5L442.5 1164.8L444.1 1165.1L445.7 1165.4L447.3 1165.7L449 1166L450.6 1166.2L452.3 1166.5L453.9 1166.7L455.5 1167L457.2 1167.2L458.8 1167.5L460.5 1167.7L462.1 1168L463.8 1168.2L465.5 1168.5L467.1 1168.7L468.8 1168.9L470.4 1169.1L472.1 1169.3L473.7 1169.5L475.4 1169.7L477.1 1169.9L478.7 1170.1L480.4 1170.3L482.1 1170.5L483.7 1170.6L485.4 1170.8L487 1170.9L488.7 1171.1L490.4 1171.2L492 1171.4L493.7 1171.5L495.3 1171.6L497 1171.8L498.7 1171.9L500.3 1172L502 1172.1L503.6 1172.2L505.3 1172.3L507 1172.4L508.6 1172.5L510.3 1172.6L511.9 1172.7L513.6 1172.7L515.2 1172.8L516.9 1172.9L518.6 1173L520.2 1173.1L521.9 1173.1L523.5 1173.2L525.2 1173.2L526.8 1173.3L528.5 1173.4L530.1 1173.4L531.8 1173.5L533.4 1173.5L535.1 1173.6L536.7 1173.6L538.4 1173.7L540 1173.7L541.7 1173.8L543.3 1173.8L545 1173.9L546.6 1173.9L548.3 1174L551.6 1174L553.2 1174.1L584.3 1174.1L586 1174.2L590.9 1174.2L592.5 1174.3L594.1 1174.3L595.8 1174.5L787 1174.5" stroke="#2a788e" stroke-width="3" fill="none" stroke-linejoin="round"/>
<path d="M249.3 751L250.4 757.8L250.6 759.3L250.9 760.9L251.1 762.4L251.3 764L251.5 765.5L251.7 767.1L251.9 768.7L252.2 770.3L252.4 771.8L252.6 773.4L252.8 775L253 776.6L253.2 778.1L253.4 779.7L253.7 781.3L253.9 782.9L254.1 784.5L254.4 786L254.6 787.6L254.9 789.2L255.1 790.8L255.3 792.4L255.6 794L255.8 795.6L256.1 797.1L256.3 798.7L256.6 800.3L256.8 801.9L257 803.5L257.3 805.1L257.5 806.7L257.8 808.3L258 809.9L258.3 811.5L258.5 813.1L258.7 814.7L259 816.3L259.2 818L259.5 819.6L259.7 821.2L260 822.8L260.2 824.4L260.5 826L260.7 827.6L261 829.2L261.2 830.8L261.5 832.5L261.7 834.1L262 835.7L262.2 837.3L262.5 838.9L262.8 840.5L263 842.2L263.3 843.8L263.5 845.4L263.8 847L264.1 848.6L264.4 850.3L264.6 851.9L264.9 853.5L265.2 855.1L265.5 856.7L265.8 858.3L266.1 860L266.4 861.6L266.8 863.2L267.1 864.8L267.4 866.4L267.7 868L268 869.7L268.3 871.3L268.7 872.9L269 874.5L269.3 876.1L269.6 877.7L270 879.4L270.3 881L270.6 882.6L271 884.2L271.3 885.8L271.7 887.4L272 889L272.4 890.6L272.7 892.3L273.1 893.9L273.4 895.5L273.8 897.1L274.1 898.7L274.5 900.3L274.9 901.9L275.2 903.5L275.6 905.1L276 906.7L276.4 908.3L276.8 909.9L277.1 911.6L277.5 913.2L277.9 914.8L278.3 916.4L278.7 918L279.1 919.6L279.5 921.1L279.9 922.7L280.4 924.3L280.8 925.9L281.2 927.5L281.6 929.1L282.1 930.7L282.5 932.3L282.9 933.9L283.4 935.5L283.8 937L284.3 938.6L284.7 940.2L285.2 941.8L285.6 943.4L286.1 944.9L286.6 946.5L287 948.1L287.5 949.7L288 951.2L288.5 952.8L289 954.4L289.5 955.9L290 957.5L290.5 959L291 960.6L291.5 962.2L292 963.7L292.5 965.3L293.1 966.8L293.6 968.4L294.1 969.9L294.7 971.4L295.2 973L295.8 974.5L296.3 976.1L296.9 977.6L297.5 979.1L298 980.6L298.6 982.2L299.2 983.7L299.8 985.2L300.4 986.7L301 988.3L301.6 989.8L302.2 991.3L302.8 992.8L303.5 994.3L304.1 995.8L304.8 997.3L305.4 998.8L306.1 1000.3L306.7 1001.7L307.4 1003.2L308.1 1004.7L308.8 1006.2L309.4 1007.6L310.1 1009.1L310.8 1010.6L311.5 1012L312.3 1013.5L313 1015L313.7 1016.4L314.4 1017.9L315.2 1019.3L315.9 1020.8L316.7 1022.2L317.4 1023.6L318.2 1025.1L318.9 1026.5L319.7 1027.9L320.5 1029.3L321.3 1030.8L322.1 1032.2L322.9 1033.6L323.7 1035L324.5 1036.4L325.3 1037.8L326.2 1039.2L327 1040.6L327.8 1042L328.7 1043.4L329.6 1044.7L330.4 1046.1L331.3 1047.5L332.2 1048.9L333.1 1050.2L334 1051.6L334.9 1052.9L335.8 1054.3L336.7 1055.6L337.6 1057L338.5 1058.3L339.5 1059.6L340.5 1061L341.4 1062.3L342.4 1063.6L343.4 1064.9L344.4 1066.1L345.4 1067.4L346.5 1068.7L347.5 1069.9L348.6 1071.2L349.6 1072.4L350.7 1073.6L351.8 1074.9L352.8 1076.1L353.9 1077.3L355 1078.5L356.1 1079.7L357.2 1080.9L358.3 1082.1L359.4 1083.2L360.5 1084.4L361.7 1085.5L362.8 1086.7L364 1087.8L365.1 1088.9L366.3 1090L367.4 1091.1L368.6 1092.2L369.8 1093.3L371 1094.4L372.2 1095.5L373.4 1096.5L374.6 1097.5L375.8 1098.6L377 1099.6L378.2 1100.6L379.4 1101.6L380.7 1102.6L381.9 1103.5L383.2 1104.5L384.4 1105.5L385.7 1106.4L387 1107.3L388.2 1108.2L389.5 1109.1L390.8 1110L392.1 1110.9L393.4 1111.7L394.7 1112.6L396 1113.4L397.3 1114.2L398.7 1115L400 1115.8L401.3 1116.6L402.7 1117.3L404 1118.1L405.4 1118.8L406.7 1119.5L408.1 1120.2L409.5 1120.9L410.9 1121.5L412.2 1122.2L413.6 1122.8L415 1123.5L416.4 1124.1L417.8 1124.7L419.2 1125.3L420.6 1125.9L422.1 1126.5L423.5 1127.1L424.9 1127.7L426.3 1128.3L427.7 1128.9L429.1 1129.5L430.5 1130.1L432 1130.7L433.4 1131.2L434.9 1131.8L436.3 1132.3L437.8 1132.9L439.3 1133.4L440.8 1133.9L442.3 1134.4L443.8 1134.9L445.3 1135.4L446.8 1135.9L448.3 1136.3L449.8 1136.8L451.4 1137.2L452.9 1137.6L454.5 1138L456 1138.5L457.6 1138.8L459.1 1139.2L460.7 1139.6L462.3 1140L463.9 1140.4L465.4 1140.7L467 1141L468.6 1141.4L470.2 1141.7L471.8 1142L473.4 1142.3L475 1142.7L476.7 1143L478.3 1143.2L479.9 1143.5L481.5 1143.8L483.1 1144.1L484.8 1144.3L486.4 1144.6L488 1144.8L489.7 1145.1L491.3 1145.3L492.9 1145.6L494.6 1145.8L496.2 1146L497.8 1146.2L499.5 1146.5L501.1 1146.7L502.8 1146.9L504.4 1147.1L506.1 1147.3L507.7 1147.5L509.3 1147.7L511 1147.9L512.6 1148L514.3 1148.2L515.9 1148.4L517.5 1148.6L519.2 1148.8L520.8 1148.9L522.4 1149.1L524.1 1149.3L525.7 1149.4L527.3 1149.6L528.9 1149.8L530.6 1149.9L532.2 1150.1L533.8 1150.2L535.4 1150.4L537.1 1150.5L538.7 1150.7L540.3 1150.8L541.9 1150.9L543.6 1151.1L545.2 1151.2L546.8 1151.4L548.4 1151.5L550 1151.6L551.7 1151.7L553.3 1151.9L554.9 1152L556.5 1152.1L558.1 1152.2L559.7 1152.3L561.4 1152.5L563 1152.6L564.6 1152.7L566.2 1152.8L567.8 1152.9L569.4 1153L571.1 1153.1L572.7 1153.2L574.3 1153.3L575.9 1153.4L577.5 1153.5L579.1 1153.6L580.7 1153.7L582.4 1153.8L584 1153.8L585.6 1154L787 1154" stroke="#21918c" stroke-width="3" fill="none" stroke-linejoin="round"/>
<path d="M263.3 751L264.4 757.8L264.7 759.3L264.9 760.8L265.2 762.3L265.4 763.8L265.6 765.3L265.8 766.8L266.1 768.3L266.3 769.9L266.5 771.4L266.8 772.9L267 774.4L267.2 775.9L267.5 777.5L267.7 779L268 780.5L268.2 782L268.5 783.6L268.8 785.1L269 786.6L269.3 788.1L269.6 789.7L269.9 791.2L270.2 792.7L270.4 794.3L270.7 795.8L271 797.3L271.3 798.9L271.6 800.4L271.8 802L272.1 803.5L272.4 805.1L272.7 806.6L273 808.1L273.3 809.7L273.6 811.2L273.9 812.8L274.2 814.3L274.5 815.9L274.8 817.4L275.1 819L275.4 820.6L275.7 822.1L276 823.7L276.3 825.2L276.6 826.8L276.9 828.3L277.2 829.9L277.5 831.5L277.8 833L278.1 834.6L278.4 836.1L278.8 837.7L279.1 839.3L279.4 840.8L279.7 842.4L280.1 843.9L280.4 845.5L280.7 847.1L281.1 848.6L281.4 850.2L281.7 851.7L282.1 853.3L282.4 854.9L282.8 856.4L283.1 858L283.5 859.6L283.8 861.1L284.2 862.7L284.5 864.2L284.9 865.8L285.3 867.4L285.6 868.9L286 870.5L286.4 872L286.7 873.6L287.1 875.2L287.5 876.7L287.9 878.3L288.3 879.8L288.7 881.4L289.1 882.9L289.5 884.5L289.9 886L290.3 887.6L290.7 889.2L291.1 890.7L291.5 892.3L291.9 893.8L292.3 895.3L292.8 896.9L293.2 898.4L293.6 900L294.1 901.5L294.5 903.1L294.9 904.6L295.4 906.1L295.8 907.7L296.3 909.2L296.7 910.8L297.2 912.3L297.7 913.8L298.1 915.4L298.6 916.9L299.1 918.4L299.6 919.9L300 921.5L300.5 923L301 924.5L301.5 926L302 927.5L302.5 929.1L303 930.6L303.5 932.1L304 933.6L304.5 935.1L305.1 936.6L305.6 938.1L306.1 939.6L306.7 941.1L307.2 942.6L307.7 944.1L308.3 945.6L308.9 947.1L309.4 948.6L310 950.1L310.5 951.6L311.1 953L311.7 954.5L312.3 956L312.9 957.5L313.5 958.9L314.1 960.4L314.7 961.9L315.3 963.3L315.9 964.8L316.5 966.3L317.2 967.7L317.8 969.2L318.4 970.6L319.1 972.1L319.7 973.5L320.4 974.9L321 976.4L321.7 977.8L322.4 979.2L323 980.7L323.7 982.1L324.4 983.5L325.1 984.9L325.8 986.3L326.5 987.7L327.2 989.2L328 990.6L328.7 992L329.4 993.4L330.2 994.7L330.9 996.1L331.6 997.5L332.4 998.9L333.2 1000.3L333.9 1001.7L334.7 1003L335.5 1004.4L336.3 1005.7L337.1 1007.1L337.9 1008.5L338.7 1009.8L339.5 1011.2L340.3 1012.5L341.2 1013.8L342 1015.2L342.8 1016.5L343.7 1017.8L344.6 1019.1L345.4 1020.5L346.3 1021.8L347.2 1023.1L348 1024.4L348.9 1025.7L349.8 1027L350.7 1028.3L351.7 1029.5L352.6 1030.8L353.5 1032.1L354.4 1033.4L355.4 1034.6L356.3 1035.9L357.3 1037.2L358.3 1038.4L359.2 1039.7L360.2 1040.9L361.2 1042.1L362.2 1043.4L363.2 1044.6L364.2 1045.8L365.2 1047L366.2 1048.2L367.2 1049.4L368.3 1050.6L369.3 1051.8L370.4 1053L371.4 1054.2L372.5 1055.3L373.6 1056.5L374.6 1057.6L375.7 1058.8L376.8 1059.9L377.9 1061.1L379 1062.2L380.1 1063.3L381.2 1064.4L382.4 1065.5L383.5 1066.6L384.6 1067.7L385.8 1068.8L386.9 1069.9L388.1 1070.9L389.2 1072L390.4 1073.1L391.6 1074.1L392.8 1075.1L394 1076.2L395.2 1077.2L396.4 1078.2L397.6 1079.2L398.8 1080.2L400 1081.2L401.2 1082.1L402.5 1083.1L403.7 1084.1L405 1085L406.2 1086L407.5 1086.9L408.7 1087.8L410 1088.7L411.3 1089.6L412.6 1090.5L413.9 1091.4L415.2 1092.3L416.5 1093.1L417.8 1094L419.1 1094.8L420.4 1095.6L421.7 1096.5L423.1 1097.3L424.4 1098.1L425.8 1098.9L427.1 1099.6L428.5 1100.4L429.8 1101.2L431.2 1101.9L432.6 1102.6L434 1103.4L435.3 1104.1L436.7 1104.8L438.1 1105.5L439.5 1106.2L441 1106.8L442.4 1107.5L443.8 1108.1L445.2 1108.8L446.7 1109.4L448.1 1110L449.5 1110.6L451 1111.2L452.4 1111.8L453.9 1112.3L455.4 1112.9L456.8 1113.4L458.3 1114L459.8 1114.5L461.3 1115L462.7 1115.5L464.2 1116L465.7 1116.5L467.2 1117L468.7 1117.5L470.2 1118L471.7 1118.4L473.3 1118.9L474.8 1119.3L476.3 1119.7L477.8 1120.1L479.3 1120.6L480.9 1121L482.4 1121.4L484 1121.7L485.5 1122.1L487 1122.5L488.6 1122.8L490.1 1123.2L491.7 1123.5L493.2 1123.9L494.8 1124.2L496.3 1124.5L497.9 1124.9L499.5 1125.2L501 1125.5L502.6 1125.8L504.2 1126L505.7 1126.3L507.3 1126.6L508.9 1126.9L510.5 1127.1L512 1127.4L513.6 1127.6L515.2 1127.9L516.8 1128.1L518.4 1128.3L519.9 1128.6L521.5 1128.8L523.1 1129L524.7 1129.2L526.3 1129.4L527.8 1129.6L529.4 1129.8L531 1130L532.6 1130.2L534.2 1130.3L535.8 1130.5L537.4 1130.7L538.9 1130.8L540.5 1131L542.1 1131.1L543.7 1131.3L545.3 1131.5L546.9 1131.6L548.4 1131.8L550 1131.9L551.6 1132.1L553.2 1132.2L554.8 1132.4L556.3 1132.5L557.9 1132.7L559.5 1132.8L561.1 1133L562.7 1133.1L564.3 1133.2L565.8 1133.4L567.4 1133.5L569 1133.6L570.6 1133.7L572.2 1133.8L573.7 1133.9L575.3 1134L576.9 1134.1L578.5 1134.2L580.1 1134.3L581.6 1134.4L583.2 1134.5L584.8 1134.6L586.4 1134.7L588 1134.8L589.5 1134.8L591.1 1134.9L592.7 1135L594.3 1135.1L595.9 1135.2L787 1135.2" stroke="#22a884" stroke-width="3" fill="none" stroke-linejoin="round"/>
<path d="M277.4 751L278.4 757.5L278.7 759L278.9 760.5L279.2 762L279.5 763.6L279.7 765.1L280 766.6L280.3 768.1L280.5 769.7L280.8 771.2L281.1 772.7L281.4 774.2L281.6 775.8L281.9 777.3L282.2 778.8L282.5 780.4L282.8 781.9L283.1 783.4L283.4 785L283.6 786.5L283.9 788L284.2 789.6L284.5 791.1L284.8 792.6L285.1 794.2L285.4 795.7L285.7 797.2L286.1 798.8L286.4 800.3L286.7 801.8L287 803.4L287.3 804.9L287.6 806.4L288 808L288.3 809.5L288.6 811L289 812.6L289.3 814.1L289.6 815.6L290 817.2L290.3 818.7L290.7 820.2L291 821.8L291.4 823.3L291.8 824.8L292.1 826.4L292.5 827.9L292.8 829.4L293.2 831L293.6 832.5L294 834L294.4 835.6L294.7 837.1L295.1 838.6L295.5 840.1L295.9 841.7L296.3 843.2L296.7 844.7L297.1 846.2L297.5 847.8L297.9 849.3L298.3 850.8L298.7 852.4L299.1 853.9L299.5 855.4L299.9 856.9L300.4 858.4L300.8 860L301.2 861.5L301.6 863L302 864.5L302.5 866.1L302.9 867.6L303.3 869.1L303.8 870.6L304.2 872.1L304.7 873.6L305.1 875.2L305.6 876.7L306 878.2L306.5 879.7L307 881.2L307.4 882.7L307.9 884.2L308.4 885.7L308.9 887.2L309.3 888.7L309.8 890.2L310.3 891.7L310.8 893.2L311.3 894.7L311.8 896.2L312.3 897.7L312.9 899.2L313.4 900.7L313.9 902.2L314.4 903.7L315 905.2L315.5 906.6L316 908.1L316.6 909.6L317.1 911.1L317.7 912.6L318.2 914L318.8 915.5L319.3 917L319.9 918.5L320.5 919.9L321 921.4L321.6 922.9L322.2 924.4L322.7 925.8L323.3 927.3L323.9 928.8L324.5 930.2L325.1 931.7L325.6 933.2L326.2 934.6L326.8 936.1L327.4 937.5L328.1 939L328.7 940.4L329.3 941.9L329.9 943.3L330.5 944.8L331.2 946.2L331.8 947.7L332.5 949.1L333.1 950.5L333.8 952L334.4 953.4L335.1 954.8L335.7 956.3L336.4 957.7L337.1 959.1L337.8 960.5L338.5 961.9L339.2 963.4L339.9 964.8L340.6 966.2L341.3 967.6L342 969L342.7 970.4L343.4 971.8L344.1 973.2L344.9 974.6L345.6 976L346.4 977.4L347.1 978.8L347.9 980.2L348.6 981.5L349.4 982.9L350.2 984.3L350.9 985.7L351.7 987L352.5 988.4L353.3 989.7L354.1 991.1L355 992.4L355.8 993.8L356.7 995.1L357.6 996.4L358.5 997.7L359.4 999L360.3 1000.3L361.2 1001.5L362.1 1002.8L363.1 1004.1L364 1005.4L364.9 1006.6L365.9 1007.9L366.8 1009.1L367.8 1010.4L368.8 1011.6L369.7 1012.8L370.7 1014.1L371.7 1015.3L372.7 1016.5L373.7 1017.7L374.7 1018.9L375.7 1020.1L376.7 1021.3L377.7 1022.5L378.8 1023.6L379.8 1024.8L380.9 1026L381.9 1027.1L383 1028.3L384 1029.4L385.1 1030.5L386.2 1031.7L387.3 1032.8L388.4 1033.9L389.5 1035L390.6 1036.1L391.7 1037.1L392.8 1038.2L394 1039.3L395.1 1040.3L396.2 1041.4L397.4 1042.4L398.6 1043.4L399.7 1044.4L400.9 1045.5L402.1 1046.5L403.3 1047.4L404.5 1048.4L405.7 1049.4L406.9 1050.4L408.1 1051.3L409.4 1052.2L410.6 1053.2L411.9 1054.1L413.1 1055L414.4 1055.9L415.7 1056.8L416.9 1057.7L418.2 1058.6L419.5 1059.4L420.8 1060.3L422.1 1061.2L423.4 1062.1L424.7 1062.9L426 1063.8L427.3 1064.7L428.6 1065.5L429.9 1066.4L431.2 1067.2L432.5 1068.1L433.8 1068.9L435.2 1069.7L436.5 1070.5L437.8 1071.3L439.2 1072.1L440.5 1072.9L441.9 1073.7L443.3 1074.4L444.6 1075.2L446 1076L447.4 1076.7L448.8 1077.4L450.2 1078.2L451.6 1078.9L453 1079.6L454.4 1080.3L455.8 1081L457.2 1081.7L458.6 1082.4L460 1083L461.4 1083.7L462.8 1084.3L464.3 1085L465.7 1085.6L467.1 1086.3L468.5 1086.9L470 1087.5L471.4 1088.1L472.9 1088.7L474.3 1089.3L475.8 1089.9L477.2 1090.5L478.7 1091.1L480.1 1091.6L481.6 1092.2L483 1092.7L484.5 1093.3L486 1093.8L487.4 1094.3L488.9 1094.8L490.4 1095.4L491.9 1095.9L493.3 1096.4L494.8 1096.9L496.3 1097.3L497.8 1097.8L499.3 1098.3L500.8 1098.8L502.3 1099.2L503.8 1099.7L505.3 1100.1L506.8 1100.6L508.3 1101L509.8 1101.4L511.3 1101.8L512.8 1102.2L514.3 1102.6L515.8 1103L517.3 1103.4L518.8 1103.8L520.4 1104.2L521.9 1104.6L523.4 1104.9L524.9 1105.3L526.5 1105.6L528 1106L529.5 1106.3L531.1 1106.7L532.6 1107L534.1 1107.3L535.7 1107.6L537.2 1108L538.7 1108.3L540.3 1108.6L541.8 1108.9L543.4 1109.1L544.9 1109.4L546.5 1109.7L548 1110L549.6 1110.2L551.1 1110.5L552.7 1110.8L554.2 1111L555.8 1111.3L557.3 1111.5L558.9 1111.7L560.5 1112L562 1112.2L563.6 1112.4L565.1 1112.6L566.7 1112.8L568.3 1113L569.8 1113.2L571.4 1113.4L573 1113.6L574.5 1113.8L576.1 1113.9L577.7 1114.1L579.2 1114.3L580.8 1114.4L582.4 1114.6L584 1114.8L585.5 1114.9L587.1 1115L588.7 1115.2L590.2 1115.3L591.8 1115.5L593.4 1115.6L595 1115.7L596.6 1115.8L598.1 1115.9L599.7 1116L601.3 1116.1L602.9 1116.2L604.4 1116.3L606 1116.5L787 1116.5" stroke="#44bf70" stroke-width="3" fill="none" stroke-linejoin="round"/>
<path d="M291 751L292.3 757.7L292.6 759.2L292.9 760.7L293.2 762.1L293.5 763.6L293.9 765.1L294.2 766.6L294.5 768L294.9 769.5L295.2 771L295.6 772.5L295.9 774L296.3 775.4L296.6 776.9L296.9 778.4L297.3 779.9L297.6 781.4L298 782.9L298.3 784.4L298.7 785.9L299 787.4L299.3 788.9L299.7 790.4L300 791.9L300.4 793.4L300.7 794.9L301.1 796.3L301.5 797.8L301.8 799.3L302.2 800.8L302.6 802.3L302.9 803.8L303.3 805.3L303.7 806.8L304.1 808.3L304.5 809.9L304.9 811.4L305.3 812.9L305.7 814.4L306.1 815.9L306.5 817.4L306.9 818.9L307.3 820.4L307.8 821.9L308.2 823.4L308.6 824.9L309 826.4L309.5 827.9L309.9 829.4L310.4 830.9L310.8 832.3L311.2 833.8L311.7 835.3L312.2 836.8L312.6 838.3L313.1 839.8L313.6 841.3L314 842.8L314.5 844.3L315 845.8L315.5 847.3L315.9 848.8L316.4 850.3L316.9 851.8L317.4 853.3L317.8 854.8L318.3 856.3L318.8 857.8L319.2 859.3L319.7 860.8L320.2 862.3L320.7 863.7L321.2 865.2L321.7 866.7L322.2 868.2L322.7 869.7L323.2 871.2L323.7 872.7L324.2 874.2L324.7 875.7L325.3 877.1L325.8 878.6L326.3 880.1L326.9 881.6L327.4 883.1L328 884.5L328.5 886L329.1 887.5L329.6 888.9L330.2 890.4L330.8 891.9L331.4 893.3L331.9 894.8L332.5 896.3L333.1 897.7L333.7 899.2L334.3 900.6L334.9 902.1L335.5 903.5L336.2 905L336.8 906.4L337.4 907.9L338 909.3L338.7 910.7L339.3 912.2L340 913.6L340.6 915L341.3 916.5L341.9 917.9L342.6 919.3L343.2 920.8L343.9 922.2L344.6 923.6L345.2 925.1L345.9 926.5L346.5 927.9L347.2 929.3L347.9 930.7L348.6 932.2L349.3 933.6L350 935L350.7 936.4L351.4 937.8L352.1 939.2L352.8 940.6L353.5 942L354.2 943.4L355 944.8L355.7 946.2L356.4 947.6L357.2 949L358 950.3L358.7 951.7L359.5 953.1L360.3 954.5L361 955.8L361.8 957.2L362.6 958.6L363.4 959.9L364.2 961.3L365 962.6L365.8 964L366.7 965.3L367.5 966.6L368.3 968L369.2 969.3L370 970.6L370.9 972L371.7 973.3L372.6 974.6L373.5 975.9L374.3 977.2L375.2 978.5L376.1 979.8L377 981.1L377.9 982.4L378.8 983.7L379.7 985L380.7 986.3L381.6 987.6L382.5 988.8L383.5 990.1L384.4 991.3L385.4 992.6L386.4 993.8L387.4 995L388.4 996.2L389.5 997.4L390.5 998.6L391.6 999.7L392.6 1000.9L393.7 1002.1L394.8 1003.2L395.9 1004.4L396.9 1005.5L398 1006.6L399.1 1007.7L400.2 1008.9L401.3 1010L402.5 1011.1L403.6 1012.2L404.7 1013.3L405.8 1014.4L407 1015.4L408.1 1016.5L409.3 1017.6L410.4 1018.6L411.6 1019.7L412.7 1020.7L413.9 1021.8L415.1 1022.8L416.2 1023.8L417.4 1024.9L418.6 1025.9L419.8 1026.9L421 1027.9L422.2 1028.9L423.4 1029.8L424.6 1030.8L425.9 1031.8L427.1 1032.7L428.3 1033.7L429.6 1034.6L430.8 1035.6L432 1036.5L433.3 1037.4L434.6 1038.3L435.8 1039.2L437.1 1040.1L438.4 1041L439.6 1041.9L440.9 1042.8L442.2 1043.6L443.5 1044.5L444.8 1045.3L446.1 1046.2L447.4 1047L448.7 1047.8L450 1048.6L451.4 1049.4L452.7 1050.2L454 1051L455.4 1051.8L456.7 1052.6L458.1 1053.3L459.4 1054.1L460.8 1054.8L462.1 1055.5L463.5 1056.3L464.9 1057L466.3 1057.7L467.6 1058.4L469 1059.1L470.4 1059.7L471.8 1060.4L473.2 1061.1L474.6 1061.7L476 1062.4L477.4 1063L478.8 1063.7L480.2 1064.3L481.7 1064.9L483.1 1065.6L484.5 1066.2L485.9 1066.8L487.4 1067.4L488.8 1068L490.2 1068.6L491.7 1069.2L493.1 1069.7L494.6 1070.3L496 1070.9L497.5 1071.4L498.9 1072L500.4 1072.5L501.9 1073L503.3 1073.6L504.8 1074.1L506.3 1074.6L507.8 1075.1L509.2 1075.6L510.7 1076.1L512.2 1076.5L513.7 1077L515.2 1077.5L516.7 1077.9L518.2 1078.4L519.7 1078.8L521.2 1079.3L522.7 1079.7L524.2 1080.1L525.8 1080.5L527.3 1081L528.8 1081.4L530.3 1081.8L531.8 1082.1L533.4 1082.5L534.9 1082.9L536.4 1083.3L537.9 1083.7L539.5 1084L541 1084.4L542.5 1084.7L544.1 1085.1L545.6 1085.4L547.2 1085.7L548.7 1086.1L550.3 1086.4L551.8 1086.7L553.4 1087L554.9 1087.3L556.5 1087.6L558 1087.9L559.6 1088.2L561.1 1088.5L562.7 1088.7L564.2 1089L565.8 1089.3L567.3 1089.5L568.9 1089.8L570.5 1090L572 1090.3L573.6 1090.5L575.2 1090.8L576.7 1091L578.3 1091.2L579.8 1091.4L581.4 1091.7L583 1091.9L584.5 1092.1L586.1 1092.3L587.7 1092.5L589.2 1092.7L590.8 1092.9L592.4 1093L593.9 1093.2L595.5 1093.4L597.1 1093.6L598.6 1093.7L600.2 1093.9L601.8 1094.1L603.3 1094.2L604.9 1094.4L606.5 1094.5L608.1 1094.6L609.6 1094.8L611.2 1094.9L612.8 1095.1L614.3 1095.2L615.9 1095.3L617.5 1095.4L619 1095.5L620.6 1095.6L622.2 1095.8L623.7 1095.9L625.3 1096L626.9 1096.1L628.5 1096.2L630 1096.2L631.6 1096.3L633.2 1096.4L634.7 1096.5L636.3 1096.6L637.9 1096.7L639.4 1096.7L641 1096.8L642.6 1096.9L644.1 1096.9L645.7 1097L647.3 1097L648.8 1097.1L650.4 1097.2L652 1097.2L653.5 1097.3L656.6 1097.3L658.2 1097.5L787 1097.5" stroke="#7ad151" stroke-width="3" fill="none" stroke-linejoin="round"/>
<path d="M305.6 751L307.1 757.5L307.4 759L307.7 760.4L308.1 761.8L308.4 763.3L308.8 764.7L309.2 766.2L309.6 767.6L309.9 769L310.3 770.5L310.7 771.9L311.1 773.3L311.5 774.8L311.9 776.2L312.3 777.7L312.7 779.1L313.1 780.5L313.4 782L313.8 783.4L314.2 784.9L314.6 786.3L315 787.8L315.4 789.2L315.7 790.7L316.1 792.1L316.5 793.6L316.9 795L317.3 796.4L317.8 797.9L318.2 799.3L318.6 800.8L319 802.2L319.4 803.7L319.9 805.1L320.3 806.6L320.7 808L321.2 809.4L321.6 810.9L322.1 812.3L322.5 813.8L323 815.2L323.4 816.6L323.9 818.1L324.4 819.5L324.8 820.9L325.3 822.4L325.8 823.8L326.3 825.2L326.8 826.7L327.3 828.1L327.8 829.5L328.3 831L328.8 832.4L329.3 833.8L329.8 835.2L330.3 836.7L330.8 838.1L331.3 839.5L331.9 840.9L332.4 842.4L332.9 843.8L333.5 845.2L334 846.6L334.5 848L335.1 849.4L335.6 850.9L336.1 852.3L336.7 853.7L337.2 855.1L337.7 856.5L338.3 858L338.8 859.4L339.3 860.8L339.9 862.2L340.4 863.6L341 865L341.6 866.4L342.1 867.9L342.7 869.3L343.3 870.7L343.8 872.1L344.4 873.5L345 874.9L345.6 876.3L346.2 877.7L346.8 879.1L347.4 880.5L348 881.8L348.6 883.2L349.2 884.6L349.9 886L350.5 887.4L351.1 888.8L351.8 890.2L352.4 891.5L353 892.9L353.7 894.3L354.3 895.6L355 897L355.7 898.4L356.3 899.7L357 901.1L357.7 902.5L358.4 903.8L359.1 905.2L359.7 906.5L360.4 907.9L361.1 909.2L361.8 910.6L362.6 911.9L363.3 913.2L364 914.6L364.7 915.9L365.4 917.2L366.2 918.6L366.9 919.9L367.7 921.2L368.4 922.5L369.2 923.8L370 925.1L370.7 926.4L371.5 927.7L372.3 929L373.1 930.3L373.9 931.6L374.7 932.9L375.5 934.2L376.3 935.4L377.1 936.7L378 938L378.8 939.3L379.6 940.5L380.4 941.8L381.3 943L382.1 944.3L383 945.5L383.8 946.8L384.7 948L385.6 949.3L386.4 950.5L387.3 951.7L388.2 953L389.1 954.2L390 955.4L390.9 956.6L391.8 957.9L392.7 959.1L393.6 960.3L394.5 961.5L395.4 962.7L396.3 963.9L397.3 965.1L398.2 966.2L399.1 967.4L400.1 968.6L401 969.8L402 970.9L403 972.1L403.9 973.3L404.9 974.4L405.9 975.6L406.9 976.7L407.9 977.8L408.9 979L409.9 980.1L410.9 981.2L411.9 982.3L412.9 983.5L413.9 984.6L414.9 985.7L416 986.8L417 987.8L418.1 988.9L419.1 990L420.2 991.1L421.2 992.1L422.3 993.2L423.4 994.2L424.5 995.3L425.6 996.3L426.7 997.3L427.8 998.4L428.9 999.4L430 1000.4L431.1 1001.4L432.2 1002.4L433.3 1003.4L434.5 1004.3L435.6 1005.3L436.8 1006.3L437.9 1007.2L439.1 1008.2L440.3 1009.1L441.4 1010.1L442.6 1011L443.8 1011.9L445 1012.8L446.2 1013.7L447.4 1014.6L448.6 1015.5L449.8 1016.3L451.1 1017.2L452.3 1018.1L453.5 1018.9L454.8 1019.8L456 1020.6L457.3 1021.4L458.5 1022.2L459.8 1023L461.1 1023.8L462.4 1024.6L463.6 1025.4L464.9 1026.2L466.2 1027L467.5 1027.7L468.8 1028.5L470.1 1029.2L471.5 1030L472.8 1030.7L474.1 1031.4L475.4 1032.1L476.8 1032.8L478.1 1033.5L479.4 1034.2L480.8 1034.9L482.1 1035.6L483.5 1036.2L484.8 1036.9L486.2 1037.6L487.6 1038.2L488.9 1038.8L490.3 1039.5L491.7 1040.1L493.1 1040.7L494.4 1041.3L495.8 1041.9L497.2 1042.5L498.6 1043.1L500 1043.7L501.4 1044.3L502.8 1044.8L504.2 1045.4L505.6 1045.9L507 1046.5L508.4 1047L509.8 1047.5L511.2 1048.1L512.6 1048.6L514.1 1049.1L515.5 1049.6L516.9 1050.1L518.3 1050.6L519.8 1051.1L521.2 1051.6L522.6 1052L524 1052.5L525.5 1053L526.9 1053.4L528.4 1053.9L529.8 1054.3L531.2 1054.7L532.7 1055.2L534.1 1055.6L535.6 1056L537 1056.4L538.5 1056.8L539.9 1057.2L541.4 1057.6L542.9 1058L544.3 1058.4L545.8 1058.7L547.3 1059.1L548.7 1059.5L550.2 1059.8L551.7 1060.2L553.1 1060.5L554.6 1060.9L556.1 1061.2L557.6 1061.5L559 1061.9L560.5 1062.2L562 1062.5L563.5 1062.8L565 1063.1L566.4 1063.4L567.9 1063.7L569.4 1064L570.9 1064.2L572.4 1064.5L573.9 1064.8L575.4 1065.1L576.9 1065.3L578.4 1065.6L579.9 1065.8L581.4 1066.1L582.9 1066.3L584.4 1066.5L585.9 1066.8L587.4 1067L588.9 1067.2L590.4 1067.4L591.9 1067.6L593.4 1067.9L594.9 1068.1L596.4 1068.3L597.9 1068.5L599.4 1068.6L600.9 1068.8L602.5 1069L604 1069.2L605.5 1069.4L607 1069.5L608.5 1069.7L610 1069.9L611.5 1070L613.1 1070.2L614.6 1070.3L616.1 1070.5L617.6 1070.6L619.1 1070.7L620.6 1070.9L622.2 1071L623.7 1071.1L625.2 1071.2L626.7 1071.4L628.2 1071.5L629.8 1071.6L631.3 1071.7L632.8 1071.8L634.3 1071.9L635.8 1072L637.4 1072.1L638.9 1072.2L640.4 1072.3L641.9 1072.3L643.5 1072.4L645 1072.5L646.5 1072.6L648 1072.7L649.5 1072.7L651.1 1072.8L652.6 1072.8L654.1 1072.9L655.6 1073L657.2 1073.1L787 1073.1" stroke="#bddf26" stroke-width="3" fill="none" stroke-linejoin="round"/>
<path d="M331.1 751L332.5 756.9L332.8 758.3L333.2 759.7L333.6 761L334 762.4L334.4 763.7L334.8 765.1L335.2 766.4L335.7 767.8L336.1 769.1L336.6 770.4L337 771.7L337.5 773.1L338 774.4L338.4 775.7L338.9 777L339.3 778.3L339.8 779.7L340.2 781L340.7 782.3L341.1 783.6L341.5 784.9L342 786.2L342.4 787.6L342.8 788.9L343.3 790.2L343.7 791.5L344.2 792.8L344.6 794.1L345.1 795.4L345.6 796.7L346 798L346.5 799.3L347 800.5L347.5 801.8L348 803.1L348.5 804.4L349 805.6L349.5 806.9L350.1 808.2L350.6 809.4L351.1 810.7L351.6 812L352.2 813.2L352.7 814.5L353.3 815.7L353.8 816.9L354.4 818.2L355 819.4L355.6 820.7L356.1 821.9L356.7 823.1L357.3 824.3L357.9 825.6L358.5 826.8L359.1 828L359.7 829.2L360.3 830.4L361 831.6L361.6 832.8L362.2 834L362.9 835.2L363.5 836.3L364.2 837.5L364.8 838.7L365.5 839.9L366.1 841.1L366.8 842.2L367.5 843.4L368.2 844.5L368.8 845.7L369.5 846.9L370.2 848L370.8 849.2L371.5 850.4L372.1 851.6L372.7 852.7L373.4 853.9L374 855.1L374.7 856.3L375.3 857.5L376 858.6L376.6 859.8L377.3 861L378 862.1L378.6 863.3L379.3 864.4L380 865.6L380.7 866.7L381.4 867.9L382.1 869L382.8 870.1L383.6 871.3L384.3 872.4L385 873.5L385.8 874.7L386.5 875.8L387.3 876.9L388 878L388.8 879.1L389.6 880.2L390.3 881.3L391.1 882.4L391.9 883.5L392.7 884.6L393.5 885.7L394.3 886.7L395.1 887.8L396 888.9L396.8 890L397.6 891L398.5 892.1L399.3 893.1L400.2 894.2L401 895.2L401.9 896.3L402.8 897.3L403.6 898.4L404.5 899.4L405.4 900.4L406.3 901.4L407.2 902.4L408.1 903.5L409.1 904.5L410 905.5L410.9 906.5L411.8 907.5L412.8 908.5L413.7 909.5L414.7 910.5L415.6 911.4L416.6 912.4L417.6 913.4L418.5 914.4L419.5 915.3L420.5 916.3L421.5 917.3L422.5 918.2L423.5 919.2L424.5 920.1L425.5 921L426.6 922L427.6 922.9L428.6 923.8L429.7 924.7L430.8 925.6L431.8 926.4L432.9 927.3L434 928.2L435 929.1L436.1 930L437.2 930.8L438.3 931.7L439.4 932.6L440.4 933.5L441.5 934.3L442.6 935.2L443.7 936L444.8 936.9L445.9 937.8L447 938.6L448.1 939.5L449.2 940.3L450.3 941.1L451.4 942L452.5 942.8L453.7 943.6L454.8 944.5L455.9 945.3L457 946.1L458.2 946.9L459.3 947.7L460.4 948.5L461.5 949.3L462.7 950.1L463.8 950.9L465 951.7L466.1 952.5L467.3 953.3L468.4 954.1L469.6 954.8L470.7 955.6L471.9 956.4L473 957.1L474.2 957.9L475.4 958.6L476.5 959.4L477.7 960.1L478.9 960.8L480 961.6L481.2 962.3L482.4 963L483.6 963.7L484.8 964.4L486 965.1L487.1 965.8L488.3 966.5L489.5 967.1L490.7 967.8L491.9 968.5L493.1 969.1L494.3 969.8L495.6 970.4L496.8 971.1L498 971.7L499.2 972.3L500.4 972.9L501.6 973.5L502.9 974.2L504.1 974.7L505.3 975.3L506.6 975.9L507.8 976.5L509 977.1L510.3 977.6L511.5 978.2L512.8 978.7L514 979.3L515.3 979.8L516.5 980.3L517.8 980.9L519.1 981.4L520.3 981.9L521.6 982.4L522.8 982.9L524.1 983.4L525.4 983.9L526.7 984.3L527.9 984.8L529.2 985.3L530.5 985.7L531.8 986.2L533.1 986.6L534.4 987.1L535.6 987.5L536.9 987.9L538.2 988.4L539.5 988.8L540.8 989.2L542.1 989.6L543.4 990L544.7 990.4L546 990.8L547.3 991.2L548.6 991.5L550 991.9L551.3 992.3L552.6 992.6L553.9 993L555.2 993.3L556.5 993.7L557.9 994L559.2 994.4L560.5 994.7L561.8 995L563.2 995.3L564.5 995.6L565.8 996L567.2 996.3L568.5 996.6L569.8 996.8L571.2 997.1L572.5 997.4L573.9 997.7L575.2 998L576.6 998.2L577.9 998.5L579.3 998.8L580.6 999L582 999.3L583.3 999.5L584.7 999.8L586 1000L587.4 1000.2L588.7 1000.5L590.1 1000.7L591.4 1000.9L592.8 1001.1L594.2 1001.3L595.5 1001.5L596.9 1001.7L598.3 1001.9L599.6 1002.1L601 1002.3L602.4 1002.5L603.7 1002.7L605.1 1002.9L606.5 1003L607.8 1003.2L609.2 1003.4L610.6 1003.5L612 1003.7L613.3 1003.9L614.7 1004L616.1 1004.2L617.5 1004.3L618.8 1004.5L620.2 1004.6L621.6 1004.7L623 1004.9L624.4 1005L625.7 1005.2L627.1 1005.3L628.5 1005.4L629.9 1005.6L631.3 1005.7L632.6 1005.8L634 1005.9L635.4 1006L636.8 1006.2L638.2 1006.3L639.6 1006.4L641 1006.5L642.3 1006.6L643.7 1006.7L645.1 1006.8L646.5 1006.9L647.9 1007L649.3 1007.1L650.7 1007.2L652.1 1007.2L653.4 1007.3L654.8 1007.4L656.2 1007.5L657.6 1007.6L659 1007.6L660.4 1007.7L661.8 1007.8L663.2 1007.8L664.6 1007.9L665.9 1008L667.3 1008L668.7 1008.1L670.1 1008.1L671.5 1008.2L672.9 1008.2L674.3 1008.3L675.7 1008.3L677.1 1008.4L678.4 1008.4L679.8 1008.5L682.6 1008.5L684 1008.6L686.8 1008.6L688.2 1008.7L690.9 1008.7L692.3 1008.8L695.1 1008.8L696.5 1008.9L697.8 1008.9L699.2 1009L787 1009" stroke="#fde725" stroke-width="3" fill="none" stroke-linejoin="round"/>
</g>
<path d="M296.00 1345.00 v7 M458.00 1345.00 v7 M621.00 1345.00 v7 M190.00 1345.00 h-7 M190.00 1275.00 h-7 M190.00 1204.00 h-7 M190.00 1133.00 h-7 M190.00 1063.00 h-7 M190.00 992.00 h-7 M190.00 921.00 h-7 M190.00 851.00 h-7 M190.00 780.00 h-7" stroke="#000" stroke-width="1.6" fill="none"/>
<rect x="190.00" y="757.00" width="592.00" height="588.00" fill="none" stroke="#000" stroke-width="1.6"/>
<clipPath id="c4"><rect x="901.00" y="757.00" width="591.00" height="588.00"/></clipPath>
<g clip-path="url(#c4)">
<path d="M1367.0 754.1 L1354.7 766.5 L1334.1 781.9 L1313.5 797.3 L1292.9 812.8 L1272.3 829.3 L1251.8 844.7 L1231.2 861.2 L1210.6 877.6 L1190.0 893.1 L1178.2 904.4 L1157.6 922.9 L1137.0 943.5 L1116.4 964.1 L1095.8 984.7 L1075.3 1011.4 L1054.7 1038.2 L1034.1 1060.0 L1038.2 1052.4 L1025.9 1068.8 L1013.5 1087.3 L1003.2 1103.8 L992.9 1122.3 L984.7 1142.9 L976.5 1163.5 L970.3 1184.1 L964.1 1204.7 L959.0 1225.3 L953.8 1245.8 L949.7 1266.4 L945.6 1287.0 L941.5 1307.6 L938.4 1328.2 L936.3 1344.2 L936.3 1348.8 L980.6 1348.8 L980.6 1344.2 L992.9 1317.9 L1005.3 1297.3 L1017.6 1276.7 L1032.0 1256.1 L1046.4 1235.6 L1060.9 1217.0 L1071.1 1204.7 L1085.6 1186.2 L1100.0 1169.7 L1116.4 1151.2 L1126.7 1138.8 L1137.0 1126.5 L1153.5 1107.9 L1167.9 1091.5 L1182.3 1076.0 L1200.0 1058.5 L1210.6 1047.9 L1231.2 1025.8 L1251.8 1004.2 L1272.3 984.7 L1292.9 966.1 L1313.5 947.6 L1334.1 929.1 L1354.7 910.6 L1375.3 892.0 L1395.8 874.5 L1416.4 856.0 L1437.0 838.5 L1457.6 822.0 L1478.2 805.6 L1491.6 794.3 L1498.8 789.1 L1498.8 754.1 Z" fill="#d3d3d3" stroke="none" shape-rendering="crispEdges"/>
<path d="M975.00 757.00 V1345.00 M1123.00 757.00 V1345.00 M1272.00 757.00 V1345.00 M1420.00 757.00 V1345.00 M901.00 1345.00 H1492.00 M901.00 1227.00 H1492.00 M901.00 1109.00 H1492.00 M901.00 991.00 H1492.00 M901.00 873.00 H1492.00" stroke="#b0b0b0" stroke-width="1.6" fill="none"/>
<path d="M938.3 751L938.4 757.2L938.4 761.9L938.5 763.4L938.5 775.8L938.6 777.4L938.6 1063.2L938.7 1064.7L938.7 1072.5L938.8 1074L938.8 1078.7L938.9 1080.2L938.9 1084.9L939 1086.5L939 1091.1L939.1 1092.7L939.1 1095.8L939.2 1097.3L939.2 1102L939.3 1103.5L939.3 1106.6L939.4 1108.2L939.4 1109.8L939.5 1111.3L939.5 1114.4L939.6 1116L939.6 1117.5L939.7 1119.1L939.7 1122.2L939.8 1123.7L939.8 1125.3L939.9 1126.8L939.9 1128.4L940 1129.9L940 1133L940.1 1134.6L940.1 1136.2L940.2 1137.7L940.2 1139.3L940.3 1140.8L940.3 1142.4L940.4 1143.9L940.5 1145.5L940.5 1147L940.6 1148.6L940.6 1150.1L940.7 1151.7L940.7 1153.2L940.8 1154.8L940.9 1156.3L940.9 1157.9L941 1159.4L941 1161L941.1 1162.5L941.2 1164.1L941.2 1165.6L941.3 1167.2L941.4 1168.7L941.4 1170.3L941.5 1171.9L941.6 1173.4L941.7 1175L941.7 1176.5L941.8 1178.1L941.9 1179.6L942 1181.2L942 1182.7L942.1 1184.3L942.2 1185.8L942.3 1187.4L942.4 1188.9L942.5 1190.5L942.5 1192L942.6 1193.6L942.7 1195.1L942.8 1196.6L942.9 1198.2L943 1199.7L943.1 1201.3L943.2 1202.8L943.3 1204.4L943.4 1205.9L943.5 1207.5L943.6 1209L943.7 1210.6L943.8 1212.1L943.9 1213.7L944 1215.2L944.1 1216.7L944.2 1218.3L944.3 1219.8L944.5 1221.4L944.6 1222.9L944.7 1224.5L944.8 1226L944.9 1227.5L945 1229.1L945.2 1230.6L945.3 1232.2L945.4 1233.7L945.6 1235.2L945.7 1236.8L945.8 1238.3L946 1239.9L946.2 1241.4L946.3 1242.9L946.5 1244.5L946.7 1246L946.9 1247.5L947.1 1249.1L947.3 1250.6L947.5 1252.2L947.7 1253.7L947.9 1255.2L948.2 1256.8L948.4 1258.3L948.7 1259.8L949 1261.4L949.3 1262.9L949.6 1264.4L949.9 1266L950.2 1267.5L950.6 1269L950.9 1270.6L951.3 1272.1L951.7 1273.6L952.1 1275.2L952.5 1276.7L952.9 1278.2L953.4 1279.8L953.8 1281.3L954.3 1282.8L954.8 1284.4L955.3 1285.9L955.9 1287.4L956.5 1288.9L957.1 1290.3L957.7 1291.8L958.3 1293.2L959 1294.7L959.7 1296.1L960.4 1297.4L961.2 1298.8L961.9 1300.1L962.8 1301.4L963.6 1302.6L964.5 1303.8L965.4 1305L966.4 1306.1L967.4 1307.2L968.4 1308.3L969.5 1309.3L970.6 1310.2L971.8 1311.1L973 1311.9L974.2 1312.7L975.5 1313.5L976.8 1314.2L978.1 1314.9L979.4 1315.5L980.8 1316.1L982.3 1316.6L983.7 1317.1L985.2 1317.5L986.7 1317.9L988.2 1318.2L989.7 1318.5L991.2 1318.9L1497 1318.9" stroke="#440154" stroke-width="3" fill="none" stroke-linejoin="round"/>
<path d="M985.1 751L985.1 831L985.2 832.4L985.2 840.3L985.3 841.6L985.3 846.8L985.4 848.1L985.4 853.4L985.5 854.7L985.5 858.7L985.6 860L985.6 865.2L985.7 866.6L985.7 870.5L985.8 871.8L985.8 932.3L985.9 933.6L985.9 949.4L986 950.8L986 962.6L986.1 963.9L986.1 974.5L986.2 975.8L986.2 985L986.3 986.3L986.3 990.3L986.4 991.6L986.4 992.9L986.5 994.2L986.5 995.5L986.6 996.8L986.7 998.2L986.7 999.5L986.8 1000.8L986.9 1002.1L986.9 1003.4L987 1004.8L987.1 1006.1L987.1 1007.4L987.2 1008.7L987.3 1010L987.3 1011.3L987.4 1012.7L987.5 1014L987.5 1015.3L987.6 1016.6L987.7 1017.9L987.7 1019.2L987.8 1020.6L987.9 1021.9L987.9 1023.2L988 1024.5L988.1 1025.8L988.1 1027.2L988.2 1028.5L988.3 1029.8L988.4 1031.1L988.4 1032.4L988.5 1033.7L988.6 1035.1L988.6 1036.4L988.7 1037.7L988.8 1039L988.9 1040.3L988.9 1041.7L989 1043L989.1 1044.3L989.2 1045.6L989.3 1046.9L989.4 1048.2L989.4 1049.6L989.5 1050.9L989.6 1052.2L989.7 1053.5L989.8 1054.8L989.9 1056.1L990 1057.4L990.1 1058.8L990.2 1060.1L990.3 1061.4L990.4 1062.7L990.5 1064L990.6 1065.3L990.7 1066.6L990.9 1068L991 1069.3L991.1 1070.6L991.2 1071.9L991.4 1073.2L991.5 1074.5L991.6 1075.8L991.8 1077.1L991.9 1078.4L992 1079.7L992.2 1081L992.3 1082.3L992.5 1083.7L992.6 1085L992.8 1086.3L993 1087.6L993.1 1088.9L993.3 1090.2L993.5 1091.5L993.6 1092.8L993.8 1094.1L994 1095.4L994.2 1096.7L994.4 1098L994.6 1099.3L994.8 1100.6L995 1101.8L995.2 1103.1L995.4 1104.4L995.6 1105.7L995.8 1107L996 1108.3L996.2 1109.6L996.5 1110.9L996.7 1112.2L996.9 1113.5L997.1 1114.8L997.3 1116.1L997.5 1117.4L997.7 1118.7L998 1119.9L998.2 1121.2L998.4 1122.5L998.7 1123.8L998.9 1125.1L999.2 1126.4L999.4 1127.7L999.7 1129L1000 1130.2L1000.3 1131.5L1000.5 1132.8L1000.8 1134.1L1001.1 1135.4L1001.4 1136.7L1001.7 1137.9L1002.1 1139.2L1002.4 1140.5L1002.7 1141.8L1003 1143.1L1003.4 1144.3L1003.7 1145.6L1004.1 1146.9L1004.4 1148.2L1004.8 1149.4L1005.2 1150.7L1005.6 1152L1005.9 1153.2L1006.3 1154.5L1006.7 1155.8L1007.2 1157L1007.6 1158.3L1008 1159.6L1008.5 1160.8L1008.9 1162.1L1009.4 1163.3L1009.8 1164.5L1010.3 1165.7L1010.8 1167L1011.3 1168.2L1011.9 1169.4L1012.4 1170.5L1013 1171.7L1013.5 1172.9L1014.1 1174L1014.7 1175.1L1015.4 1176.3L1016 1177.4L1016.7 1178.5L1017.4 1179.5L1018.1 1180.6L1018.8 1181.6L1019.5 1182.6L1020.3 1183.6L1021.1 1184.6L1021.9 1185.6L1022.7 1186.5L1023.6 1187.4L1024.5 1188.3L1025.4 1189.2L1026.4 1190.1L1027.3 1190.9L1028.3 1191.7L1029.3 1192.5L1030.3 1193.2L1031.4 1194L1032.5 1194.7L1033.6 1195.4L1034.7 1196L1035.8 1196.7L1036.9 1197.3L1038.1 1197.9L1039.3 1198.5L1040.5 1199.1L1041.7 1199.6L1042.9 1200.1L1044.1 1200.6L1045.4 1201L1046.6 1201.5L1047.9 1201.9L1049.2 1202.3L1050.4 1202.7L1051.7 1203L1053 1203.4L1054.3 1203.7L1055.6 1203.9L1056.9 1204.2L1058.3 1204.4L1059.6 1204.7L1060.9 1204.9L1062.2 1205L1063.6 1205.2L1064.9 1205.3L1066.2 1205.5L1067.6 1205.6L1068.9 1205.7L1497 1205.7" stroke="#482878" stroke-width="3" fill="none" stroke-linejoin="round"/>
<path d="M1032.4 751L1032.4 766.7L1032.5 767.9L1032.5 788L1032.6 789.2L1032.6 809.3L1032.7 810.5L1032.7 825.8L1032.8 827L1032.8 838.7L1032.9 839.9L1032.9 848.1L1033 849.3L1033 856.3L1033.1 857.5L1033.1 863.3L1033.2 864.5L1033.2 870.3L1033.3 871.5L1033.3 883.2L1033.4 884.4L1033.4 894.9L1033.5 896.1L1033.5 901.9L1033.6 903.1L1033.6 908.9L1033.7 910.1L1033.7 913.6L1033.8 914.8L1033.8 919.4L1033.9 920.6L1033.9 923L1034 924.1L1034 927.6L1034.1 928.8L1034.1 931.1L1034.2 932.3L1034.2 934.7L1034.3 935.8L1034.3 937L1034.4 938.2L1034.4 940.5L1034.5 941.7L1034.5 944L1034.6 945.2L1034.6 946.4L1034.7 947.6L1034.7 948.7L1034.8 949.9L1034.8 951.1L1034.9 952.2L1034.9 953.4L1035 954.6L1035 955.8L1035.1 956.9L1035.1 958.1L1035.2 959.3L1035.2 960.5L1035.3 961.6L1035.3 962.8L1035.4 964L1035.4 965.2L1035.5 966.3L1035.5 967.5L1035.6 968.7L1035.7 969.9L1035.7 971L1035.8 972.2L1035.8 973.4L1035.9 974.6L1036 975.7L1036 976.9L1036.1 978.1L1036.2 979.3L1036.2 980.5L1036.3 981.6L1036.4 982.8L1036.5 984L1036.5 985.2L1036.6 986.3L1036.7 987.5L1036.8 988.7L1036.8 989.9L1036.9 991.1L1037 992.2L1037.1 993.4L1037.2 994.6L1037.3 995.8L1037.4 997L1037.5 998.1L1037.6 999.3L1037.7 1000.5L1037.8 1001.7L1037.9 1002.9L1038 1004.1L1038.1 1005.2L1038.2 1006.4L1038.3 1007.6L1038.5 1008.8L1038.6 1010L1038.7 1011.2L1038.8 1012.3L1038.9 1013.5L1039 1014.7L1039.2 1015.9L1039.3 1017.1L1039.4 1018.3L1039.5 1019.4L1039.6 1020.6L1039.8 1021.8L1039.9 1023L1040 1024.2L1040.2 1025.4L1040.3 1026.6L1040.4 1027.8L1040.6 1028.9L1040.7 1030.1L1040.8 1031.3L1041 1032.5L1041.1 1033.7L1041.3 1034.9L1041.5 1036L1041.6 1037.2L1041.8 1038.4L1042 1039.6L1042.1 1040.8L1042.3 1041.9L1042.5 1043.1L1042.7 1044.3L1042.9 1045.5L1043.1 1046.6L1043.3 1047.8L1043.5 1049L1043.7 1050.1L1043.9 1051.3L1044.2 1052.4L1044.4 1053.6L1044.6 1054.8L1044.9 1055.9L1045.1 1057.1L1045.4 1058.2L1045.7 1059.4L1045.9 1060.5L1046.2 1061.6L1046.5 1062.8L1046.8 1063.9L1047.1 1065L1047.5 1066.2L1047.8 1067.3L1048.1 1068.4L1048.5 1069.5L1048.8 1070.6L1049.2 1071.7L1049.5 1072.9L1049.9 1074L1050.3 1075.1L1050.7 1076.1L1051.1 1077.2L1051.5 1078.3L1052 1079.4L1052.4 1080.5L1052.9 1081.6L1053.3 1082.6L1053.8 1083.7L1054.3 1084.7L1054.8 1085.8L1055.3 1086.8L1055.8 1087.9L1056.3 1088.9L1056.9 1090L1057.4 1091L1058 1092L1058.6 1093L1059.2 1094L1059.8 1095L1060.4 1096L1061 1097L1061.7 1098L1062.3 1099L1063 1100L1063.7 1100.9L1064.4 1101.9L1065.1 1102.8L1065.8 1103.8L1066.5 1104.7L1067.2 1105.6L1068 1106.5L1068.7 1107.4L1069.5 1108.3L1070.3 1109.2L1071.1 1110.1L1071.9 1110.9L1072.7 1111.8L1073.5 1112.6L1074.3 1113.5L1075.2 1114.3L1076 1115.1L1076.9 1115.9L1077.8 1116.7L1078.7 1117.4L1079.5 1118.2L1080.5 1118.9L1081.4 1119.7L1082.3 1120.4L1083.2 1121.1L1084.2 1121.8L1085.1 1122.5L1086.1 1123.1L1087.1 1123.8L1088 1124.4L1089 1125L1090 1125.6L1091 1126.2L1092.1 1126.8L1093.1 1127.3L1094.1 1127.8L1095.2 1128.4L1096.2 1128.9L1097.3 1129.4L1098.4 1129.8L1099.4 1130.3L1100.5 1130.7L1101.6 1131.1L1102.7 1131.5L1103.8 1131.9L1104.9 1132.3L1106.1 1132.7L1107.2 1133L1108.3 1133.4L1109.5 1133.7L1110.6 1134L1111.7 1134.3L1112.9 1134.6L1114 1134.8L1115.2 1135.1L1116.4 1135.3L1117.5 1135.5L1118.7 1135.8L1119.9 1136L1121.1 1136.1L1122.2 1136.3L1123.4 1136.5L1124.6 1136.6L1125.8 1136.8L1127 1136.9L1128.2 1137L1129.4 1137.2L1130.6 1137.3L1131.8 1137.3L1133 1137.4L1134.1 1137.6L1497 1137.6" stroke="#3e4989" stroke-width="3" fill="none" stroke-linejoin="round"/>
<path d="M1079.1 751L1079.4 757.2L1079.4 758.2L1079.5 759.3L1079.5 760.3L1079.6 761.4L1079.6 762.4L1079.7 763.4L1079.7 764.5L1079.8 765.5L1079.8 766.6L1079.9 767.6L1079.9 769.7L1080 770.7L1080 771.8L1080.1 772.8L1080.1 774.9L1080.2 776L1080.2 778.1L1080.3 779.1L1080.3 781.2L1080.4 782.2L1080.4 784.3L1080.5 785.4L1080.5 789.5L1080.6 790.6L1080.6 793.7L1080.7 794.7L1080.7 800L1080.8 801L1080.8 809.4L1080.9 810.4L1080.9 822.9L1081 824L1081 844.8L1081.1 845.9L1081.1 860.5L1081.2 861.5L1081.2 868.8L1081.3 869.9L1081.3 879.2L1081.4 880.3L1081.4 887.6L1081.5 888.6L1081.5 892.8L1081.6 893.8L1081.6 896.9L1081.7 898L1081.7 901.1L1081.8 902.1L1081.8 904.2L1081.9 905.2L1081.9 907.3L1082 908.4L1082 909.4L1082.1 910.4L1082.1 912.5L1082.2 913.6L1082.2 914.6L1082.3 915.6L1082.3 916.7L1082.4 917.7L1082.4 918.7L1082.5 919.8L1082.5 920.8L1082.6 921.9L1082.7 922.9L1082.7 923.9L1082.8 925L1082.8 926L1082.9 927.1L1083 928.1L1083 929.1L1083.1 930.2L1083.2 931.2L1083.3 932.2L1083.3 933.3L1083.4 934.3L1083.5 935.3L1083.6 936.4L1083.6 937.4L1083.7 938.5L1083.8 939.5L1083.9 940.5L1084 941.6L1084.1 942.6L1084.2 943.6L1084.3 944.7L1084.4 945.7L1084.5 946.8L1084.6 947.8L1084.7 948.8L1084.8 949.9L1084.9 950.9L1085 951.9L1085.1 953L1085.2 954L1085.3 955L1085.4 956.1L1085.6 957.1L1085.7 958.1L1085.8 959.2L1085.9 960.2L1086.1 961.2L1086.2 962.3L1086.3 963.3L1086.5 964.3L1086.6 965.4L1086.7 966.4L1086.9 967.5L1087 968.5L1087.2 969.5L1087.3 970.6L1087.5 971.6L1087.6 972.6L1087.8 973.7L1087.9 974.7L1088.1 975.7L1088.3 976.8L1088.4 977.8L1088.6 978.8L1088.8 979.9L1088.9 980.9L1089.1 981.9L1089.3 982.9L1089.5 984L1089.7 985L1089.9 986L1090.1 987.1L1090.2 988.1L1090.4 989.1L1090.6 990.2L1090.8 991.2L1091 992.2L1091.2 993.3L1091.5 994.3L1091.7 995.3L1091.9 996.4L1092.1 997.4L1092.3 998.4L1092.5 999.4L1092.8 1000.5L1093 1001.5L1093.3 1002.5L1093.5 1003.5L1093.7 1004.6L1094 1005.6L1094.3 1006.6L1094.5 1007.6L1094.8 1008.6L1095.1 1009.6L1095.3 1010.7L1095.6 1011.7L1095.9 1012.7L1096.2 1013.7L1096.5 1014.7L1096.8 1015.7L1097.1 1016.6L1097.5 1017.6L1097.8 1018.6L1098.1 1019.6L1098.5 1020.6L1098.8 1021.6L1099.2 1022.5L1099.6 1023.5L1099.9 1024.4L1100.3 1025.4L1100.7 1026.4L1101.1 1027.3L1101.5 1028.3L1102 1029.2L1102.4 1030.1L1102.8 1031.1L1103.3 1032L1103.7 1032.9L1104.2 1033.8L1104.7 1034.7L1105.2 1035.6L1105.7 1036.5L1106.2 1037.4L1106.7 1038.3L1107.2 1039.2L1107.8 1040L1108.3 1040.9L1108.9 1041.7L1109.5 1042.6L1110 1043.4L1110.6 1044.3L1111.2 1045.1L1111.8 1045.9L1112.5 1046.7L1113.1 1047.5L1113.7 1048.3L1114.4 1049.1L1115 1049.9L1115.7 1050.6L1116.4 1051.4L1117.1 1052.2L1117.8 1052.9L1118.5 1053.6L1119.2 1054.3L1119.9 1055.1L1120.7 1055.8L1121.4 1056.5L1122.2 1057.1L1122.9 1057.8L1123.7 1058.5L1124.5 1059.1L1125.3 1059.8L1126.1 1060.4L1126.9 1061.1L1127.7 1061.7L1128.5 1062.3L1129.3 1062.9L1130.2 1063.5L1131 1064.1L1131.9 1064.7L1132.7 1065.2L1133.6 1065.8L1134.5 1066.3L1135.3 1066.9L1136.2 1067.4L1137.1 1067.9L1138 1068.4L1138.9 1068.9L1139.8 1069.4L1140.7 1069.9L1141.7 1070.4L1142.6 1070.9L1143.5 1071.3L1144.5 1071.8L1145.4 1072.2L1146.3 1072.6L1147.3 1073L1148.3 1073.4L1149.2 1073.8L1150.2 1074.2L1151.2 1074.6L1152.1 1075L1153.1 1075.3L1154.1 1075.7L1155.1 1076L1156.1 1076.4L1157.1 1076.7L1158.1 1077L1159.1 1077.3L1160.1 1077.6L1161.1 1077.9L1162.1 1078.2L1163.1 1078.4L1164.1 1078.7L1165.2 1078.9L1166.2 1079.2L1167.2 1079.4L1168.2 1079.6L1169.3 1079.8L1170.3 1080L1171.3 1080.2L1172.4 1080.4L1173.4 1080.6L1174.4 1080.7L1175.5 1080.9L1176.5 1081L1177.6 1081.2L1178.6 1081.3L1179.7 1081.4L1180.7 1081.5L1181.7 1081.6L1182.8 1081.8L1497 1081.8" stroke="#31688e" stroke-width="3" fill="none" stroke-linejoin="round"/>
<path d="M1126.8 751L1127.1 757.1L1127.1 759L1127.2 759.9L1127.2 761.8L1127.3 762.7L1127.3 764.6L1127.4 765.5L1127.4 767.3L1127.5 768.3L1127.5 771L1127.6 771.9L1127.6 774.7L1127.7 775.6L1127.7 778.4L1127.8 779.3L1127.8 783L1127.9 783.9L1127.9 787.6L1128 788.5L1128 793.1L1128.1 794L1128.1 799.5L1128.2 800.4L1128.2 806.8L1128.3 807.7L1128.3 813.2L1128.4 814.1L1128.4 820.5L1128.5 821.4L1128.5 825.9L1128.6 826.8L1128.6 831.4L1128.7 832.3L1128.7 835.9L1128.8 836.8L1128.8 840.5L1128.9 841.4L1128.9 844.1L1129 845L1129 847.7L1129.1 848.6L1129.1 851.3L1129.2 852.2L1129.2 854.1L1129.3 855L1129.3 856.8L1129.4 857.7L1129.4 859.5L1129.5 860.4L1129.5 861.3L1129.6 862.2L1129.6 864L1129.7 864.9L1129.7 865.8L1129.8 866.7L1129.8 867.6L1129.9 868.6L1129.9 869.5L1130 870.4L1130 872.2L1130.1 873.1L1130.1 874L1130.2 874.9L1130.2 875.8L1130.3 876.7L1130.3 877.6L1130.4 878.5L1130.4 879.4L1130.5 880.3L1130.5 881.2L1130.6 882.2L1130.6 883.1L1130.7 884L1130.7 884.9L1130.8 885.8L1130.8 886.7L1130.9 887.6L1131 888.5L1131 889.4L1131.1 890.3L1131.2 891.2L1131.2 892.1L1131.3 893L1131.4 894L1131.4 894.9L1131.5 895.8L1131.6 896.7L1131.6 897.6L1131.7 898.5L1131.8 899.4L1131.9 900.3L1132 901.2L1132 902.1L1132.1 903L1132.2 904L1132.3 904.9L1132.4 905.8L1132.5 906.7L1132.6 907.6L1132.7 908.5L1132.8 909.4L1132.9 910.3L1133 911.2L1133.1 912.2L1133.2 913.1L1133.3 914L1133.4 914.9L1133.5 915.8L1133.6 916.7L1133.7 917.6L1133.8 918.5L1133.9 919.5L1134.1 920.4L1134.2 921.3L1134.3 922.2L1134.4 923.1L1134.5 924L1134.7 924.9L1134.8 925.9L1134.9 926.8L1135.1 927.7L1135.2 928.6L1135.3 929.5L1135.5 930.4L1135.6 931.4L1135.8 932.3L1135.9 933.2L1136 934.1L1136.2 935L1136.3 935.9L1136.5 936.9L1136.7 937.8L1136.8 938.7L1137 939.6L1137.1 940.5L1137.3 941.4L1137.5 942.4L1137.6 943.3L1137.8 944.2L1138 945.1L1138.2 946L1138.4 946.9L1138.5 947.9L1138.7 948.8L1138.9 949.7L1139.1 950.6L1139.3 951.5L1139.5 952.4L1139.7 953.3L1139.9 954.2L1140.2 955.1L1140.4 956L1140.6 956.9L1140.8 957.8L1141.1 958.7L1141.3 959.6L1141.5 960.5L1141.8 961.4L1142 962.3L1142.3 963.2L1142.5 964.1L1142.8 965L1143.1 965.8L1143.3 966.7L1143.6 967.6L1143.9 968.5L1144.2 969.3L1144.5 970.2L1144.8 971.1L1145.1 971.9L1145.4 972.8L1145.7 973.7L1146 974.5L1146.3 975.4L1146.6 976.2L1147 977L1147.3 977.9L1147.7 978.7L1148 979.5L1148.4 980.4L1148.8 981.2L1149.1 982L1149.5 982.8L1149.9 983.6L1150.3 984.5L1150.7 985.3L1151.1 986.1L1151.5 986.8L1151.9 987.6L1152.3 988.4L1152.8 989.2L1153.2 990L1153.7 990.7L1154.1 991.5L1154.6 992.3L1155 993L1155.5 993.8L1156 994.5L1156.5 995.2L1157 996L1157.5 996.7L1158 997.4L1158.6 998.1L1159.1 998.8L1159.6 999.5L1160.2 1000.2L1160.8 1000.9L1161.3 1001.6L1161.9 1002.3L1162.5 1003L1163.1 1003.6L1163.7 1004.3L1164.3 1004.9L1164.9 1005.6L1165.5 1006.2L1166.2 1006.8L1166.8 1007.5L1167.5 1008.1L1168.1 1008.7L1168.8 1009.3L1169.5 1009.9L1170.2 1010.5L1170.9 1011.1L1171.6 1011.6L1172.3 1012.2L1173 1012.7L1173.8 1013.3L1174.5 1013.8L1175.3 1014.4L1176 1014.9L1176.8 1015.4L1177.6 1015.9L1178.3 1016.4L1179.1 1016.9L1179.9 1017.4L1180.7 1017.9L1181.5 1018.4L1182.3 1018.8L1183.1 1019.3L1184 1019.7L1184.8 1020.2L1185.6 1020.6L1186.4 1021L1187.3 1021.4L1188.1 1021.8L1189 1022.2L1189.8 1022.6L1190.7 1023L1191.5 1023.3L1192.4 1023.7L1193.2 1024.1L1194.1 1024.4L1195 1024.7L1195.8 1025.1L1196.7 1025.4L1197.6 1025.7L1198.4 1026L1199.3 1026.3L1200.2 1026.6L1201.1 1026.8L1202 1027.1L1202.8 1027.4L1203.7 1027.6L1204.6 1027.9L1205.5 1028.1L1206.4 1028.3L1207.3 1028.6L1208.2 1028.8L1209.1 1029L1210 1029.2L1210.8 1029.4L1211.7 1029.6L1212.6 1029.7L1213.5 1029.9L1214.4 1030.1L1215.3 1030.2L1216.2 1030.4L1217.1 1030.5L1218 1030.7L1218.9 1030.8L1219.8 1030.9L1220.7 1031L1221.6 1031.1L1222.5 1031.2L1223.4 1031.3L1224.3 1031.4L1225.2 1031.5L1226.1 1031.6L1227 1031.7L1227.9 1031.8L1228.9 1031.8L1229.8 1031.9L1230.7 1032L1231.6 1032L1232.5 1032.1L1233.4 1032.2L1497 1032.2" stroke="#26828e" stroke-width="3" fill="none" stroke-linejoin="round"/>
<path d="M1174.6 751L1174.7 757.2L1174.7 762.1L1174.8 762.9L1174.8 772.6L1174.9 773.5L1174.9 780.8L1175 781.6L1175 788.1L1175.1 788.9L1175.1 793.8L1175.2 794.6L1175.2 798.6L1175.3 799.4L1175.3 802.7L1175.4 803.5L1175.4 806.8L1175.5 807.6L1175.5 810L1175.6 810.8L1175.6 813.2L1175.7 814L1175.7 815.7L1175.8 816.5L1175.8 818.1L1175.9 818.9L1175.9 820.5L1176 821.3L1176 823L1176.1 823.8L1176.1 824.6L1176.2 825.4L1176.2 827L1176.3 827.8L1176.3 828.6L1176.4 829.4L1176.4 830.2L1176.5 831.1L1176.5 832.7L1176.6 833.5L1176.6 834.3L1176.7 835.1L1176.7 835.9L1176.8 836.7L1176.9 837.5L1176.9 838.3L1177 839.1L1177 840L1177.1 840.8L1177.1 841.6L1177.2 842.4L1177.3 843.2L1177.3 844L1177.4 844.8L1177.4 845.6L1177.5 846.4L1177.6 847.2L1177.6 848L1177.7 848.8L1177.8 849.6L1177.9 850.5L1177.9 851.3L1178 852.1L1178.1 852.9L1178.2 853.7L1178.2 854.5L1178.3 855.3L1178.4 856.1L1178.5 856.9L1178.6 857.7L1178.6 858.5L1178.7 859.3L1178.8 860.1L1178.9 860.9L1179 861.7L1179.1 862.5L1179.2 863.4L1179.3 864.2L1179.4 865L1179.5 865.8L1179.6 866.6L1179.7 867.4L1179.8 868.2L1179.9 869L1180 869.8L1180.1 870.6L1180.2 871.4L1180.3 872.2L1180.4 873L1180.5 873.8L1180.6 874.6L1180.7 875.4L1180.9 876.2L1181 877L1181.1 877.8L1181.2 878.6L1181.4 879.4L1181.5 880.2L1181.6 881L1181.7 881.8L1181.9 882.6L1182 883.4L1182.1 884.2L1182.3 885L1182.4 885.8L1182.6 886.6L1182.7 887.5L1182.8 888.3L1183 889.1L1183.1 889.9L1183.3 890.7L1183.4 891.5L1183.6 892.3L1183.7 893.1L1183.9 893.9L1184 894.7L1184.2 895.5L1184.4 896.3L1184.5 897.1L1184.7 897.9L1184.9 898.7L1185 899.4L1185.2 900.2L1185.4 901L1185.6 901.8L1185.7 902.6L1185.9 903.4L1186.1 904.2L1186.3 905L1186.5 905.8L1186.7 906.6L1186.9 907.4L1187.1 908.2L1187.3 909L1187.5 909.8L1187.7 910.5L1187.9 911.3L1188.1 912.1L1188.3 912.9L1188.6 913.7L1188.8 914.5L1189 915.2L1189.2 916L1189.5 916.8L1189.7 917.6L1190 918.4L1190.2 919.1L1190.4 919.9L1190.7 920.7L1191 921.4L1191.2 922.2L1191.5 923L1191.7 923.7L1192 924.5L1192.3 925.3L1192.6 926L1192.9 926.8L1193.1 927.5L1193.4 928.3L1193.7 929.1L1194 929.8L1194.3 930.6L1194.6 931.3L1195 932L1195.3 932.8L1195.6 933.5L1195.9 934.3L1196.3 935L1196.6 935.7L1196.9 936.5L1197.3 937.2L1197.6 937.9L1198 938.6L1198.4 939.4L1198.7 940.1L1199.1 940.8L1199.5 941.5L1199.8 942.2L1200.2 942.9L1200.6 943.6L1201 944.4L1201.4 945.1L1201.8 945.8L1202.2 946.4L1202.7 947.1L1203.1 947.8L1203.5 948.5L1204 949.2L1204.4 949.9L1204.9 950.6L1205.3 951.2L1205.8 951.9L1206.2 952.6L1206.7 953.2L1207.2 953.9L1207.7 954.6L1208.2 955.2L1208.7 955.9L1209.2 956.5L1209.7 957.2L1210.2 957.8L1210.7 958.4L1211.2 959.1L1211.8 959.7L1212.3 960.3L1212.9 960.9L1213.4 961.5L1214 962.1L1214.5 962.7L1215.1 963.3L1215.7 963.9L1216.3 964.4L1216.9 965L1217.5 965.5L1218.1 966.1L1218.7 966.6L1219.3 967.1L1219.9 967.6L1220.5 968.1L1221.2 968.6L1221.8 969.1L1222.5 969.6L1223.1 970.1L1223.8 970.6L1224.4 971.1L1225.1 971.5L1225.8 972L1226.5 972.4L1227.2 972.9L1227.8 973.3L1228.5 973.7L1229.2 974.1L1229.9 974.6L1230.7 975L1231.4 975.4L1232.1 975.8L1232.8 976.1L1233.5 976.5L1234.2 976.9L1234.9 977.3L1235.7 977.6L1236.4 978L1237.1 978.3L1237.8 978.7L1238.6 979L1239.3 979.3L1240 979.6L1240.8 979.9L1241.5 980.2L1242.3 980.5L1243 980.8L1243.8 981.1L1244.6 981.4L1245.3 981.7L1246.1 981.9L1246.9 982.2L1247.7 982.4L1248.5 982.7L1249.3 982.9L1250.1 983.2L1250.9 983.4L1251.7 983.6L1252.5 983.8L1253.3 984L1254.2 984.2L1255 984.4L1255.9 984.6L1256.7 984.8L1257.6 985L1258.4 985.2L1259.2 985.3L1259.9 985.5L1260.6 985.6L1261.2 985.7L1261.7 985.8L1262.2 985.9L1262.6 986L1262.8 986L1263 986.1L1263.4 986.1L1263.8 986.2L1264.2 986.2L1264.6 986.3L1265.2 986.3L1265.8 986.4L1266.4 986.4L1267.1 986.5L1267.9 986.6L1268.7 986.7L1269.5 986.7L1270.4 986.8L1271.3 986.9L1272.2 986.9L1273.1 987L1274.1 987.1L1275 987.1L1276 987.2L1276.9 987.3L1497 987.3" stroke="#1f9e89" stroke-width="3" fill="none" stroke-linejoin="round"/>
<path d="M1222.8 751L1222.9 757.2L1222.9 759.4L1223 760.1L1223 762.2L1223.1 762.9L1223.1 764.4L1223.2 765.1L1223.2 766.5L1223.3 767.2L1223.3 768.7L1223.4 769.4L1223.4 770.1L1223.5 770.8L1223.5 772.2L1223.6 773L1223.6 773.7L1223.7 774.4L1223.7 775.1L1223.8 775.8L1223.8 776.5L1223.9 777.2L1223.9 778L1224 778.7L1224 779.4L1224.1 780.1L1224.1 780.8L1224.2 781.5L1224.2 782.2L1224.3 783L1224.3 783.7L1224.4 784.4L1224.4 785.1L1224.5 785.8L1224.6 786.5L1224.6 787.2L1224.7 788L1224.7 788.7L1224.8 789.4L1224.9 790.1L1224.9 790.8L1225 791.5L1225 792.2L1225.1 792.9L1225.2 793.7L1225.2 794.4L1225.3 795.1L1225.4 795.8L1225.4 796.5L1225.5 797.2L1225.6 797.9L1225.6 798.6L1225.7 799.4L1225.8 800.1L1225.8 800.8L1225.9 801.5L1226 802.2L1226 802.9L1226.1 803.6L1226.2 804.3L1226.2 805.1L1226.3 805.8L1226.4 806.5L1226.5 807.2L1226.5 807.9L1226.6 808.6L1226.7 809.3L1226.7 810L1226.8 810.7L1226.9 811.5L1226.9 812.2L1227 812.9L1227.1 813.6L1227.2 814.3L1227.2 815L1227.3 815.7L1227.4 816.4L1227.4 817.1L1227.5 817.9L1227.6 818.6L1227.7 819.3L1227.7 820L1227.8 820.7L1227.9 821.4L1227.9 822.1L1228 822.8L1228.1 823.5L1228.2 824.2L1228.2 825L1228.3 825.7L1228.4 826.4L1228.4 827.1L1228.5 827.8L1228.6 828.5L1228.7 829.2L1228.7 829.9L1228.8 830.6L1228.9 831.3L1228.9 832L1229 832.7L1229.1 833.5L1229.2 834.2L1229.3 834.9L1229.3 835.6L1229.4 836.3L1229.5 837L1229.6 837.7L1229.6 838.4L1229.7 839.1L1229.8 839.8L1229.9 840.5L1230 841.2L1230.1 841.9L1230.2 842.6L1230.2 843.3L1230.3 844L1230.4 844.7L1230.5 845.4L1230.6 846.1L1230.7 846.8L1230.8 847.5L1230.9 848.2L1231 848.9L1231.1 849.6L1231.2 850.3L1231.3 851L1231.4 851.7L1231.6 852.4L1231.7 853.1L1231.8 853.8L1231.9 854.5L1232 855.2L1232.1 855.9L1232.3 856.6L1232.4 857.3L1232.5 858L1232.7 858.6L1232.8 859.3L1232.9 860L1233.1 860.7L1233.2 861.4L1233.3 862.1L1233.5 862.8L1233.6 863.5L1233.8 864.2L1233.9 864.9L1234.1 865.5L1234.3 866.2L1234.4 866.9L1234.6 867.6L1234.8 868.3L1234.9 869L1235.1 869.7L1235.3 870.3L1235.5 871L1235.6 871.7L1235.8 872.4L1236 873.1L1236.2 873.8L1236.3 874.5L1236.5 875.1L1236.7 875.8L1236.8 876.5L1237 877.2L1237.2 877.9L1237.4 878.6L1237.6 879.3L1237.8 880L1238 880.6L1238.2 881.3L1238.4 882L1238.6 882.7L1238.8 883.4L1239 884.1L1239.3 884.8L1239.5 885.4L1239.7 886.1L1240 886.8L1240.2 887.5L1240.4 888.2L1240.7 888.8L1240.9 889.5L1241.2 890.2L1241.4 890.8L1241.7 891.5L1242 892.2L1242.2 892.8L1242.5 893.5L1242.8 894.2L1243.1 894.8L1243.4 895.5L1243.6 896.1L1243.9 896.8L1244.2 897.4L1244.5 898.1L1244.8 898.7L1245.2 899.4L1245.5 900L1245.8 900.7L1246.1 901.3L1246.4 901.9L1246.8 902.6L1247.1 903.2L1247.4 903.8L1247.8 904.4L1248.1 905L1248.5 905.7L1248.8 906.3L1249.2 906.9L1249.6 907.5L1249.9 908.1L1250.3 908.7L1250.7 909.3L1251.1 909.9L1251.4 910.4L1251.8 911L1252.2 911.6L1252.6 912.2L1253 912.7L1253.4 913.3L1253.8 913.9L1254.3 914.4L1254.7 915L1255.1 915.5L1255.5 916.1L1256 916.6L1256.4 917.1L1256.8 917.7L1257.3 918.2L1257.7 918.7L1258.2 919.2L1258.6 919.7L1259.1 920.2L1259.6 920.7L1260 921.2L1260.5 921.7L1261 922.2L1261.5 922.7L1262 923.1L1262.5 923.6L1263 924.1L1263.5 924.5L1264 925L1264.5 925.4L1265 925.8L1265.5 926.3L1266 926.7L1266.6 927.1L1267.1 927.5L1267.6 927.9L1268.2 928.3L1268.7 928.7L1269.3 929.1L1269.8 929.5L1270.4 929.9L1271 930.3L1271.5 930.6L1272.1 931L1272.7 931.3L1273.3 931.7L1273.9 932L1274.4 932.4L1275 932.7L1275.6 933L1276.2 933.4L1276.8 933.7L1277.5 934L1278.1 934.3L1278.7 934.6L1279.3 934.9L1279.9 935.2L1280.6 935.5L1281.2 935.8L1281.8 936.1L1282.5 936.3L1283.1 936.6L1283.7 936.9L1284.4 937.1L1285 937.4L1285.7 937.6L1286.4 937.9L1287 938.1L1287.7 938.4L1288.3 938.6L1289 938.8L1289.7 939L1290.3 939.2L1291 939.5L1291.7 939.7L1292.4 939.9L1293.1 940.1L1293.7 940.3L1294.4 940.5L1295.1 940.6L1295.8 940.8L1296.5 941L1297.2 941.2L1297.9 941.4L1298.6 941.5L1299.3 941.7L1300 941.8L1300.7 942L1301.4 942.1L1302.1 942.3L1302.8 942.4L1303.5 942.6L1304.3 942.7L1305 942.8L1305.7 943L1306.4 943.1L1307.1 943.2L1307.8 943.3L1308.6 943.4L1309.3 943.5L1310 943.6L1310.7 943.7L1311.4 943.8L1312.2 943.9L1312.9 944L1313.6 944.1L1314.4 944.2L1315.1 944.3L1315.8 944.4L1316.5 944.4L1317.3 944.5L1318 944.6L1318.7 944.6L1319.5 944.7L1320.2 944.8L1320.9 944.9L1497 944.9" stroke="#35b779" stroke-width="3" fill="none" stroke-linejoin="round"/>
<path d="M1271.1 751L1271.8 757.4L1271.9 757.9L1272 758.5L1272 759.1L1272.1 759.6L1272.2 760.2L1272.2 760.8L1272.3 761.3L1272.3 761.9L1272.4 762.5L1272.5 763.1L1272.5 763.6L1272.6 764.2L1272.6 764.8L1272.7 765.4L1272.8 765.9L1272.8 766.5L1272.9 767.1L1272.9 767.7L1273 768.3L1273 768.8L1273.1 769.4L1273.1 770L1273.2 770.6L1273.2 771.2L1273.3 771.8L1273.3 772.3L1273.4 772.9L1273.4 773.5L1273.5 774.1L1273.5 774.7L1273.6 775.3L1273.6 775.9L1273.7 776.5L1273.7 777L1273.8 777.6L1273.8 778.2L1273.9 778.8L1273.9 779.4L1274 780L1274 780.6L1274.1 781.2L1274.1 781.8L1274.2 782.4L1274.2 783L1274.3 783.6L1274.3 784.2L1274.4 784.7L1274.4 785.3L1274.5 785.9L1274.5 786.5L1274.6 787.1L1274.6 787.7L1274.7 788.3L1274.7 788.9L1274.8 789.5L1274.8 790.1L1274.9 790.7L1274.9 791.3L1275 791.9L1275 792.5L1275.1 793.1L1275.1 793.7L1275.2 794.3L1275.2 794.9L1275.3 795.5L1275.3 796.1L1275.4 796.7L1275.5 797.3L1275.5 797.9L1275.6 798.5L1275.6 799.1L1275.7 799.7L1275.7 800.3L1275.8 800.9L1275.9 801.5L1275.9 802.1L1276 802.7L1276.1 803.3L1276.1 803.9L1276.2 804.5L1276.3 805.1L1276.3 805.7L1276.4 806.3L1276.5 806.8L1276.5 807.4L1276.6 808L1276.7 808.6L1276.8 809.2L1276.8 809.8L1276.9 810.4L1277 811L1277.1 811.6L1277.2 812.2L1277.3 812.8L1277.3 813.4L1277.4 814L1277.5 814.6L1277.6 815.2L1277.7 815.8L1277.8 816.4L1277.9 817L1278 817.6L1278.1 818.1L1278.2 818.7L1278.3 819.3L1278.4 819.9L1278.5 820.5L1278.6 821.1L1278.7 821.7L1278.8 822.3L1278.9 822.9L1279 823.4L1279.1 824L1279.2 824.6L1279.4 825.2L1279.5 825.8L1279.6 826.4L1279.7 827L1279.9 827.5L1280 828.1L1280.1 828.7L1280.2 829.3L1280.4 829.9L1280.5 830.4L1280.6 831L1280.8 831.6L1280.9 832.2L1281.1 832.8L1281.2 833.3L1281.4 833.9L1281.5 834.5L1281.7 835.1L1281.8 835.6L1282 836.2L1282.1 836.8L1282.3 837.3L1282.5 837.9L1282.6 838.5L1282.8 839L1283 839.6L1283.2 840.2L1283.3 840.7L1283.5 841.3L1283.7 841.9L1283.9 842.4L1284.1 843L1284.3 843.6L1284.5 844.1L1284.6 844.7L1284.8 845.2L1285 845.8L1285.3 846.3L1285.5 846.9L1285.7 847.4L1285.9 848L1286.1 848.5L1286.3 849.1L1286.5 849.6L1286.8 850.2L1287 850.7L1287.2 851.3L1287.5 851.8L1287.7 852.4L1287.9 852.9L1288.2 853.4L1288.4 854L1288.7 854.5L1288.9 855.1L1289.2 855.6L1289.4 856.1L1289.7 856.7L1290 857.2L1290.2 857.7L1290.5 858.2L1290.8 858.8L1291 859.3L1291.3 859.8L1291.6 860.3L1291.9 860.9L1292.2 861.4L1292.5 861.9L1292.8 862.4L1293.1 862.9L1293.4 863.4L1293.7 863.9L1294 864.4L1294.3 864.9L1294.6 865.4L1294.9 865.9L1295.2 866.4L1295.5 866.9L1295.9 867.4L1296.2 867.9L1296.5 868.4L1296.9 868.9L1297.2 869.4L1297.5 869.8L1297.9 870.3L1298.2 870.8L1298.6 871.3L1298.9 871.7L1299.2 872.2L1299.6 872.7L1299.9 873.1L1300.3 873.6L1300.6 874.1L1301 874.5L1301.4 875L1301.7 875.5L1302.1 875.9L1302.4 876.4L1302.8 876.8L1303.2 877.3L1303.6 877.7L1303.9 878.1L1304.3 878.6L1304.7 879L1305.1 879.4L1305.5 879.9L1305.9 880.3L1306.3 880.7L1306.7 881.1L1307.1 881.5L1307.5 882L1307.9 882.4L1308.3 882.8L1308.7 883.2L1309.1 883.6L1309.5 884L1309.9 884.3L1310.4 884.7L1310.8 885.1L1311.2 885.5L1311.7 885.9L1312.1 886.2L1312.5 886.6L1313 887L1313.4 887.3L1313.9 887.7L1314.3 888L1314.8 888.4L1315.2 888.7L1315.7 889L1316.1 889.4L1316.6 889.7L1317.1 890L1317.5 890.3L1318 890.7L1318.5 891L1319 891.3L1319.4 891.6L1319.9 891.9L1320.4 892.2L1320.9 892.5L1321.4 892.7L1321.9 893L1322.4 893.3L1322.9 893.6L1323.4 893.8L1323.9 894.1L1324.4 894.4L1324.9 894.6L1325.4 894.9L1326 895.1L1326.5 895.4L1327 895.6L1327.5 895.8L1328 896.1L1328.6 896.3L1329.1 896.5L1329.6 896.8L1330.2 897L1330.7 897.2L1331.3 897.4L1331.8 897.6L1332.3 897.8L1332.9 898L1333.4 898.2L1334 898.4L1334.5 898.6L1335.1 898.8L1335.6 898.9L1336.2 899.1L1336.8 899.3L1337.3 899.5L1337.9 899.6L1338.5 899.8L1339 900L1339.6 900.1L1340.2 900.3L1340.7 900.4L1341.3 900.6L1341.9 900.7L1342.5 900.9L1343 901L1343.6 901.1L1344.2 901.3L1344.8 901.4L1345.4 901.5L1346 901.7L1346.5 901.8L1347.1 901.9L1347.7 902L1348.3 902.1L1348.9 902.2L1349.5 902.3L1350.1 902.4L1350.7 902.5L1351.3 902.6L1351.9 902.7L1352.5 902.8L1353.1 902.9L1353.7 903L1354.3 903.1L1354.9 903.2L1355.5 903.3L1356.1 903.3L1356.7 903.4L1357.3 903.5L1357.9 903.6L1358.5 903.6L1359.1 903.7L1359.7 903.8L1360.3 903.8L1360.9 903.9L1361.5 904L1362.1 904L1362.7 904.1L1363.3 904.1L1364 904.2L1364.6 904.2L1365.2 904.3L1365.8 904.4L1497 904.4" stroke="#6ece58" stroke-width="3" fill="none" stroke-linejoin="round"/>
<path d="M1321.8 751L1322.3 757.3L1322.4 757.8L1322.4 758.3L1322.5 758.7L1322.5 759.2L1322.6 759.7L1322.6 760.6L1322.7 761.1L1322.7 761.6L1322.8 762.1L1322.8 762.6L1322.9 763L1322.9 763.5L1323 764L1323 764.5L1323.1 765L1323.1 765.5L1323.2 765.9L1323.2 766.4L1323.3 766.9L1323.3 767.4L1323.4 767.9L1323.4 768.4L1323.5 768.9L1323.5 769.4L1323.6 769.9L1323.7 770.4L1323.7 770.9L1323.8 771.3L1323.8 771.8L1323.9 772.3L1324 772.8L1324 773.3L1324.1 773.8L1324.1 774.3L1324.2 774.8L1324.3 775.3L1324.3 775.8L1324.4 776.3L1324.5 776.8L1324.6 777.3L1324.6 777.8L1324.7 778.3L1324.8 778.8L1324.8 779.3L1324.9 779.8L1325 780.3L1325.1 780.8L1325.2 781.3L1325.2 781.8L1325.3 782.3L1325.4 782.8L1325.5 783.3L1325.6 783.8L1325.7 784.3L1325.8 784.8L1325.8 785.3L1325.9 785.8L1326 786.3L1326.1 786.8L1326.2 787.3L1326.3 787.8L1326.4 788.3L1326.5 788.8L1326.6 789.3L1326.7 789.8L1326.8 790.3L1326.9 790.8L1327 791.3L1327.1 791.8L1327.3 792.3L1327.4 792.8L1327.5 793.3L1327.6 793.8L1327.7 794.3L1327.8 794.8L1328 795.3L1328.1 795.8L1328.2 796.3L1328.3 796.8L1328.4 797.3L1328.6 797.8L1328.7 798.3L1328.8 798.8L1329 799.3L1329.1 799.8L1329.2 800.3L1329.4 800.8L1329.5 801.3L1329.7 801.8L1329.8 802.3L1330 802.8L1330.1 803.3L1330.3 803.7L1330.4 804.2L1330.6 804.7L1330.7 805.2L1330.9 805.7L1331 806.2L1331.2 806.7L1331.4 807.1L1331.5 807.6L1331.7 808.1L1331.9 808.6L1332.1 809.1L1332.2 809.6L1332.4 810L1332.6 810.5L1332.8 811L1333 811.5L1333.1 811.9L1333.3 812.4L1333.5 812.9L1333.7 813.4L1333.9 813.8L1334.1 814.3L1334.3 814.8L1334.5 815.2L1334.7 815.7L1334.9 816.2L1335.1 816.6L1335.3 817.1L1335.6 817.6L1335.8 818L1336 818.5L1336.2 818.9L1336.4 819.4L1336.7 819.8L1336.9 820.3L1337.1 820.7L1337.4 821.2L1337.6 821.6L1337.8 822.1L1338.1 822.5L1338.3 823L1338.6 823.4L1338.8 823.9L1339 824.3L1339.3 824.8L1339.6 825.2L1339.8 825.6L1340.1 826.1L1340.3 826.5L1340.6 826.9L1340.9 827.4L1341.1 827.8L1341.4 828.2L1341.7 828.6L1341.9 829.1L1342.2 829.5L1342.5 829.9L1342.8 830.3L1343.1 830.7L1343.3 831.1L1343.6 831.6L1343.9 832L1344.2 832.4L1344.5 832.8L1344.8 833.2L1345.1 833.6L1345.4 834L1345.7 834.4L1346 834.8L1346.3 835.2L1346.6 835.6L1346.9 836L1347.2 836.4L1347.6 836.7L1347.9 837.1L1348.2 837.5L1348.5 837.9L1348.8 838.3L1349.2 838.6L1349.5 839L1349.8 839.4L1350.2 839.8L1350.5 840.1L1350.8 840.5L1351.2 840.8L1351.5 841.2L1351.8 841.6L1352.2 841.9L1352.5 842.3L1352.9 842.6L1353.2 843L1353.6 843.3L1353.9 843.7L1354.3 844L1354.7 844.3L1355 844.7L1355.4 845L1355.7 845.3L1356.1 845.7L1356.5 846L1356.8 846.3L1357.2 846.6L1357.6 847L1358 847.3L1358.3 847.6L1358.7 847.9L1359.1 848.2L1359.5 848.5L1359.9 848.8L1360.3 849.1L1360.7 849.4L1361 849.7L1361.4 850L1361.8 850.3L1362.2 850.6L1362.6 850.9L1363 851.1L1363.4 851.4L1363.8 851.7L1364.2 852L1364.6 852.2L1365.1 852.5L1365.5 852.8L1365.9 853L1366.3 853.3L1366.7 853.5L1367.1 853.8L1367.6 854L1368 854.3L1368.4 854.5L1368.8 854.7L1369.3 855L1369.7 855.2L1370.1 855.4L1370.5 855.7L1371 855.9L1371.4 856.1L1371.9 856.3L1372.3 856.5L1372.7 856.7L1373.2 857L1373.6 857.2L1374.1 857.4L1374.5 857.6L1375 857.8L1375.4 857.9L1375.9 858.1L1376.3 858.3L1376.8 858.5L1377.2 858.7L1377.7 858.9L1378.2 859L1378.6 859.2L1379.1 859.4L1379.5 859.5L1380 859.7L1380.5 859.9L1380.9 860L1381.4 860.2L1381.9 860.3L1382.3 860.5L1382.8 860.6L1383.3 860.8L1383.8 860.9L1384.2 861.1L1384.7 861.2L1385.2 861.3L1385.7 861.5L1386.2 861.6L1386.6 861.7L1387.1 861.9L1387.6 862L1388.1 862.1L1388.6 862.2L1389.1 862.3L1389.6 862.5L1390 862.6L1390.5 862.7L1391 862.8L1391.5 862.9L1392 863L1392.5 863.1L1393 863.2L1393.5 863.3L1394 863.4L1394.5 863.5L1395 863.6L1395.5 863.7L1396 863.8L1396.5 863.8L1397 863.9L1397.5 864L1398 864.1L1398.5 864.2L1399 864.2L1399.5 864.3L1400 864.4L1400.5 864.4L1401 864.5L1401.5 864.6L1402 864.6L1402.5 864.7L1403 864.8L1403.5 864.8L1404.1 864.9L1404.6 864.9L1405.1 865L1405.6 865L1406.1 865.1L1406.6 865.1L1407.1 865.2L1407.6 865.2L1408.1 865.3L1409.2 865.3L1409.7 865.5L1497 865.5" stroke="#b5de2b" stroke-width="3" fill="none" stroke-linejoin="round"/>
<path d="M1375.9 751L1376.2 756.8L1376.3 757.3L1376.3 758.5L1376.4 758.9L1376.4 759.7L1376.5 760.1L1376.5 760.5L1376.6 760.9L1376.6 761.4L1376.7 761.8L1376.7 762.2L1376.8 762.6L1376.8 763L1376.9 763.4L1377 763.8L1377 764.2L1377.1 764.6L1377.2 765L1377.2 765.4L1377.3 765.8L1377.4 766.2L1377.5 766.6L1377.5 767L1377.6 767.4L1377.7 767.8L1377.8 768.1L1377.9 768.5L1378 768.9L1378.1 769.3L1378.1 769.7L1378.2 770.1L1378.3 770.5L1378.4 770.9L1378.5 771.3L1378.6 771.6L1378.8 772L1378.9 772.4L1379 772.8L1379.1 773.2L1379.2 773.5L1379.3 773.9L1379.4 774.3L1379.6 774.7L1379.7 775.1L1379.8 775.4L1379.9 775.8L1380.1 776.2L1380.2 776.6L1380.3 776.9L1380.4 777.3L1380.6 777.7L1380.7 778L1380.9 778.4L1381 778.8L1381.1 779.1L1381.3 779.5L1381.4 779.9L1381.6 780.2L1381.7 780.6L1381.9 780.9L1382 781.3L1382.2 781.7L1382.4 782L1382.5 782.4L1382.7 782.7L1382.8 783.1L1383 783.4L1383.2 783.8L1383.4 784.1L1383.5 784.5L1383.7 784.8L1383.9 785.2L1384 785.5L1384.2 785.9L1384.4 786.2L1384.6 786.6L1384.8 786.9L1385 787.2L1385.1 787.6L1385.3 787.9L1385.5 788.3L1385.7 788.6L1385.9 788.9L1386.1 789.3L1386.3 789.6L1386.5 789.9L1386.7 790.3L1386.9 790.6L1387.1 790.9L1387.3 791.2L1387.5 791.6L1387.7 791.9L1387.9 792.2L1388.2 792.5L1388.4 792.9L1388.6 793.2L1388.8 793.5L1389 793.8L1389.2 794.1L1389.5 794.4L1389.7 794.7L1389.9 795.1L1390.1 795.4L1390.4 795.7L1390.6 796L1390.8 796.3L1391.1 796.6L1391.3 796.9L1391.5 797.2L1391.8 797.5L1392 797.8L1392.2 798.1L1392.5 798.4L1392.7 798.7L1393 799L1393.2 799.3L1393.5 799.6L1393.7 799.9L1394 800.2L1394.2 800.5L1394.5 800.8L1394.7 801L1395 801.3L1395.2 801.6L1395.5 801.9L1395.8 802.2L1396 802.5L1396.3 802.7L1396.6 803L1396.8 803.3L1397.1 803.6L1397.4 803.8L1397.6 804.1L1397.9 804.4L1398.2 804.6L1398.4 804.9L1398.7 805.2L1399 805.4L1399.3 805.7L1399.6 806L1399.8 806.2L1400.1 806.5L1400.4 806.7L1400.7 807L1401 807.2L1401.3 807.5L1401.5 807.8L1401.8 808L1402.1 808.3L1402.4 808.5L1402.7 808.7L1403 809L1403.3 809.2L1403.6 809.5L1403.9 809.7L1404.2 810L1404.5 810.2L1404.8 810.4L1405.1 810.7L1405.4 810.9L1405.7 811.1L1406 811.4L1406.3 811.6L1406.6 811.8L1406.9 812L1407.3 812.3L1407.6 812.5L1407.9 812.7L1408.2 812.9L1408.5 813.1L1408.8 813.3L1409.1 813.6L1409.5 813.8L1409.8 814L1410.1 814.2L1410.4 814.4L1410.7 814.6L1411.1 814.8L1411.4 815L1411.7 815.2L1412 815.4L1412.4 815.6L1412.7 815.8L1413 816L1413.4 816.2L1413.7 816.4L1414 816.6L1414.4 816.8L1414.7 816.9L1415 817.1L1415.4 817.3L1415.7 817.5L1416 817.7L1416.4 817.9L1416.7 818L1417.1 818.2L1417.4 818.4L1417.7 818.6L1418.1 818.7L1418.4 818.9L1418.8 819.1L1419.1 819.2L1419.5 819.4L1419.8 819.5L1420.2 819.7L1420.5 819.9L1420.9 820L1421.2 820.2L1421.6 820.3L1421.9 820.5L1422.3 820.6L1422.6 820.8L1423 820.9L1423.3 821.1L1423.7 821.2L1424.1 821.3L1424.4 821.5L1424.8 821.6L1425.1 821.8L1425.5 821.9L1425.9 822L1426.2 822.1L1426.6 822.3L1426.9 822.4L1427.3 822.5L1427.7 822.6L1428 822.8L1428.4 822.9L1428.8 823L1429.1 823.1L1429.5 823.2L1429.9 823.3L1430.2 823.4L1430.6 823.6L1431 823.7L1431.4 823.8L1431.7 823.9L1432.1 824L1432.5 824.1L1432.8 824.2L1433.2 824.3L1433.6 824.4L1434 824.5L1434.3 824.5L1434.7 824.6L1435.1 824.7L1435.5 824.8L1435.8 824.9L1436.2 825L1436.6 825.1L1437 825.1L1437.4 825.2L1437.7 825.3L1438.1 825.4L1438.5 825.5L1438.9 825.5L1439.3 825.6L1439.7 825.7L1440 825.7L1440.4 825.8L1440.8 825.9L1441.2 825.9L1441.6 826L1442 826.1L1442.3 826.1L1442.7 826.2L1443.1 826.3L1443.5 826.3L1443.9 826.4L1444.3 826.4L1444.7 826.5L1445 826.5L1445.4 826.6L1445.8 826.6L1446.2 826.7L1446.6 826.7L1447 826.8L1447.4 826.8L1447.8 826.9L1448.2 826.9L1448.6 827L1449.3 827L1449.7 827.1L1450.5 827.1L1450.9 827.2L1451.3 827.2L1451.7 827.3L1452.9 827.3L1453.3 827.4L1454 827.4L1454.4 827.5L1454.8 827.6L1497 827.6" stroke="#fde725" stroke-width="3" fill="none" stroke-linejoin="round"/>
</g>
<path d="M975.00 1345.00 v7 M1123.00 1345.00 v7 M1272.00 1345.00 v7 M1420.00 1345.00 v7 M901.00 1345.00 h-7 M901.00 1227.00 h-7 M901.00 1109.00 h-7 M901.00 991.00 h-7 M901.00 873.00 h-7" stroke="#000" stroke-width="1.6" fill="none"/>
<rect x="901.00" y="757.00" width="591.00" height="588.00" fill="none" stroke="#000" stroke-width="1.6"/>
<g opacity="0.999">
<text x="161.40" y="675.10" font-size="27.00">10</text>
<text x="195.15" y="665.10" font-size="18.90">19</text>
<text x="293.15" y="675.10" font-size="27.00">10</text>
<text x="326.90" y="665.10" font-size="18.90">21</text>
<text x="424.90" y="675.10" font-size="27.00">10</text>
<text x="458.65" y="665.10" font-size="18.90">23</text>
<text x="556.65" y="675.10" font-size="27.00">10</text>
<text x="590.40" y="665.10" font-size="18.90">25</text>
<text x="688.40" y="675.10" font-size="27.00">10</text>
<text x="722.15" y="665.10" font-size="18.90">27</text>
<text x="129.02" y="650.60" font-size="27.00">10</text>
<text x="163.18" y="640.60" font-size="18.90">8</text>
<text x="129.02" y="486.85" font-size="27.00">10</text>
<text x="163.18" y="476.85" font-size="18.90">9</text>
<text x="116.99" y="323.10" font-size="27.00">10</text>
<text x="151.15" y="313.10" font-size="18.90">10</text>
<text x="116.99" y="159.35" font-size="27.00">10</text>
<text x="151.15" y="149.35" font-size="18.90">11</text>
<text transform="translate(486.00,39.90) rotate(0) scale(1.006,1.06)" font-size="32.40" text-anchor="middle">Varying scaling policy</text>
<text x="872.40" y="675.10" font-size="27.00">10</text>
<text x="906.15" y="665.10" font-size="18.90">12</text>
<text x="971.40" y="675.10" font-size="27.00">10</text>
<text x="1005.15" y="665.10" font-size="18.90">13</text>
<text x="1070.40" y="675.10" font-size="27.00">10</text>
<text x="1104.15" y="665.10" font-size="18.90">14</text>
<text x="1169.40" y="675.10" font-size="27.00">10</text>
<text x="1203.15" y="665.10" font-size="18.90">15</text>
<text x="1268.40" y="675.10" font-size="27.00">10</text>
<text x="1302.15" y="665.10" font-size="18.90">16</text>
<text x="1367.40" y="675.10" font-size="27.00">10</text>
<text x="1401.15" y="665.10" font-size="18.90">17</text>
<text x="840.02" y="598.80" font-size="27.00">10</text>
<text x="874.18" y="588.80" font-size="18.90">4</text>
<text x="840.02" y="495.20" font-size="27.00">10</text>
<text x="874.18" y="485.20" font-size="18.90">5</text>
<text x="840.02" y="391.60" font-size="27.00">10</text>
<text x="874.18" y="381.60" font-size="18.90">6</text>
<text x="840.02" y="288.00" font-size="27.00">10</text>
<text x="874.18" y="278.00" font-size="18.90">7</text>
<text x="840.02" y="184.40" font-size="27.00">10</text>
<text x="874.18" y="174.40" font-size="18.90">8</text>
<text x="840.02" y="80.80" font-size="27.00">10</text>
<text x="874.18" y="70.80" font-size="18.90">9</text>
<text transform="translate(1196.50,39.90) rotate(0) scale(1.006,1.06)" font-size="32.40" text-anchor="middle">MCTS</text>
<text x="267.00" y="1381.10" font-size="27.00">10</text>
<text x="300.75" y="1371.10" font-size="18.90">20</text>
<text x="429.60" y="1381.10" font-size="27.00">10</text>
<text x="463.35" y="1371.10" font-size="18.90">22</text>
<text x="592.20" y="1381.10" font-size="27.00">10</text>
<text x="625.95" y="1371.10" font-size="18.90">24</text>
<text x="129.02" y="1356.50" font-size="27.00">10</text>
<text x="163.18" y="1346.50" font-size="18.90">8</text>
<text x="116.99" y="1285.85" font-size="27.00">10</text>
<text x="151.15" y="1275.85" font-size="18.90">11</text>
<text x="116.99" y="1215.20" font-size="27.00">10</text>
<text x="151.15" y="1205.20" font-size="18.90">14</text>
<text x="116.99" y="1144.55" font-size="27.00">10</text>
<text x="151.15" y="1134.55" font-size="18.90">17</text>
<text x="116.99" y="1073.90" font-size="27.00">10</text>
<text x="151.15" y="1063.90" font-size="18.90">20</text>
<text x="116.99" y="1003.25" font-size="27.00">10</text>
<text x="151.15" y="993.25" font-size="18.90">23</text>
<text x="116.99" y="932.60" font-size="27.00">10</text>
<text x="151.15" y="922.60" font-size="18.90">26</text>
<text x="116.99" y="861.95" font-size="27.00">10</text>
<text x="151.15" y="851.95" font-size="18.90">29</text>
<text x="116.99" y="791.30" font-size="27.00">10</text>
<text x="151.15" y="781.30" font-size="18.90">32</text>
<text transform="translate(486.00,745.90) rotate(0) scale(1.006,1.06)" font-size="32.40" text-anchor="middle">Resampling - unlimited</text>
<text x="946.55" y="1381.10" font-size="27.00">10</text>
<text x="980.30" y="1371.10" font-size="18.90">19</text>
<text x="1094.75" y="1381.10" font-size="27.00">10</text>
<text x="1128.50" y="1371.10" font-size="18.90">21</text>
<text x="1242.95" y="1381.10" font-size="27.00">10</text>
<text x="1276.70" y="1371.10" font-size="18.90">23</text>
<text x="1391.15" y="1381.10" font-size="27.00">10</text>
<text x="1424.90" y="1371.10" font-size="18.90">25</text>
<text x="840.02" y="1356.00" font-size="27.00">10</text>
<text x="874.18" y="1346.00" font-size="18.90">8</text>
<text x="827.99" y="1237.96" font-size="27.00">10</text>
<text x="862.15" y="1227.96" font-size="18.90">10</text>
<text x="827.99" y="1119.92" font-size="27.00">10</text>
<text x="862.15" y="1109.92" font-size="18.90">12</text>
<text x="827.99" y="1001.88" font-size="27.00">10</text>
<text x="862.15" y="991.88" font-size="18.90">14</text>
<text x="827.99" y="883.84" font-size="27.00">10</text>
<text x="862.15" y="873.84" font-size="18.90">16</text>
<text transform="translate(1196.50,745.90) rotate(0) scale(1.006,1.06)" font-size="32.40" text-anchor="middle">Resampling - limited</text>
<text transform="translate(820.70,1506.00) rotate(0) scale(1.006,1.06)" font-size="32.40" text-anchor="middle">Training compute (FLOP)</text>
<text transform="translate(38.50,690.70) rotate(-90) scale(1.006,1.06)" font-size="32.40" text-anchor="middle">Inference compute (FLOP)</text>
</g></svg></body></html>
